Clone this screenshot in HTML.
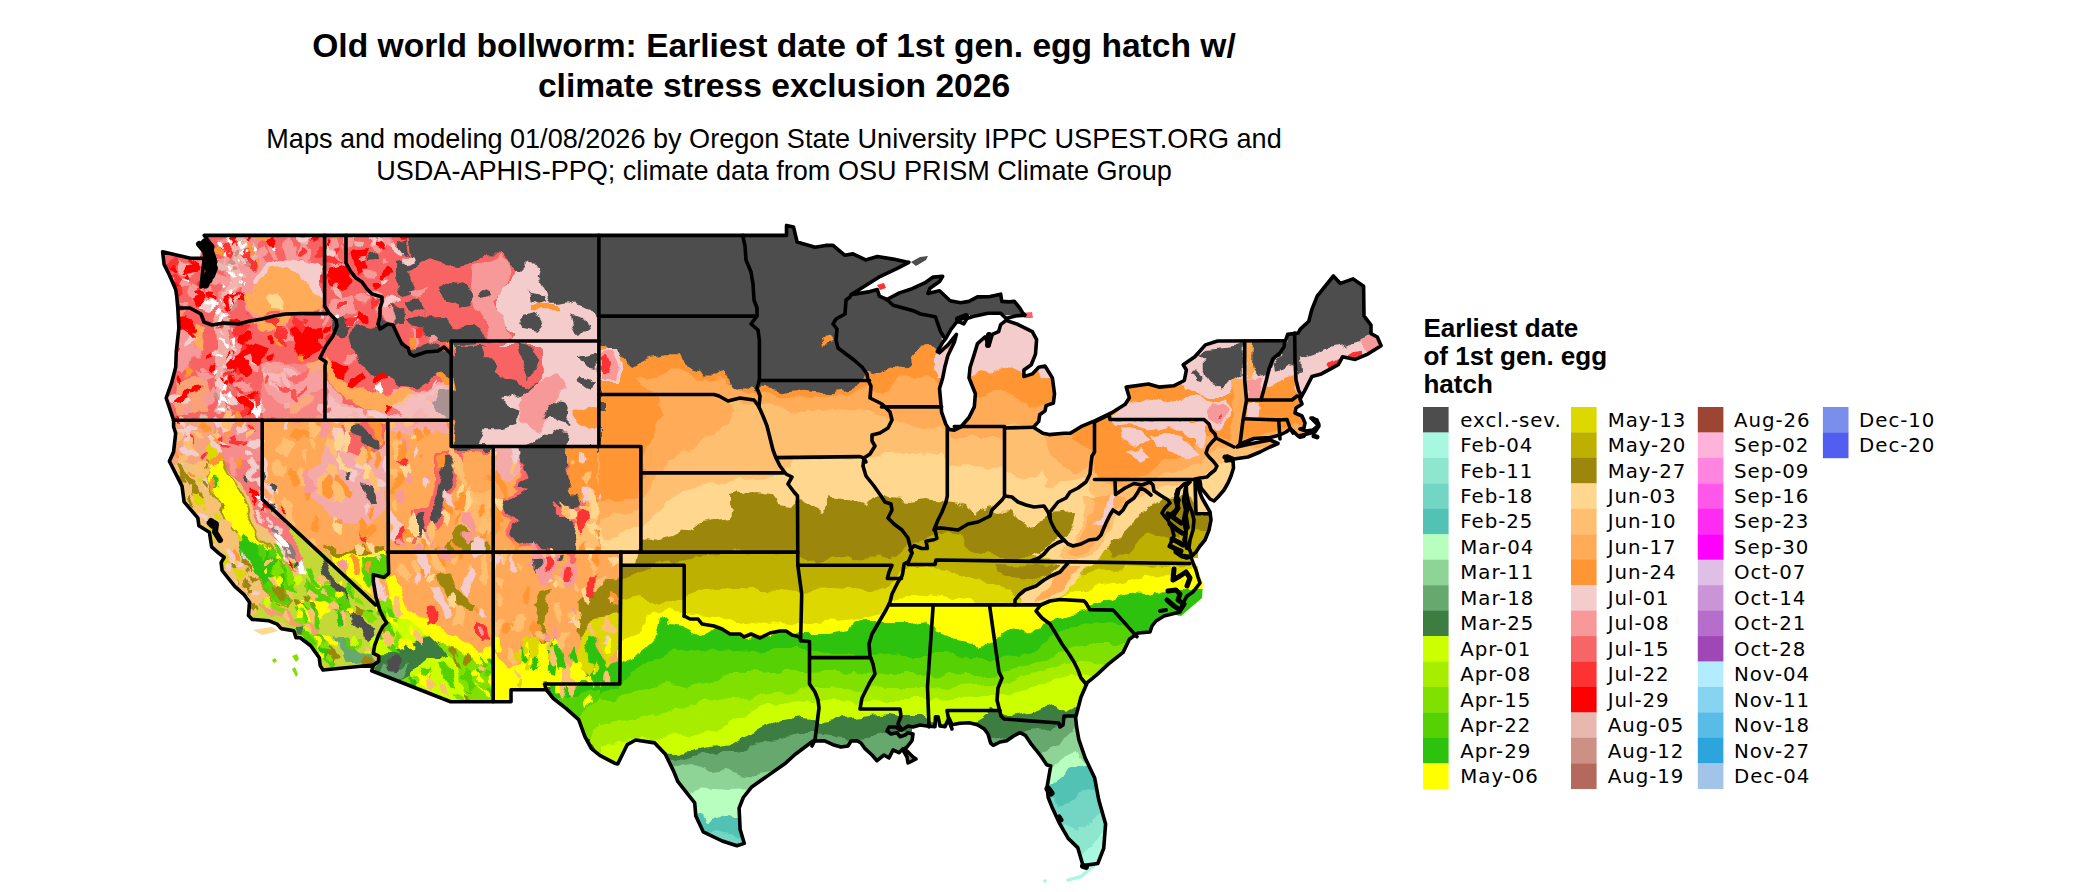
<!DOCTYPE html>
<html><head><meta charset="utf-8"><title>Old world bollworm map</title>
<style>
html,body{margin:0;padding:0;background:#fff;}
svg{display:block}
.t1{font-family:"Liberation Sans",sans-serif;font-weight:bold;font-size:33.6px;fill:#000;text-anchor:middle}
.t2{font-family:"Liberation Sans",sans-serif;font-size:27.07px;fill:#000;text-anchor:middle}
.lt{font-family:"Liberation Sans",sans-serif;font-weight:bold;font-size:26.05px;fill:#000}
.lg{font-family:"DejaVu Sans",sans-serif;font-size:19.8px;letter-spacing:0.95px;fill:#000}
</style></head><body>
<svg width="2100" height="892" viewBox="0 0 2100 892">
<rect width="2100" height="892" fill="#fff"/>
<text class="t1" x="774" y="57.2">Old world bollworm: Earliest date of 1st gen. egg hatch w/</text>
<text class="t1" x="774" y="96.5">climate stress exclusion 2026</text>
<text class="t2" x="774" y="147.8">Maps and modeling 01/08/2026 by Oregon State University IPPC USPEST.ORG and</text>
<text class="t2" x="774" y="180.3">USDA-APHIS-PPQ; climate data from OSU PRISM Climate Group</text>
<text class="lt" x="1423.4" y="336.5">Earliest date</text>
<text class="lt" x="1423.4" y="364.5">of 1st gen. egg</text>
<text class="lt" x="1423.4" y="392.5">hatch</text>

<rect x="1423.0" y="407.00" width="25.6" height="25.75" fill="#4d4d4d"/>
<text x="1460.3" y="426.6" class="lg">excl.-sev.</text>
<rect x="1423.0" y="432.45" width="25.6" height="25.75" fill="#a8f7e0"/>
<text x="1460.3" y="452.1" class="lg">Feb-04</text>
<rect x="1423.0" y="457.90" width="25.6" height="25.75" fill="#8ee6cf"/>
<text x="1460.3" y="477.5" class="lg">Feb-11</text>
<rect x="1423.0" y="483.35" width="25.6" height="25.75" fill="#73d5c3"/>
<text x="1460.3" y="503.0" class="lg">Feb-18</text>
<rect x="1423.0" y="508.80" width="25.6" height="25.75" fill="#52c2b5"/>
<text x="1460.3" y="528.4" class="lg">Feb-25</text>
<rect x="1423.0" y="534.25" width="25.6" height="25.75" fill="#b8ffbf"/>
<text x="1460.3" y="553.9" class="lg">Mar-04</text>
<rect x="1423.0" y="559.70" width="25.6" height="25.75" fill="#8fd497"/>
<text x="1460.3" y="579.3" class="lg">Mar-11</text>
<rect x="1423.0" y="585.15" width="25.6" height="25.75" fill="#67a86e"/>
<text x="1460.3" y="604.8" class="lg">Mar-18</text>
<rect x="1423.0" y="610.60" width="25.6" height="25.75" fill="#3e7d42"/>
<text x="1460.3" y="630.2" class="lg">Mar-25</text>
<rect x="1423.0" y="636.05" width="25.6" height="25.75" fill="#ccff00"/>
<text x="1460.3" y="655.7" class="lg">Apr-01</text>
<rect x="1423.0" y="661.50" width="25.6" height="25.75" fill="#a6ed00"/>
<text x="1460.3" y="681.1" class="lg">Apr-08</text>
<rect x="1423.0" y="686.95" width="25.6" height="25.75" fill="#80e000"/>
<text x="1460.3" y="706.6" class="lg">Apr-15</text>
<rect x="1423.0" y="712.40" width="25.6" height="25.75" fill="#55d104"/>
<text x="1460.3" y="732.0" class="lg">Apr-22</text>
<rect x="1423.0" y="737.85" width="25.6" height="25.75" fill="#2dc20e"/>
<text x="1460.3" y="757.5" class="lg">Apr-29</text>
<rect x="1423.0" y="763.30" width="25.6" height="25.75" fill="#ffff00"/>
<text x="1460.3" y="782.9" class="lg">May-06</text>
<rect x="1571.0" y="407.00" width="25.6" height="25.75" fill="#ddd800"/>
<text x="1607.7" y="426.6" class="lg">May-13</text>
<rect x="1571.0" y="432.45" width="25.6" height="25.75" fill="#bdb000"/>
<text x="1607.7" y="452.1" class="lg">May-20</text>
<rect x="1571.0" y="457.90" width="25.6" height="25.75" fill="#9c870c"/>
<text x="1607.7" y="477.5" class="lg">May-27</text>
<rect x="1571.0" y="483.35" width="25.6" height="25.75" fill="#ffd78f"/>
<text x="1607.7" y="503.0" class="lg">Jun-03</text>
<rect x="1571.0" y="508.80" width="25.6" height="25.75" fill="#ffbf70"/>
<text x="1607.7" y="528.4" class="lg">Jun-10</text>
<rect x="1571.0" y="534.25" width="25.6" height="25.75" fill="#ffab57"/>
<text x="1607.7" y="553.9" class="lg">Jun-17</text>
<rect x="1571.0" y="559.70" width="25.6" height="25.75" fill="#ff9633"/>
<text x="1607.7" y="579.3" class="lg">Jun-24</text>
<rect x="1571.0" y="585.15" width="25.6" height="25.75" fill="#f5cccc"/>
<text x="1607.7" y="604.8" class="lg">Jul-01</text>
<rect x="1571.0" y="610.60" width="25.6" height="25.75" fill="#f79999"/>
<text x="1607.7" y="630.2" class="lg">Jul-08</text>
<rect x="1571.0" y="636.05" width="25.6" height="25.75" fill="#f76666"/>
<text x="1607.7" y="655.7" class="lg">Jul-15</text>
<rect x="1571.0" y="661.50" width="25.6" height="25.75" fill="#fc3333"/>
<text x="1607.7" y="681.1" class="lg">Jul-22</text>
<rect x="1571.0" y="686.95" width="25.6" height="25.75" fill="#ff0000"/>
<text x="1607.7" y="706.6" class="lg">Jul-29</text>
<rect x="1571.0" y="712.40" width="25.6" height="25.75" fill="#e8b8ae"/>
<text x="1607.7" y="732.0" class="lg">Aug-05</text>
<rect x="1571.0" y="737.85" width="25.6" height="25.75" fill="#cc9085"/>
<text x="1607.7" y="757.5" class="lg">Aug-12</text>
<rect x="1571.0" y="763.30" width="25.6" height="25.75" fill="#b36a5c"/>
<text x="1607.7" y="782.9" class="lg">Aug-19</text>
<rect x="1697.8" y="407.00" width="25.6" height="25.75" fill="#9c4533"/>
<text x="1734.0" y="426.6" class="lg">Aug-26</text>
<rect x="1697.8" y="432.45" width="25.6" height="25.75" fill="#ffb3db"/>
<text x="1734.0" y="452.1" class="lg">Sep-02</text>
<rect x="1697.8" y="457.90" width="25.6" height="25.75" fill="#ff85e0"/>
<text x="1734.0" y="477.5" class="lg">Sep-09</text>
<rect x="1697.8" y="483.35" width="25.6" height="25.75" fill="#ff57ea"/>
<text x="1734.0" y="503.0" class="lg">Sep-16</text>
<rect x="1697.8" y="508.80" width="25.6" height="25.75" fill="#ff2bf2"/>
<text x="1734.0" y="528.4" class="lg">Sep-23</text>
<rect x="1697.8" y="534.25" width="25.6" height="25.75" fill="#ff00ff"/>
<text x="1734.0" y="553.9" class="lg">Sep-30</text>
<rect x="1697.8" y="559.70" width="25.6" height="25.75" fill="#e0bfe6"/>
<text x="1734.0" y="579.3" class="lg">Oct-07</text>
<rect x="1697.8" y="585.15" width="25.6" height="25.75" fill="#c995d6"/>
<text x="1734.0" y="604.8" class="lg">Oct-14</text>
<rect x="1697.8" y="610.60" width="25.6" height="25.75" fill="#b56ec9"/>
<text x="1734.0" y="630.2" class="lg">Oct-21</text>
<rect x="1697.8" y="636.05" width="25.6" height="25.75" fill="#a047b8"/>
<text x="1734.0" y="655.7" class="lg">Oct-28</text>
<rect x="1697.8" y="661.50" width="25.6" height="25.75" fill="#b3ecff"/>
<text x="1734.0" y="681.1" class="lg">Nov-04</text>
<rect x="1697.8" y="686.95" width="25.6" height="25.75" fill="#87d4f0"/>
<text x="1734.0" y="706.6" class="lg">Nov-11</text>
<rect x="1697.8" y="712.40" width="25.6" height="25.75" fill="#59bce6"/>
<text x="1734.0" y="732.0" class="lg">Nov-18</text>
<rect x="1697.8" y="737.85" width="25.6" height="25.75" fill="#2ba5db"/>
<text x="1734.0" y="757.5" class="lg">Nov-27</text>
<rect x="1697.8" y="763.30" width="25.6" height="25.75" fill="#a1c4e8"/>
<text x="1734.0" y="782.9" class="lg">Dec-04</text>
<rect x="1822.9" y="407.00" width="25.6" height="25.75" fill="#7a8feb"/>
<text x="1859.1" y="426.6" class="lg">Dec-10</text>
<rect x="1822.9" y="432.45" width="25.6" height="25.75" fill="#525eef"/>
<text x="1859.1" y="452.1" class="lg">Dec-20</text>
<defs><clipPath id="us"><path d="M204.2,235.4 L786.5,235.4 L786.5,225.4 L793.5,226.9 L797.1,242.0 L815.0,247.3 L825.6,245.4 L833.0,245.4 L844.6,255.2 L853.0,253.9 L865.7,259.9 L877.3,256.5 L893.1,259.1 L905.7,261.8 L908.9,262.3 L897.3,268.4 L880.4,276.3 L865.7,285.5 L850.9,294.8 L869.9,291.6 L877.3,289.5 L879.4,296.1 L886.8,299.5 L899.4,292.9 L912.1,288.7 L924.7,282.9 L933.2,277.1 L942.7,276.3 L939.5,281.6 L930.0,288.2 L927.9,293.4 L939.5,290.8 L950.1,300.8 L960.6,302.7 L969.0,301.4 L977.5,296.9 L990.1,296.6 L1000.7,294.2 L1001.8,301.4 L1009.1,301.9 L1014.4,301.4 L1019.7,308.0 L1022.9,313.2 L1025.0,315.1 L1015.5,315.9 L1006.0,318.5 L1000.7,313.2 L988.0,313.2 L975.4,315.9 L966.9,318.5 L963.8,323.8 L957.4,321.2 L951.1,329.1 L945.8,338.3 L942.7,342.3 L937.4,351.5 L939.5,352.8 L947.9,344.9 L956.4,334.4 L954.3,342.3 L947.9,355.5 L944.8,367.3 L942.7,377.9 L939.5,388.5 L940.6,400.3 L941.6,412.2 L945.8,424.1 L949.0,429.4 L954.3,430.1 L960.6,427.2 L969.0,417.5 L974.3,406.9 L975.4,393.7 L969.0,377.9 L970.1,367.3 L974.3,354.1 L977.5,343.6 L984.9,337.0 L989.1,344.9 L992.3,334.4 L998.6,331.7 L1000.7,324.6 L1006.0,320.4 L1017.6,324.3 L1032.3,331.7 L1036.6,339.6 L1035.5,354.1 L1031.3,364.7 L1023.9,370.0 L1023.9,376.6 L1032.3,373.9 L1038.7,367.3 L1045.0,366.0 L1052.4,377.9 L1054.5,393.7 L1053.4,403.0 L1046.1,405.6 L1045.0,410.9 L1039.7,414.8 L1038.7,421.4 L1033.4,427.2 L1042.9,433.3 L1049.2,434.6 L1064.0,433.3 L1070.3,433.3 L1080.9,426.7 L1095.2,420.6 L1111.3,413.0 L1125.2,404.3 L1129.4,397.7 L1126.2,387.1 L1148.4,384.0 L1158.9,387.1 L1173.7,385.8 L1184.3,380.5 L1186.4,370.0 L1183.2,364.7 L1194.8,356.8 L1205.4,344.9 L1217.6,341.0 L1285.5,340.7 L1287.7,334.4 L1298.2,333.0 L1300.3,329.1 L1308.8,321.2 L1311.9,309.3 L1317.2,296.1 L1333.4,276.0 L1340.4,283.4 L1353.1,278.9 L1363.6,286.3 L1364.0,315.9 L1371.0,325.1 L1371.0,333.6 L1377.3,337.0 L1381.1,345.7 L1367.8,354.1 L1355.2,359.4 L1342.5,356.8 L1338.3,364.7 L1321.4,373.9 L1311.9,376.6 L1304.5,391.1 L1300.0,399.0 L1302.0,404.0 L1296.0,408.0 L1295.0,413.0 L1302.0,416.0 L1305.0,423.0 L1304.0,428.0 L1300.0,429.0 L1306.0,431.0 L1313.0,430.0 L1318.0,426.0 L1317.0,420.0 L1311.0,418.0 L1317.0,420.0 L1319.0,426.0 L1315.0,432.0 L1305.0,434.5 L1298.0,436.0 L1292.0,430.0 L1290.0,429.0 L1286.0,432.0 L1280.0,435.0 L1270.0,437.5 L1254.0,438.5 L1240.0,444.0 L1237.0,447.0 L1250.0,444.0 L1262.0,441.5 L1270.0,440.0 L1278.0,443.5 L1270.0,447.0 L1260.0,452.0 L1248.0,457.0 L1234.0,459.0 L1227.0,456.0 L1226.0,461.0 L1233.0,460.0 L1233.5,468.0 L1231.0,476.0 L1228.0,483.0 L1224.0,490.0 L1218.0,497.0 L1214.0,501.0 L1210.0,499.0 L1206.0,494.0 L1201.0,488.0 L1200.0,481.0 L1197.0,481.0 L1199.0,490.0 L1202.0,498.0 L1206.0,505.0 L1210.0,512.0 L1211.0,520.0 L1209.0,530.0 L1205.0,540.0 L1200.0,546.0 L1196.0,552.0 L1192.0,556.0 L1189.0,548.0 L1190.0,540.0 L1193.0,530.0 L1194.0,520.0 L1192.0,512.0 L1189.0,505.0 L1187.0,496.0 L1186.0,486.0 L1190.0,482.0 L1184.0,484.0 L1178.0,490.0 L1176.0,494.0 L1179.0,500.0 L1176.0,510.0 L1170.0,515.0 L1168.0,520.0 L1172.0,528.0 L1174.0,536.0 L1172.0,540.0 L1170.0,545.0 L1176.0,550.0 L1180.0,555.0 L1186.0,558.0 L1190.6,556.0 L1193.5,564.0 L1196.0,570.0 L1198.0,577.0 L1200.0,583.0 L1193.0,592.0 L1187.0,596.0 L1183.0,603.0 L1180.0,612.0 L1172.0,614.0 L1164.0,616.0 L1156.0,621.0 L1152.0,626.0 L1150.0,632.0 L1138.0,633.0 L1129.4,639.2 L1123.1,652.4 L1108.3,664.2 L1096.7,674.8 L1087.2,682.7 L1080.9,697.2 L1075.6,717.8 L1076.7,727.6 L1078.8,739.4 L1085.1,757.9 L1094.6,777.7 L1098.8,800.1 L1105.6,823.9 L1103.7,848.4 L1097.8,863.5 L1083.0,865.6 L1077.7,847.6 L1068.2,838.4 L1059.8,823.9 L1052.4,808.1 L1048.2,797.5 L1047.1,786.9 L1050.7,766.0 L1046.7,764.7 L1041.3,756.7 L1036.0,750.0 L1030.7,743.3 L1025.3,735.3 L1020.0,732.7 L1014.7,735.3 L1006.7,740.7 L1000.0,742.0 L993.3,745.3 L990.7,743.3 L988.0,734.0 L984.0,728.7 L977.3,724.7 L969.3,722.7 L960.0,723.3 L952.0,724.7 L949.0,718.0 L947.0,722.0 L945.0,726.7 L940.0,726.0 L938.0,716.7 L935.5,716.7 L935.0,726.7 L927.0,726.0 L920.0,725.0 L913.0,727.0 L908.0,726.0 L904.0,728.7 L900.0,730.0 L896.0,727.0 L889.0,727.0 L887.0,731.0 L891.0,734.0 L897.0,732.7 L900.0,736.7 L905.0,735.0 L908.0,732.7 L913.0,734.0 L912.0,740.7 L907.0,747.0 L903.0,750.0 L907.0,757.0 L908.0,763.0 L916.0,759.0 L913.0,757.0 L907.0,751.0 L903.0,748.7 L899.0,752.7 L893.0,750.0 L889.0,758.0 L884.0,755.0 L877.0,760.7 L872.0,755.0 L865.0,748.7 L861.0,743.0 L857.0,740.7 L851.0,741.0 L848.0,746.0 L841.0,747.0 L833.0,744.7 L824.0,740.7 L813.0,741.0 L795.0,754.5 L785.5,763.2 L768.6,775.1 L751.7,786.9 L743.3,797.5 L739.1,808.1 L740.1,829.2 L744.3,843.4 L736.9,845.8 L722.2,841.0 L703.2,831.8 L695.8,816.0 L694.7,802.8 L677.9,781.7 L673.6,771.1 L665.2,754.0 L654.7,742.9 L635.7,740.0 L627.2,744.7 L617.7,764.0 L614.6,763.2 L599.8,755.3 L591.4,748.7 L585.0,736.8 L578.7,719.6 L566.0,708.3 L553.4,698.5 L546.4,689.8 L511.0,689.8 L511.0,701.7 L450.6,701.7 L371.7,670.8 L373.6,665.0 L323.0,670.0 L320.2,665.5 L319.2,657.6 L310.7,645.8 L300.2,637.8 L296.0,637.8 L293.8,630.7 L281.2,628.6 L277.0,624.1 L268.5,620.7 L252.3,619.4 L248.5,615.4 L249.5,602.2 L243.8,594.3 L234.8,586.4 L222.1,570.5 L221.1,562.6 L224.2,557.3 L218.9,553.4 L211.6,546.8 L209.4,532.3 L198.9,525.7 L197.8,517.8 L184.1,501.9 L182.0,486.1 L169.4,461.3 L173.6,451.8 L175.7,433.3 L173.6,426.7 L173.6,420.1 L166.2,398.0 L171.5,383.2 L175.7,367.3 L176.3,351.5 L178.9,327.8 L177.8,308.0 L176.7,296.1 L175.7,289.5 L169.4,275.0 L164.1,264.4 L162.6,251.8 L190.5,258.3 L204.2,258.3 L201.0,286.9 L210.5,281.0 L212.6,272.3 L215.8,261.8 L209.4,242.0ZM1164.0,478.0 L1200.0,478.0 L1198.0,558.0 L1166.0,558.0Z M203.5,238.0 L220.0,238.0 L220.0,290.0 L200.0,290.0 L199.0,262.0Z M1172.0,566.0 L1198.0,566.0 L1201.0,598.0 L1178.0,616.0 L1168.0,600.0Z M1194.0,565.0 L1203.0,583.0 L1202.0,598.0 L1181.0,616.0 L1172.0,614.0Z M887.0,726.0 L912.0,726.0 L912.0,740.0 L887.0,737.0Z"/></clipPath></defs>
<defs><filter id="wob" x="140" y="210" width="1280" height="690" filterUnits="userSpaceOnUse" color-interpolation-filters="sRGB"><feTurbulence type="fractalNoise" baseFrequency="0.045" numOctaves="3" seed="7" result="n"/><feDisplacementMap in="SourceGraphic" in2="n" scale="14" xChannelSelector="R" yChannelSelector="G"/></filter></defs>
<g clip-path="url(#us)"><g filter="url(#wob)">
<rect x="150" y="220" width="1260" height="670" fill="#ffab57"/>
<path d="M150.0,220.0 L1410.0,220.0 L1410.0,890.0 L150.0,890.0Z" fill="#4d4d4d"/>
<path d="M598.0,900.0 L598.0,344.7 L598.0,344.7 L607.6,346.4 L618.2,353.5 L625.2,360.5 L632.3,367.6 L641.1,362.3 L648.1,358.8 L658.7,357.0 L665.8,355.2 L678.1,355.2 L681.6,364.0 L688.7,367.6 L699.2,369.3 L704.5,376.4 L713.3,376.4 L723.9,372.9 L730.9,379.9 L738.0,387.0 L745.0,385.2 L752.1,387.0 L756.5,390.5 L759.1,388.7 L766.2,388.7 L783.8,392.2 L801.4,388.7 L819.0,390.5 L827.8,392.2 L836.7,388.7 L850.7,386.9 L861.3,381.7 L864.8,372.9 L868.4,369.3 L880.7,371.1 L889.5,367.6 L903.6,369.3 L912.4,364.0 L912.4,355.2 L919.5,348.2 L933.6,346.4 L942.0,346.0 L950.0,330.0 L960.0,316.0 L1045.0,316.0 L1060.0,400.0 L1100.0,400.0 L1180.0,335.0 L1300.0,300.0 L1400.0,270.0 L1410.0,270.0 L1410.0,900.0Z" fill="#ff9633"/>
<path d="M598.0,900.0 L598.0,505.0 L598.0,505.0 L640.0,497.0 L644.0,462.0 L652.0,436.0 L664.0,414.0 L659.0,400.0 L648.0,394.0 L637.6,380.0 L660.5,373.0 L678.0,371.0 L695.7,374.6 L702.8,380.0 L724.0,378.0 L734.5,385.0 L748.6,390.5 L756.5,394.0 L784.0,397.5 L819.0,396.0 L854.0,390.5 L868.0,387.0 L889.5,390.5 L898.0,378.0 L916.0,376.4 L933.6,378.0 L942.0,390.0 L950.0,398.0 L962.0,400.0 L974.0,397.0 L988.0,391.0 L1001.0,391.0 L1018.0,399.0 L1028.0,407.0 L1043.0,406.0 L1052.0,398.0 L1056.0,412.0 L1045.0,434.0 L1068.0,432.0 L1073.0,437.0 L1080.0,444.0 L1093.0,450.7 L1096.0,470.0 L1100.0,480.0 L1130.0,480.0 L1150.0,470.0 L1170.0,460.0 L1190.0,448.0 L1205.0,440.0 L1215.0,436.0 L1236.0,440.0 L1260.0,436.0 L1300.0,425.0 L1410.0,425.0 L1410.0,425.0 L1410.0,900.0Z" fill="#ffab57"/>
<path d="M598.0,900.0 L598.0,520.0 L598.0,520.0 L642.0,510.0 L650.0,478.0 L684.0,452.0 L706.0,438.0 L730.0,424.0 L733.0,412.0 L722.0,399.0 L745.0,404.0 L760.0,406.0 L790.0,409.0 L830.0,411.0 L868.0,413.0 L885.0,418.0 L900.0,424.0 L946.0,428.0 L948.0,438.0 L1004.0,438.0 L1004.0,427.0 L1033.0,426.0 L1041.0,433.0 L1046.7,438.7 L1046.7,456.0 L1060.0,464.0 L1073.0,474.7 L1089.0,466.7 L1094.0,470.0 L1100.0,482.0 L1116.0,484.0 L1140.0,488.0 L1160.0,478.0 L1180.0,470.0 L1200.0,462.0 L1210.0,452.0 L1225.0,448.0 L1240.0,446.0 L1410.0,446.0 L1410.0,446.0 L1410.0,900.0Z" fill="#ffbf70"/>
<path d="M598.0,900.0 L598.0,540.0 L598.0,540.0 L641.0,526.0 L660.0,510.0 L682.0,492.0 L710.0,482.0 L740.0,478.0 L770.0,476.0 L790.0,470.0 L797.0,458.0 L860.0,456.0 L900.0,455.0 L946.0,456.0 L948.0,466.0 L1004.0,467.0 L1005.0,474.7 L1020.0,480.0 L1033.0,474.7 L1044.0,469.0 L1050.7,477.0 L1044.0,486.7 L1060.0,485.0 L1073.0,482.7 L1084.0,480.0 L1090.0,490.0 L1100.0,496.0 L1140.0,495.0 L1150.0,490.0 L1165.0,486.0 L1180.0,484.0 L1197.0,480.0 L1205.0,474.0 L1215.0,466.0 L1232.0,460.0 L1410.0,460.0 L1410.0,460.0 L1410.0,900.0Z" fill="#ffd78f"/>
<path d="M598.0,900.0 L598.0,572.0 L598.0,572.0 L620.0,568.0 L636.0,566.0 L638.0,552.0 L641.0,540.0 L647.0,538.0 L660.0,540.0 L674.0,536.0 L690.0,528.0 L700.0,520.0 L714.0,518.0 L730.0,516.0 L734.0,510.0 L728.0,506.0 L728.0,494.0 L736.0,492.0 L744.0,498.0 L756.0,494.0 L770.0,496.0 L776.0,504.0 L790.0,506.0 L796.0,498.0 L800.0,496.0 L810.0,506.0 L822.0,512.0 L828.0,506.0 L828.0,494.0 L840.0,496.0 L850.0,498.0 L860.0,502.0 L870.0,506.0 L874.0,498.0 L882.0,496.0 L890.0,500.0 L910.0,502.0 L930.0,500.0 L946.0,503.0 L960.0,505.0 L967.0,507.0 L973.0,515.0 L984.0,507.0 L991.0,505.0 L996.0,511.0 L1004.0,513.0 L1012.0,512.0 L1020.0,520.0 L1030.0,526.0 L1040.0,524.0 L1050.0,514.0 L1075.0,512.0 L1100.0,515.0 L1130.0,520.0 L1148.0,511.0 L1159.0,503.0 L1170.0,497.0 L1186.0,496.0 L1192.0,505.0 L1197.0,514.0 L1215.0,514.0 L1410.0,514.0 L1410.0,514.0 L1410.0,900.0Z" fill="#9c870c"/>
<path d="M598.0,900.0 L598.0,590.0 L598.0,590.0 L620.0,580.0 L636.0,575.0 L660.0,561.0 L700.0,556.0 L740.0,552.0 L797.0,556.0 L810.0,560.0 L850.0,557.0 L890.0,558.0 L906.0,548.0 L915.0,541.0 L935.0,535.0 L950.0,533.0 L960.0,535.0 L964.0,548.0 L980.0,554.0 L1000.0,558.0 L1030.0,559.0 L1049.0,548.0 L1064.0,541.0 L1076.0,545.0 L1107.0,548.0 L1113.0,557.7 L1127.0,555.0 L1140.0,541.7 L1153.0,535.0 L1167.0,539.0 L1180.0,535.0 L1187.0,524.0 L1195.0,528.0 L1215.0,530.0 L1410.0,530.0 L1410.0,530.0 L1410.0,900.0Z" fill="#bdb000"/>
<path d="M598.0,900.0 L598.0,610.0 L598.0,610.0 L621.0,600.0 L640.0,596.0 L660.0,606.0 L684.0,596.0 L700.0,590.0 L740.0,588.0 L780.0,590.0 L800.0,592.0 L830.0,590.0 L870.0,592.0 L890.0,586.0 L898.0,576.0 L910.0,568.0 L935.0,568.0 L955.0,572.0 L970.0,578.0 L992.0,582.0 L1010.0,590.0 L1020.0,598.0 L1030.0,602.0 L1060.0,596.0 L1073.0,575.0 L1087.0,573.7 L1100.0,569.7 L1127.0,568.0 L1153.0,569.7 L1173.0,569.7 L1200.0,568.0 L1410.0,568.0 L1410.0,568.0 L1410.0,900.0Z" fill="#ddd800"/>
<path d="M598.0,900.0 L598.0,650.0 L598.0,650.0 L621.0,642.0 L636.0,634.0 L650.0,616.0 L660.0,612.0 L684.0,614.0 L700.0,616.0 L730.0,620.0 L760.0,624.0 L780.0,622.0 L800.0,624.0 L830.0,622.0 L860.0,618.0 L880.0,612.0 L892.0,600.0 L910.0,594.0 L935.0,596.0 L960.0,600.0 L992.0,604.0 L1020.0,603.0 L1041.0,604.0 L1060.0,597.0 L1073.0,591.0 L1087.0,591.0 L1097.0,585.7 L1113.0,583.0 L1127.0,580.0 L1140.0,579.0 L1160.0,576.0 L1173.0,575.0 L1200.0,572.0 L1410.0,572.0 L1410.0,572.0 L1410.0,900.0Z" fill="#ffff00"/>
<path d="M598.0,900.0 L598.0,676.0 L598.0,676.0 L620.0,664.0 L636.0,654.0 L650.0,642.0 L658.0,632.0 L662.0,616.0 L670.0,624.0 L682.0,626.0 L698.0,634.0 L710.0,628.0 L722.0,631.0 L730.0,636.0 L750.0,640.0 L770.0,636.0 L780.0,630.0 L790.0,634.0 L800.0,634.0 L830.0,634.0 L850.0,630.0 L854.0,622.0 L866.0,618.0 L878.0,622.0 L890.0,624.0 L910.0,624.0 L926.0,620.0 L936.0,632.0 L950.0,638.0 L970.0,642.0 L980.0,650.0 L990.0,642.0 L1000.0,638.0 L1010.0,632.0 L1030.0,630.0 L1042.0,626.0 L1050.0,622.0 L1070.0,614.0 L1086.0,612.0 L1090.0,607.0 L1097.0,604.0 L1107.0,601.7 L1120.0,596.0 L1129.0,593.7 L1140.0,595.0 L1148.0,597.7 L1156.0,592.0 L1167.0,591.0 L1180.0,588.0 L1210.0,588.0 L1410.0,588.0 L1410.0,900.0Z" fill="#2dc20e"/>
<path d="M598.0,900.0 L598.0,696.0 L598.0,696.0 L620.0,684.0 L630.0,670.0 L650.0,660.0 L670.0,652.0 L690.0,650.0 L710.0,652.0 L730.0,650.0 L750.0,652.0 L770.0,648.0 L790.0,648.0 L808.0,648.0 L830.0,656.0 L850.0,656.0 L866.0,656.0 L880.0,652.0 L900.0,656.0 L930.0,656.0 L950.0,656.0 L970.0,660.0 L990.0,660.0 L1010.0,656.0 L1030.0,650.0 L1046.0,642.0 L1056.0,636.0 L1074.0,630.0 L1090.0,624.0 L1110.0,622.0 L1130.0,626.0 L1138.0,632.0 L1160.0,632.0 L1410.0,632.0 L1410.0,900.0Z" fill="#55d104"/>
<path d="M598.0,900.0 L598.0,704.0 L610.0,704.0 L630.0,696.0 L650.0,688.0 L670.0,684.0 L690.0,688.0 L710.0,684.0 L730.0,670.0 L750.0,670.0 L770.0,672.0 L790.0,672.0 L808.0,672.0 L820.0,670.0 L840.0,670.0 L870.0,672.0 L890.0,674.0 L930.0,674.0 L950.0,672.0 L990.0,674.0 L1010.0,670.0 L1030.0,664.0 L1050.0,656.0 L1066.0,650.0 L1080.0,646.0 L1100.0,644.0 L1118.0,644.0 L1140.0,644.0 L1410.0,644.0 L1410.0,900.0Z" fill="#80e000"/>
<path d="M598.0,900.0 L598.0,726.0 L598.0,726.0 L630.0,718.0 L670.0,712.0 L700.0,705.0 L730.0,698.0 L760.0,694.0 L790.0,690.0 L810.0,688.0 L830.0,688.0 L860.0,690.0 L880.0,688.0 L930.0,688.0 L990.0,684.0 L1010.0,680.0 L1030.0,676.0 L1050.0,670.0 L1070.0,662.0 L1084.0,660.0 L1102.0,662.0 L1125.0,658.0 L1410.0,658.0 L1410.0,900.0Z" fill="#a6ed00"/>
<path d="M598.0,900.0 L598.0,744.0 L598.0,744.0 L630.0,738.0 L660.0,736.0 L690.0,738.0 L710.0,730.0 L730.0,722.0 L750.0,712.0 L770.0,704.0 L790.0,702.0 L810.0,700.0 L830.0,700.0 L860.0,702.0 L890.0,700.0 L930.0,700.0 L990.0,698.0 L1010.0,694.0 L1030.0,690.0 L1050.0,682.0 L1070.0,676.0 L1080.0,676.0 L1110.0,672.0 L1410.0,672.0 L1410.0,900.0Z" fill="#ccff00"/>
<path d="M598.0,900.0 L598.0,775.0 L598.0,775.0 L640.0,766.0 L658.0,752.0 L674.0,753.0 L690.0,752.0 L710.0,747.0 L730.0,744.0 L740.0,738.0 L750.0,734.0 L770.0,726.0 L786.0,720.0 L800.0,717.0 L814.0,718.0 L820.0,724.0 L830.0,722.0 L850.0,718.0 L870.0,716.0 L890.0,714.0 L900.0,716.0 L920.0,716.0 L930.0,724.0 L940.0,726.0 L950.0,724.0 L970.0,724.0 L990.0,712.0 L1006.0,712.0 L1014.0,716.0 L1030.0,712.0 L1046.0,706.0 L1054.0,702.0 L1066.0,712.0 L1074.0,708.0 L1100.0,704.0 L1410.0,704.0 L1410.0,900.0Z" fill="#3e7d42"/>
<path d="M598.0,900.0 L598.0,780.0 L598.0,780.0 L650.0,770.0 L668.0,758.0 L682.0,760.0 L700.0,756.0 L720.0,752.0 L736.0,752.0 L750.0,744.0 L770.0,740.0 L790.0,736.0 L800.0,734.0 L816.0,734.0 L830.0,736.0 L850.0,738.0 L870.0,740.0 L876.0,734.0 L890.0,732.0 L905.0,730.0 L940.0,740.0 L980.0,740.0 L1000.0,738.0 L1020.0,734.0 L1040.0,730.0 L1056.0,726.0 L1062.0,722.0 L1074.0,718.0 L1100.0,716.0 L1410.0,716.0 L1410.0,900.0Z" fill="#67a86e"/>
<path d="M598.0,900.0 L598.0,790.0 L598.0,790.0 L660.0,775.0 L674.0,768.0 L690.0,766.0 L710.0,772.0 L726.0,770.0 L740.0,774.0 L760.0,776.0 L800.0,770.0 L1000.0,770.0 L1030.0,760.0 L1040.0,754.0 L1050.0,748.0 L1062.0,742.0 L1070.0,734.0 L1076.0,726.0 L1100.0,724.0 L1410.0,724.0 L1410.0,900.0Z" fill="#8fd497"/>
<path d="M598.0,900.0 L598.0,790.0 L670.0,790.0 L686.0,792.0 L698.0,788.0 L714.0,790.0 L730.0,791.0 L760.0,790.0 L1000.0,790.0 L1040.0,774.0 L1050.0,766.0 L1058.0,760.0 L1070.0,754.0 L1078.0,752.0 L1084.0,760.0 L1110.0,760.0 L1410.0,760.0 L1410.0,900.0Z" fill="#b8ffbf"/>
<path d="M598.0,900.0 L598.0,810.0 L680.0,810.0 L698.0,814.0 L710.0,822.0 L718.0,818.0 L730.0,814.0 L736.0,816.0 L770.0,816.0 L1000.0,810.0 L1040.0,790.0 L1050.0,782.0 L1060.0,776.0 L1066.0,770.0 L1076.0,766.0 L1086.0,764.0 L1110.0,764.0 L1410.0,764.0 L1410.0,900.0Z" fill="#52c2b5"/>
<path d="M598.0,900.0 L598.0,828.0 L690.0,828.0 L706.0,830.0 L722.0,834.0 L740.0,837.0 L770.0,838.0 L1000.0,830.0 L1040.0,800.0 L1048.0,794.0 L1056.0,798.0 L1064.0,808.0 L1074.0,796.0 L1086.0,792.0 L1096.0,790.0 L1120.0,790.0 L1410.0,790.0 L1410.0,900.0Z" fill="#73d5c3"/>
<path d="M1030.0,900.0 L1030.0,840.0 L1040.0,840.0 L1064.0,826.0 L1074.0,832.0 L1086.0,828.0 L1092.0,818.0 L1102.0,814.0 L1120.0,812.0 L1410.0,812.0 L1410.0,900.0Z" fill="#8ee6cf"/>
<path d="M1075.0,900.0 L1075.0,860.0 L1080.0,860.0 L1094.0,842.0 L1098.0,834.0 L1104.0,826.0 L1120.0,824.0 L1410.0,824.0 L1410.0,900.0Z" fill="#a8f7e0"/>
<path d="M1073.0,495.0 L1140.0,495.0 L1127.0,515.0 L1107.0,545.7 L1100.0,559.0 L1080.0,575.0 L1060.0,596.0 L1041.0,603.0 L1020.0,601.7 L1027.0,591.0 L1047.0,575.0 L1057.0,567.0 L1049.0,556.0 L1041.0,559.0 L1033.0,557.7 L1060.0,540.0 L1068.0,535.0 L1073.0,521.7 L1076.0,508.0Z" fill="#ffd78f"/>
<path d="M1083.0,495.0 L1134.0,495.0 L1120.0,515.0 L1104.0,540.0 L1093.0,555.0 L1073.0,560.0 L1060.0,557.0 L1075.0,540.0 L1082.0,521.7 L1086.0,508.0Z" fill="#ffbf70"/>
<path d="M1093.0,495.0 L1127.0,495.0 L1113.0,515.0 L1100.0,535.0 L1087.0,551.0 L1073.0,557.7 L1067.0,555.0 L1080.0,539.0 L1087.0,521.7 L1091.0,508.0Z" fill="#ffab57"/>
<path d="M1112.0,495.0 L1120.0,495.0 L1113.0,508.0 L1100.0,523.0 L1093.0,524.0 L1104.0,508.0Z" fill="#f5cccc"/>
<path d="M1068.0,564.0 L1084.0,564.0 L1073.0,575.0 L1060.0,588.0 L1047.0,599.0 L1033.0,601.7 L1044.0,588.0 L1057.0,575.0Z" fill="#ffab57"/>
<path d="M1137.0,495.0 L1167.0,495.0 L1159.0,503.0 L1148.0,511.0 L1133.0,521.7 L1120.0,535.0 L1107.0,547.0 L1104.0,539.0 L1113.0,521.7 L1127.0,507.0Z" fill="#ffd78f"/>
<path d="M1051.0,513.0 L1073.0,511.0 L1072.0,522.0 L1066.0,536.0 L1062.0,539.0 L1056.0,530.0 L1052.0,522.0Z" fill="#9c870c"/>
<path d="M993.0,565.0 L1060.0,566.0 L1050.0,575.0 L1030.0,580.0 L1010.0,578.0 L996.0,572.0Z" fill="#9c870c"/>
<path d="M960.0,316.0 L1045.0,316.0 L1045.0,356.0 L1040.0,360.0 L1030.0,366.0 L1022.0,372.0 L1010.0,366.0 L1000.0,372.0 L990.0,376.0 L968.0,372.0 L960.0,360.0Z" fill="#f5cccc"/>
<path d="M1036.0,366.0 L1050.0,364.0 L1050.0,380.0 L1040.0,378.0Z" fill="#f5cccc"/>
<path d="M936.0,346.0 L950.0,328.0 L958.0,330.0 L948.0,350.0 L942.0,376.0 L936.0,376.0Z" fill="#f5cccc"/>
<path d="M1177.0,381.0 L1185.0,376.0 L1180.0,366.0 L1190.0,352.0 L1214.7,336.0 L1290.0,330.0 L1400.0,250.0 L1400.0,372.0 L1340.0,372.0 L1320.0,378.0 L1305.0,392.0 L1297.0,396.0 L1280.0,392.0 L1270.0,386.0 L1262.0,400.0 L1247.0,400.0 L1244.0,392.0 L1236.0,388.0 L1227.0,396.0 L1210.0,396.0 L1198.0,392.0 L1185.0,386.0Z" fill="#f5cccc"/>
<path d="M1110.0,416.0 L1126.0,404.0 L1140.0,398.0 L1160.0,400.0 L1166.0,406.0 L1175.0,402.0 L1186.0,396.0 L1200.0,394.0 L1213.0,400.0 L1226.0,402.0 L1232.0,412.0 L1228.0,420.0 L1220.0,428.0 L1210.0,426.0 L1204.0,420.0 L1110.0,420.0Z" fill="#f5cccc"/>
<path d="M1206.0,410.0 L1214.0,402.0 L1224.0,405.0 L1229.0,413.0 L1224.0,421.0 L1216.0,423.0 L1209.0,419.0Z" fill="#f79999"/>
<path d="M1217.0,417.0 L1220.0,416.0 L1221.0,419.0 L1218.0,420.0Z" fill="#fc3333"/>
<path d="M1112.0,421.0 L1204.0,421.0 L1208.0,427.0 L1204.0,438.0 L1192.0,438.0 L1180.0,430.0 L1166.0,426.0 L1153.0,430.0 L1140.0,426.0 L1126.0,424.0 L1113.0,426.0Z" fill="#f5cccc"/>
<path d="M1150.0,436.0 L1170.0,432.0 L1185.0,438.0 L1175.0,446.0 L1158.0,448.0Z" fill="#f5cccc"/>
<path d="M1118.0,428.0 L1140.0,430.0 L1150.0,440.0 L1135.0,446.0 L1120.0,440.0Z" fill="#f5cccc"/>
<path d="M1160.0,440.0 L1176.0,436.0 L1190.0,442.0 L1200.0,452.0 L1186.0,456.0 L1170.0,452.0Z" fill="#f5cccc"/>
<path d="M1125.0,452.0 L1140.0,448.0 L1150.0,456.0 L1138.0,462.0Z" fill="#f5cccc"/>
<path d="M1196.0,428.0 L1206.0,430.0 L1204.0,446.0 L1196.0,444.0Z" fill="#f5cccc"/>
<path d="M1232.0,380.0 L1245.0,380.0 L1247.0,400.0 L1244.0,418.0 L1241.0,440.0 L1230.0,440.0 L1233.0,420.0Z" fill="#ffab57"/>
<path d="M1246.0,341.0 L1253.0,341.0 L1253.0,379.0 L1247.0,379.0Z" fill="#ffab57"/>
<path d="M1248.0,380.0 L1264.0,378.0 L1262.0,400.0 L1247.0,400.0Z" fill="#f79999"/>
<path d="M1270.0,386.0 L1296.0,372.0 L1298.0,391.0 L1301.0,395.0 L1292.0,400.0 L1262.0,400.0Z" fill="#ff9633"/>
<path d="M1247.0,402.0 L1260.0,402.0 L1258.0,418.0 L1245.0,418.0Z" fill="#f5cccc"/>
<path d="M1204.0,348.0 L1242.7,344.0 L1242.7,376.0 L1238.7,378.7 L1232.0,382.7 L1226.7,386.7 L1220.0,390.7 L1213.0,386.7 L1206.7,378.7 L1202.7,370.7 L1202.7,360.0 L1198.7,357.0 L1201.0,350.7Z" fill="#4d4d4d"/>
<path d="M1192.0,373.0 L1197.0,371.0 L1202.7,377.0 L1201.0,381.0 L1196.0,380.0Z" fill="#4d4d4d"/>
<path d="M1253.0,342.7 L1284.0,341.0 L1278.7,354.7 L1272.0,360.0 L1268.0,370.7 L1264.0,376.0 L1257.0,377.0 L1253.0,370.7 L1252.0,360.0Z" fill="#4d4d4d"/>
<path d="M1286.7,330.0 L1294.0,330.0 L1294.7,364.0 L1292.0,366.7 L1285.0,365.0 L1278.7,369.0 L1272.0,370.7 L1270.7,364.0 L1274.7,358.7 L1281.0,353.0 L1285.0,346.7Z" fill="#4d4d4d"/>
<path d="M1294.0,250.0 L1400.0,250.0 L1400.0,325.0 L1369.0,333.0 L1366.7,334.7 L1361.0,337.0 L1360.0,341.0 L1346.7,345.0 L1337.0,346.7 L1326.7,349.0 L1318.7,353.0 L1308.0,357.0 L1300.0,360.0 L1301.0,372.0 L1297.0,374.0 L1294.0,366.0Z" fill="#4d4d4d"/>
<path d="M1361.0,338.0 L1369.0,333.0 L1390.0,330.0 L1390.0,352.0 L1368.0,352.0 L1362.0,346.0Z" fill="#f79999"/>
<path d="M1330.0,362.0 L1348.0,352.0 L1362.0,350.0 L1362.0,356.0 L1345.0,362.0 L1333.0,368.0Z" fill="#fc3333"/>
<path d="M150.0,225.0 L405.0,225.0 L420.0,300.0 L440.0,345.0 L452.0,345.0 L452.0,421.0 L150.0,421.0Z" fill="#f86464"/>
<path d="M150.0,420.0 L215.0,420.0 L222.0,463.0 L150.0,463.0Z" fill="#f8a47c"/>
<path d="M213.0,420.0 L262.0,420.0 L262.0,470.0 L222.0,463.0Z" fill="#f68c8c"/>
<path d="M262.0,420.0 L452.0,420.0 L452.0,447.0 L493.0,447.0 L493.0,552.0 L598.0,552.0 L620.0,552.0 L620.0,690.0 L493.0,690.0 L493.0,702.0 L450.0,702.0 L372.0,668.0 L378.0,601.0 L262.0,503.0Z" fill="#ffa858"/>
<path d="M493.0,447.0 L600.0,447.0 L600.0,552.0 L493.0,552.0Z" fill="#ffa858"/>
<path d="M150.0,463.0 L262.0,463.0 L262.0,503.0 L378.0,601.0 L386.0,622.0 L374.0,650.0 L373.0,670.0 L150.0,670.0Z" fill="#f2c276"/>
<path d="M150.0,463.0 L222.0,463.0 L236.0,490.0 L249.0,516.0 L262.0,545.0 L290.0,600.0 L300.0,640.0 L250.0,640.0 L150.0,640.0Z" fill="#f2c276"/>
<path d="M222.0,463.0 L262.0,463.0 L262.0,496.0 L270.0,510.0 L283.0,523.0 L297.0,543.0 L304.0,557.0 L306.0,572.0 L290.0,572.0 L278.0,548.0 L267.0,530.0 L257.0,516.0 L249.0,503.0 L241.0,483.0Z" fill="#f57878"/>
<path d="M262.0,503.0 L378.0,601.0 L386.0,622.0 L374.0,650.0 L373.0,666.0 L323.0,670.0 L316.0,650.0 L299.0,636.0 L280.0,625.0 L255.0,618.0 L262.0,600.0 L290.0,600.0 L300.0,572.0 L306.0,572.0 L304.0,557.0 L297.0,543.0 L283.0,523.0 L270.0,510.0Z" fill="#c4d838"/>
<path d="M206.0,463.0 L222.0,463.0 L230.0,476.3 L236.7,489.7 L243.3,503.0 L248.7,516.3 L256.7,529.7 L262.0,543.0 L270.0,553.0 L278.0,564.0 L284.0,572.0 L289.0,600.0 L284.0,606.0 L273.0,600.0 L264.0,589.0 L256.0,576.0 L248.7,560.0 L243.3,548.3 L238.0,540.3 L230.0,527.0 L224.7,516.3 L219.3,503.0 L214.0,489.7 L208.7,476.3Z" fill="none" stroke="#a89a10" stroke-width="4" stroke-linejoin="round"/>
<path d="M206.0,463.0 L222.0,463.0 L230.0,476.3 L236.7,489.7 L243.3,503.0 L248.7,516.3 L256.7,529.7 L262.0,543.0 L270.0,553.0 L278.0,564.0 L284.0,572.0 L289.0,600.0 L284.0,606.0 L273.0,600.0 L264.0,589.0 L256.0,576.0 L248.7,560.0 L243.3,548.3 L238.0,540.3 L230.0,527.0 L224.7,516.3 L219.3,503.0 L214.0,489.7 L208.7,476.3Z" fill="#ffff00"/>
<path d="M214.0,476.3 L219.3,477.7 L220.7,488.3 L215.3,489.7Z" fill="#2dc20e"/>
<path d="M238.0,537.7 L243.3,533.7 L251.3,540.3 L259.3,545.7 L270.0,553.7 L278.0,564.3 L284.0,572.0 L286.7,586.7 L289.3,600.0 L284.0,605.3 L273.3,600.0 L264.0,589.3 L256.0,576.0 L248.7,569.7 L240.7,556.3 L238.0,545.7Z" fill="#2dc20e"/>
<path d="M262.0,585.0 L275.0,580.0 L286.0,590.0 L288.0,600.0 L284.0,605.0 L273.0,600.0Z" fill="#55d104"/>
<path d="M275.3,521.7 L283.3,537.7 L294.0,548.3 L300.7,569.7 L294.0,569.7 L283.3,549.7 L270.0,527.0Z" fill="#8a7a7a"/>
<path d="M203.0,447.0 L212.0,440.0 L222.0,463.0 L206.0,463.0Z" fill="#ddd800"/>
<path d="M296.7,476.3 L323.3,463.0 L330.0,440.0 L345.0,425.0 L387.3,425.0 L387.3,509.7 L370.0,519.0 L350.0,524.3 L330.0,516.3 L316.7,503.0 L307.3,489.7Z" fill="#f5aaaa"/>
<path d="M340.0,424.0 L387.0,424.0 L387.0,445.0 L370.0,455.0 L350.0,450.0Z" fill="#f86464"/>
<path d="M347.0,428.0 L362.0,426.0 L372.0,436.0 L380.0,442.0 L378.0,450.0 L366.0,446.0 L356.0,438.0Z" fill="#4d4d4d"/>
<path d="M348.0,470.0 L351.0,470.0 L352.0,482.0 L349.0,482.0Z" fill="#4d4d4d"/>
<path d="M361.0,486.0 L374.0,488.0 L378.0,506.0 L372.0,506.0 L366.0,496.0Z" fill="#4d4d4d"/>
<path d="M320.0,546.0 L336.0,552.0 L350.0,552.0 L364.0,540.0 L370.0,548.0 L388.0,546.0 L388.0,556.0 L330.0,556.0Z" fill="#9c870c"/>
<path d="M330.0,556.0 L388.0,552.0 L388.0,575.0 L384.0,577.0 L373.0,575.0 L376.0,597.0 L350.0,578.0Z" fill="#ffff00"/>
<path d="M363.0,556.0 L388.0,556.0 L388.0,573.0 L384.0,577.0 L373.0,575.0 L374.0,590.0 L364.0,580.0Z" fill="#55d104"/>
<path d="M321.3,560.0 L329.3,568.0 L333.3,580.0 L342.7,586.7 L346.7,602.7 L341.3,602.7 L337.3,590.7 L329.3,584.0 L325.3,570.7Z" fill="#4d4d4d"/>
<path d="M346.7,614.7 L360.0,617.3 L366.7,624.0 L377.3,626.7 L374.7,634.7 L370.7,642.7 L364.0,640.0 L361.3,629.3 L353.3,622.7Z" fill="#4d4d4d"/>
<path d="M295.0,600.0 L325.0,600.0 L330.0,615.0 L310.0,622.0 L296.0,616.0Z" fill="#ffff00"/>
<path d="M305.0,580.0 L340.0,590.0 L352.0,610.0 L340.0,620.0 L325.0,600.0 L306.0,596.0Z" fill="#55d104"/>
<path d="M334.7,633.3 L342.7,634.7 L348.0,642.7 L358.7,650.7 L372.0,656.0 L373.3,662.7 L353.3,664.0 L344.0,664.0 L340.0,653.3 L337.3,642.7Z" fill="#67a86e"/>
<path d="M296.0,628.0 L306.7,626.7 L305.3,634.7 L298.7,634.7Z" fill="#3e7d42"/>
<path d="M258.0,606.0 L285.0,610.0 L300.0,622.0 L322.0,628.0 L318.0,636.0 L296.0,626.0 L270.0,618.0Z" fill="#f0a070"/>
<path d="M456.0,490.0 L490.0,490.0 L490.0,530.0 L470.0,532.0 L458.0,520.0Z" fill="#ffb868"/>
<path d="M436.0,452.0 L462.0,452.0 L458.0,470.0 L452.0,490.0 L445.0,510.0 L440.0,530.0 L430.0,540.0 L422.0,536.0 L428.0,510.0 L436.0,480.0Z" fill="#f86464"/>
<path d="M443.3,458.0 L456.7,458.0 L450.0,483.0 L443.3,503.0 L438.0,523.0 L430.0,532.3 L428.0,520.0 L436.7,496.3Z" fill="#4d4d4d"/>
<path d="M408.0,508.0 L432.0,508.0 L432.0,545.0 L410.0,545.0Z" fill="#f86464"/>
<path d="M414.0,515.0 L424.0,512.0 L428.0,535.0 L416.0,538.0Z" fill="#4d4d4d"/>
<path d="M452.0,438.0 L493.0,438.0 L493.0,452.0 L452.0,452.0Z" fill="#f86464"/>
<path d="M455.0,441.0 L492.0,441.0 L492.0,449.0 L456.0,449.0Z" fill="#4d4d4d"/>
<path d="M450.0,540.3 L456.7,529.7 L464.7,523.0 L470.0,532.3 L467.3,543.0 L486.0,541.7 L491.3,545.7 L491.3,551.0 L434.0,551.0 L443.3,545.7Z" fill="#9c870c"/>
<path d="M388.0,421.0 L452.0,421.0 L452.0,432.0 L420.0,436.0 L388.0,432.0Z" fill="#f5aaaa"/>
<path d="M327.0,384.0 L345.0,402.0 L365.0,408.0 L385.0,407.0 L386.0,398.0 L398.0,390.0 L418.0,390.0 L452.0,380.0 L452.0,420.0 L326.0,420.0Z" fill="#f5aaaa"/>
<path d="M327.3,357.3 L336.7,368.0 L343.3,380.0 L356.7,388.0 L370.0,392.0 L385.0,395.0 L398.0,393.0 L410.0,388.0 L416.0,394.0 L408.0,402.0 L395.0,406.0 L376.7,408.0 L363.3,406.0 L350.0,400.0 L336.7,393.3 L328.7,384.0 L326.0,370.7Z" fill="#ffab57"/>
<path d="M307.3,364.0 L323.3,361.3 L324.7,384.0 L316.7,388.0 L310.0,377.3Z" fill="#ffab57"/>
<path d="M290.0,408.0 L296.7,400.0 L310.0,392.0 L314.0,397.3 L307.3,406.7 L299.3,413.3 L291.3,414.7Z" fill="#ffab57"/>
<path d="M347.3,340.0 L352.0,330.0 L360.0,326.0 L372.0,330.0 L380.0,318.0 L392.0,326.0 L400.0,340.0 L408.0,350.0 L430.0,344.0 L452.0,356.0 L452.0,376.0 L430.0,378.7 L416.7,386.7 L403.3,388.0 L390.0,378.7 L376.7,378.7 L366.0,370.7 L358.0,357.3 L350.0,349.3Z" fill="#4d4d4d"/>
<path d="M335.0,320.0 L346.0,316.0 L352.0,326.0 L346.0,336.0 L338.0,338.0 L332.0,330.0Z" fill="#4d4d4d"/>
<path d="M452.0,389.0 L440.0,392.0 L432.0,400.0 L436.0,412.0 L452.0,416.0Z" fill="#4d4d4d"/>
<path d="M405.0,225.0 L600.0,225.0 L600.0,450.0 L452.0,450.0 L452.0,345.0 L440.0,345.0 L420.0,300.0Z" fill="#4d4d4d"/>
<path d="M368.0,254.0 L375.0,252.0 L376.0,260.0 L369.0,261.0Z" fill="#4d4d4d"/>
<path d="M392.0,308.0 L402.0,307.0 L404.0,322.0 L394.0,326.0Z" fill="#4d4d4d"/>
<path d="M406.0,300.0 L420.0,296.0 L426.0,306.0 L414.0,313.0 L407.0,310.0Z" fill="#4d4d4d"/>
<path d="M396.0,262.0 L412.0,258.0 L418.0,290.0 L402.0,296.0 L396.0,280.0Z" fill="#4d4d4d"/>
<path d="M405.0,268.0 L430.0,258.3 L443.3,262.3 L456.7,265.0 L474.0,262.3 L483.3,253.0 L499.3,253.7 L510.0,263.7 L515.3,270.3 L500.0,290.0 L500.0,320.0 L515.0,335.0 L500.0,345.0 L452.0,345.0 L440.0,345.0 L420.0,300.0Z" fill="#f86464"/>
<path d="M500.0,290.0 L515.3,270.3 L523.3,271.7 L531.3,263.7 L539.3,266.3 L536.7,275.7 L542.0,283.7 L546.0,294.3 L550.0,303.7 L563.3,303.7 L571.3,302.3 L579.3,305.0 L590.0,310.3 L596.7,321.0 L598.0,345.0 L500.0,345.0 L515.0,335.0 L500.0,320.0Z" fill="#f5cccc"/>
<path d="M474.0,265.0 L499.0,255.7 L510.0,265.0 L504.7,283.7 L496.7,299.7 L504.7,318.3 L510.0,338.3 L490.0,338.3 L480.7,318.3 L474.0,305.0 L470.0,285.0Z" fill="#f79999"/>
<path d="M436.7,289.0 L447.3,283.7 L467.3,286.3 L475.3,294.3 L470.0,305.0 L456.7,307.7 L446.0,299.7Z" fill="#4d4d4d"/>
<path d="M480.7,294.3 L486.0,290.3 L491.3,293.0 L492.7,298.3 L487.3,301.0 L482.0,299.7Z" fill="#4d4d4d"/>
<path d="M527.3,291.7 L543.3,294.3 L547.3,302.3 L540.7,305.0 L528.7,302.3Z" fill="#4d4d4d"/>
<path d="M520.7,315.7 L536.7,313.0 L543.3,323.7 L536.7,331.7 L523.3,329.0 L518.0,321.0Z" fill="#4d4d4d"/>
<path d="M405.0,318.0 L443.0,317.0 L452.0,326.0 L474.0,328.0 L492.0,340.0 L452.0,345.0 L440.0,345.0 L420.0,330.0Z" fill="#4d4d4d"/>
<path d="M528.7,305.0 L562.0,305.0 L563.3,310.3 L528.7,310.3Z" fill="#ff9633"/>
<path d="M570.0,312.0 L580.0,316.0 L586.0,330.0 L578.0,338.0 L572.0,326.0Z" fill="#4d4d4d"/>
<path d="M541.0,341.0 L598.7,341.0 L598.7,446.0 L565.0,446.0 L568.7,437.0 L563.3,430.7 L550.0,429.0 L543.0,437.0 L534.0,440.0 L526.0,446.0 L476.7,446.0 L486.0,429.3 L499.3,429.3 L518.0,424.0 L520.7,410.7 L510.0,406.7 L502.0,401.0 L510.0,397.3 L523.3,394.7 L534.0,388.0 L540.7,381.3 L543.3,370.7Z" fill="#f5cccc"/>
<path d="M523.0,395.0 L541.0,381.0 L556.0,372.0 L566.0,390.0 L556.0,402.0 L548.0,414.0 L538.0,430.0 L522.0,424.0 L521.0,410.0Z" fill="#f79999"/>
<path d="M482.0,346.0 L500.0,344.0 L541.0,344.0 L544.0,370.0 L540.7,381.3 L528.7,385.3 L515.3,381.3 L502.0,377.3 L496.7,370.7 L499.3,364.0 L492.7,357.3 L483.3,357.3Z" fill="#f86464"/>
<path d="M515.3,344.0 L531.3,346.7 L539.3,360.0 L535.3,370.7 L528.7,377.3 L523.3,368.0 L518.0,354.7Z" fill="#4d4d4d"/>
<path d="M550.0,402.7 L563.3,404.0 L568.7,413.3 L566.0,424.0 L558.0,421.3 L550.0,413.3 L543.3,414.7 L547.3,406.7Z" fill="#4d4d4d"/>
<path d="M534.0,440.0 L543.3,430.7 L558.0,432.0 L563.3,437.3 L566.0,446.0 L531.3,446.0Z" fill="#4d4d4d"/>
<path d="M576.7,357.3 L596.7,352.0 L596.7,366.7 L583.3,365.3Z" fill="#4d4d4d"/>
<path d="M578.0,376.0 L586.0,376.0 L596.7,384.0 L590.0,388.0 L579.3,380.0Z" fill="#4d4d4d"/>
<path d="M575.3,413.3 L598.0,409.3 L598.0,428.0 L587.0,431.0 L577.0,425.0Z" fill="#ff9633"/>
<path d="M599.0,350.0 L618.0,350.0 L624.0,366.0 L618.0,382.0 L600.0,382.0Z" fill="#f5cccc"/>
<path d="M601.0,353.0 L614.0,352.0 L620.0,366.0 L614.0,380.0 L601.0,380.0Z" fill="#f79999"/>
<path d="M602.0,358.0 L608.0,357.0 L611.0,366.0 L608.0,374.0 L602.0,373.0Z" fill="#fc3333"/>
<path d="M600.7,401.0 L610.0,401.0 L610.0,413.0 L600.7,413.0Z" fill="#4d4d4d"/>
<path d="M822.0,340.0 L828.0,338.0 L833.0,344.0 L824.0,346.0Z" fill="#ff9633"/>
<path d="M523.3,463.0 L566.0,463.0 L568.7,476.3 L574.0,489.7 L580.7,497.7 L579.3,507.0 L571.3,508.3 L563.3,511.0 L555.3,503.0 L554.0,508.3 L560.7,516.3 L571.3,521.7 L576.7,527.0 L574.0,537.7 L576.7,548.3 L571.3,551.0 L563.3,548.3 L550.0,548.3 L540.7,548.3 L534.0,543.0 L523.3,540.3 L515.3,541.7 L508.7,532.3 L511.3,527.0 L520.7,521.7 L512.7,519.0 L504.7,509.7 L499.3,503.0 L510.0,499.0 L520.7,493.7 L526.0,489.7 L518.0,488.3 L523.3,479.0 L528.7,476.3 L523.3,468.3Z" fill="none" stroke="#f66" stroke-width="7" stroke-linejoin="round"/>
<path d="M523.3,463.0 L566.0,463.0 L568.7,476.3 L574.0,489.7 L580.7,497.7 L579.3,507.0 L571.3,508.3 L563.3,511.0 L555.3,503.0 L554.0,508.3 L560.7,516.3 L571.3,521.7 L576.7,527.0 L574.0,537.7 L576.7,548.3 L571.3,551.0 L563.3,548.3 L550.0,548.3 L540.7,548.3 L534.0,543.0 L523.3,540.3 L515.3,541.7 L508.7,532.3 L511.3,527.0 L520.7,521.7 L512.7,519.0 L504.7,509.7 L499.3,503.0 L510.0,499.0 L520.7,493.7 L526.0,489.7 L518.0,488.3 L523.3,479.0 L528.7,476.3 L523.3,468.3Z" fill="#4d4d4d"/>
<path d="M515.0,447.0 L566.0,447.0 L566.0,463.0 L523.0,463.0 L517.0,456.0Z" fill="#4d4d4d"/>
<path d="M494.0,447.0 L517.0,447.0 L522.0,470.0 L510.0,480.0 L494.0,478.0Z" fill="#f5aaaa"/>
<path d="M534.0,555.0 L563.3,555.0 L560.7,561.7 L550.0,564.3 L542.0,567.0 L536.7,573.7 L534.0,567.0Z" fill="#4d4d4d"/>
<path d="M568.7,552.0 L576.7,556.3 L575.0,564.0 L569.0,566.0Z" fill="#f76666"/>
<path d="M566.0,447.0 L598.0,447.0 L598.0,505.0 L580.0,500.0 L574.0,489.7 L568.7,476.3Z" fill="#ff9633"/>
<path d="M580.7,505.0 L598.0,505.0 L598.0,552.0 L577.0,552.0 L574.0,537.7 L576.7,527.0Z" fill="#ffbf70"/>
<path d="M580.7,489.7 L599.0,489.7 L599.0,501.7 L580.7,501.7Z" fill="#f5cccc"/>
<path d="M533.3,552.0 L560.0,552.0 L557.3,568.0 L550.7,573.3 L552.0,582.7 L541.3,584.0 L538.7,573.3 L533.3,568.0Z" fill="#f79999"/>
<path d="M543.0,556.0 L556.0,555.0 L553.0,566.0 L546.0,570.0Z" fill="#fc3333"/>
<path d="M534.0,560.0 L540.0,558.0 L541.0,568.0 L536.0,572.0Z" fill="#4d4d4d"/>
<path d="M565.3,562.0 L578.0,566.0 L577.3,575.0 L570.7,587.7 L562.7,587.7 L561.3,578.7Z" fill="#f79999"/>
<path d="M567.0,568.0 L574.0,570.0 L570.0,582.0 L565.0,582.0Z" fill="#fc3333"/>
<path d="M541.3,593.3 L550.7,590.7 L546.7,606.7 L544.0,624.0 L549.3,640.0 L540.0,645.0 L533.3,634.7 L536.0,620.0 L533.3,606.7 L538.7,604.0Z" fill="#9c870c"/>
<path d="M578.7,600.0 L589.3,589.3 L606.7,580.0 L620.0,577.3 L620.0,616.0 L606.7,618.7 L594.7,618.7 L586.7,626.7 L581.3,640.0 L573.3,634.7 L578.7,616.0Z" fill="#9c870c"/>
<path d="M594.7,618.7 L620.0,616.0 L620.0,645.0 L610.0,665.0 L602.0,650.0 L596.0,636.0 L590.0,650.0 L584.0,664.0 L576.0,660.0 L581.3,640.0 L586.7,626.7Z" fill="#ddd800"/>
<path d="M493.0,646.0 L504.0,664.0 L509.0,669.0 L520.0,661.0 L525.0,645.0 L533.0,635.0 L540.0,645.0 L549.0,640.0 L555.0,635.0 L559.0,643.0 L560.0,660.0 L564.0,669.0 L571.0,667.0 L573.0,653.0 L576.0,660.0 L584.0,664.0 L584.0,690.0 L545.0,690.0 L512.0,703.0 L493.0,703.0Z" fill="#ffff00"/>
<path d="M585.3,645.3 L593.3,637.3 L597.3,646.7 L602.7,656.0 L610.7,665.3 L620.0,661.3 L620.0,690.0 L584.0,690.0 L586.7,664.0Z" fill="#2dc20e"/>
<path d="M528.0,651.0 L533.0,645.0 L536.0,656.0 L541.0,667.0 L533.0,671.0 L528.0,661.0Z" fill="#2dc20e"/>
<path d="M547.0,648.0 L555.0,645.0 L557.0,661.0 L555.0,675.0 L547.0,671.0Z" fill="#2dc20e"/>
<path d="M393.0,573.0 L397.0,587.0 L404.0,600.0 L413.0,613.0 L427.0,621.0 L440.0,627.0 L453.0,635.0 L467.0,643.0 L480.0,653.0 L493.0,645.0 L493.0,660.0 L478.0,664.0 L462.0,655.0 L448.0,646.0 L434.0,638.0 L420.0,633.0 L406.0,626.0 L396.0,612.0 L388.0,600.0 L384.0,577.0 L389.0,573.0Z" fill="#ffff00"/>
<path d="M377.0,601.0 L388.0,600.0 L396.0,612.0 L406.0,626.0 L420.0,633.0 L434.0,638.0 L448.0,646.0 L462.0,655.0 L478.0,664.0 L493.0,660.0 L493.0,702.0 L450.0,702.0 L373.0,668.0 L379.0,656.0 L373.0,653.0 L375.0,645.0 L379.0,635.0 L386.0,623.0 L380.0,611.0Z" fill="#80e000"/>
<path d="M377.3,613.3 L400.0,618.0 L413.3,622.0 L426.7,634.7 L417.3,640.0 L406.7,645.3 L390.7,653.3 L380.0,653.3 L374.7,645.3 L380.0,634.7 L386.7,622.7Z" fill="#ccff00"/>
<path d="M377.3,653.3 L390.7,653.3 L406.7,645.3 L420.0,638.7 L433.3,636.0 L440.0,642.7 L446.7,653.3 L438.7,658.7 L428.0,657.3 L420.0,664.0 L412.0,674.7 L397.3,679.7 L373.3,669.3 L378.7,661.3Z" fill="#3e7d42"/>
<path d="M385.0,664.0 L400.0,668.0 L410.0,664.0 L404.0,676.0 L397.0,679.0 L380.0,672.0Z" fill="#67a86e"/>
<path d="M388.0,658.7 L398.7,657.3 L401.3,664.0 L396.0,669.3 L388.0,668.0Z" fill="#4d4d4d"/>
<path d="M412.0,674.7 L420.0,664.0 L428.0,657.3 L438.7,658.7 L446.7,653.3 L453.0,661.0 L460.0,680.0 L466.0,702.0 L450.0,702.0 L415.0,686.0Z" fill="#ccff00"/>
<path d="M438.7,574.7 L449.3,573.3 L454.7,586.7 L466.7,597.3 L476.0,605.3 L473.3,610.7 L460.0,606.7 L449.3,597.3 L441.3,586.7Z" fill="#9c870c"/>
<path d="M430.7,590.7 L441.3,592.0 L446.7,604.0 L449.3,616.0 L444.0,617.3 L438.7,606.7 L432.0,598.7Z" fill="#f5cccc"/>
<path d="M476.0,625.3 L486.7,626.7 L489.3,637.3 L481.3,641.3 L476.0,634.7Z" fill="#fc3333"/>
<path d="M540.0,684.0 L600.0,684.0 L600.0,700.0 L585.0,712.0 L575.0,722.0 L560.0,705.0 L548.0,690.0Z" fill="#2dc20e"/>
<path d="M556.0,700.0 L570.0,694.0 L600.0,690.0 L600.0,712.0 L590.0,730.0 L583.0,732.0 L578.0,720.0 L566.0,708.0Z" fill="#55d104"/>
<path d="M580.0,722.0 L590.0,706.0 L600.0,700.0 L600.0,740.0 L592.0,748.0 L586.0,740.0 L584.0,732.0Z" fill="#80e000"/>
<path d="M588.0,742.0 L600.0,722.0 L600.0,762.0 L594.0,750.0Z" fill="#a6ed00"/>
<path d="M584.0,700.0 L588.0,696.0 L590.0,704.0 L586.0,708.0Z" fill="#ffff00"/>
<path d="M219.3,237.7 L264.7,237.7 L256.7,251.7 L248.7,265.0 L243.3,278.3 L238.0,291.7 L235.3,310.3 L214.0,310.3 L219.3,297.0 L224.7,278.3 L224.7,265.0 L216.7,251.7Z" fill="#f08c8c"/>
<path d="M225.0,240.0 L250.0,240.0 L244.0,262.0 L238.0,285.0 L232.0,300.0 L222.0,300.0 L228.0,280.0 L230.0,262.0Z" fill="#f4b4ac"/>
<path d="M176.7,259.7 L194.0,261.0 L196.7,269.0 L190.0,275.7 L180.7,271.7Z" fill="#f4b0a8"/>
<path d="M190.0,282.3 L203.3,289.0 L206.0,299.7 L203.3,307.7 L192.7,305.0 L187.3,294.3Z" fill="#f79999"/>
<path d="M267.3,265.0 L278.0,261.0 L296.7,263.7 L322.0,269.0 L323.0,305.0 L310.0,291.7 L299.3,286.3 L291.3,278.3 L283.3,267.7 L270.0,270.3 L262.0,278.3 L259.3,270.3Z" fill="#f5cccc"/>
<path d="M246.0,262.0 L262.0,256.0 L268.0,266.0 L260.0,280.0 L250.0,290.0 L242.0,296.0 L240.0,284.0Z" fill="#f79999"/>
<path d="M255.0,283.0 L270.0,268.0 L285.0,266.0 L296.0,276.0 L310.0,288.0 L323.0,298.0 L323.0,313.0 L300.0,314.0 L283.0,313.0 L268.0,312.0 L256.0,300.0Z" fill="#ffab57"/>
<path d="M243.3,297.0 L251.3,293.0 L262.0,299.7 L270.0,310.3 L260.7,317.0 L251.3,310.3 L244.7,305.0Z" fill="#ffab57"/>
<path d="M268.0,297.0 L276.0,294.0 L283.0,300.0 L282.0,310.0 L272.0,309.0Z" fill="#ffd78f"/>
<path d="M251.3,318.3 L283.3,314.3 L291.3,318.3 L288.7,326.3 L270.0,331.7 L256.7,330.3Z" fill="#ffab57"/>
<path d="M268.0,240.0 L274.0,238.0 L276.0,258.0 L270.0,260.0Z" fill="#f79999"/>
<path d="M284.0,240.0 L290.0,238.0 L294.0,262.0 L288.0,262.0Z" fill="#f79999"/>
<path d="M300.0,240.0 L306.0,238.0 L310.0,264.0 L304.0,266.0Z" fill="#f79999"/>
<path d="M328.0,240.0 L338.0,238.0 L342.0,262.0 L334.0,270.0 L328.0,262.0Z" fill="#f79999"/>
<path d="M330.0,268.0 L345.0,262.0 L352.0,280.0 L340.0,290.0 L330.0,284.0Z" fill="#ff0000"/>
<path d="M196.0,324.0 L204.0,326.0 L203.0,352.0 L198.0,356.0 L194.0,340.0Z" fill="#ffab57"/>
<path d="M214.0,312.0 L230.0,312.0 L228.0,345.0 L226.0,380.0 L222.0,412.0 L214.0,412.0 L216.0,380.0 L216.0,345.0Z" fill="#f4aaa4"/>
<path d="M262.0,364.0 L285.0,360.0 L300.0,370.0 L322.0,372.0 L322.0,392.0 L310.0,392.0 L296.7,400.0 L290.0,408.0 L275.0,404.0 L264.0,390.0Z" fill="#f79999"/>
<path d="M270.0,376.0 L284.0,372.0 L290.0,384.0 L280.0,392.0 L270.0,388.0Z" fill="#f5cccc"/>
<path d="M226.0,350.0 L250.0,340.0 L268.0,346.0 L262.0,364.0 L246.0,376.0 L230.0,372.0Z" fill="#ff0000"/>
<path d="M236.0,396.0 L256.0,392.0 L262.0,408.0 L244.0,414.0Z" fill="#ff0000"/>
<path d="M176.7,380.0 L203.3,377.3 L208.7,397.3 L206.0,410.7 L176.7,416.0 L174.0,397.3Z" fill="#f9a276"/>
<path d="M176.0,330.0 L192.0,326.0 L196.0,350.0 L190.0,372.0 L176.0,372.0Z" fill="#f79999"/>
<path d="M290.0,330.0 L318.0,326.0 L322.0,350.0 L306.0,358.0 L292.0,350.0Z" fill="#ff0000"/>
<path d="M352.0,252.0 L366.0,250.0 L370.0,270.0 L358.0,274.0Z" fill="#ff0000"/>
<path d="M330.0,300.0 L350.0,296.0 L356.0,312.0 L340.0,318.0 L328.0,312.0Z" fill="#f79999"/>
<path d="M384.0,300.0 L392.0,298.0 L396.0,320.0 L388.0,326.0 L382.0,314.0Z" fill="#f79999"/>
<path d="M397.0,243.0 L406.0,240.0 L408.0,252.0 L400.0,254.0Z" fill="#4d4d4d"/>
<path d="M287.4,343.1 L281.1,339.0 L282.6,332.6 L285.4,324.6 L289.7,332.6 L291.0,343.1Z" fill="#f79999"/>
<path d="M339.4,257.0 L336.6,257.6 L334.2,256.8 L333.0,255.6 L334.3,254.6 L338.0,254.8Z" fill="#f79999"/>
<path d="M226.0,378.2 L221.9,374.5 L226.2,371.3 L229.6,369.7 L231.0,375.9Z" fill="#fc3333"/>
<path d="M177.8,348.7 L173.1,351.8 L170.0,350.6 L166.2,348.8 L168.6,345.5 L171.9,342.1 L177.1,346.8Z" fill="#fc3333"/>
<path d="M266.5,418.9 L264.6,417.7 L270.4,417.0 L271.6,417.9 L271.8,419.3 L270.3,421.3 L267.6,420.3Z" fill="#ff0000"/>
<path d="M346.1,230.1 L346.0,232.0 L341.8,230.5 L336.4,228.2 L336.0,226.2 L338.9,223.8 L343.1,225.0 L344.8,227.2Z" fill="#ff0000"/>
<path d="M306.4,280.0 L303.1,278.4 L300.7,277.3 L300.7,269.5 L301.8,266.5 L305.4,271.1 L308.5,273.1 L308.2,276.9Z" fill="#fc3333"/>
<path d="M313.3,251.2 L319.3,248.6 L324.6,248.8 L327.8,250.6 L327.3,252.4 L321.4,252.9Z" fill="#f79999"/>
<path d="M272.2,238.0 L264.0,241.3 L256.7,238.3 L250.6,230.5 L254.3,228.3 L261.4,228.0 L267.4,231.0Z" fill="#ff9633"/>
<path d="M261.7,372.2 L264.5,367.8 L269.9,363.0 L274.4,367.2 L266.8,373.3Z" fill="#e8b8ae"/>
<path d="M256.1,257.5 L257.1,252.7 L260.3,249.8 L264.9,246.2 L268.3,250.6 L265.5,254.4 L260.9,256.7Z" fill="#f79999"/>
<path d="M364.6,415.5 L363.1,413.9 L361.5,410.4 L363.5,407.6 L365.3,406.9 L367.4,409.4 L366.8,413.0Z" fill="#fc3333"/>
<path d="M348.0,310.2 L344.4,307.3 L339.7,303.7 L341.0,301.7 L342.4,299.6 L347.2,304.3Z" fill="#f5cccc"/>
<path d="M310.9,239.0 L309.6,233.0 L309.9,227.1 L311.6,226.6 L315.0,229.3 L313.7,235.0Z" fill="#e8b8ae"/>
<path d="M398.0,414.7 L388.0,413.9 L383.8,407.9 L385.8,403.7 L394.6,409.8Z" fill="#ff0000"/>
<path d="M288.2,333.2 L285.3,337.9 L276.0,333.8 L277.6,327.7 L286.4,328.4Z" fill="#fc3333"/>
<path d="M416.6,347.6 L414.4,345.8 L412.1,335.8 L411.8,327.8 L417.1,330.5 L418.2,335.8 L419.3,342.7Z" fill="#f79999"/>
<path d="M273.8,250.2 L272.1,247.6 L273.2,244.5 L275.2,244.6 L276.5,248.7Z" fill="#ffffff"/>
<path d="M229.0,319.2 L229.2,317.9 L229.3,315.9 L232.8,315.9 L233.1,316.2 L235.2,317.2 L233.0,319.3 L229.9,320.8Z" fill="#e8b8ae"/>
<path d="M348.7,367.3 L346.6,370.2 L337.9,369.0 L332.2,368.8 L331.2,365.0 L333.1,361.3 L337.9,362.4 L348.0,362.8Z" fill="#ff0000"/>
<path d="M388.4,264.4 L384.7,265.3 L381.7,262.4 L381.1,259.9 L385.8,261.6Z" fill="#f79999"/>
<path d="M422.1,417.2 L421.4,415.8 L425.6,411.0 L427.5,412.7 L427.6,414.3 L425.7,416.9Z" fill="#f79999"/>
<path d="M329.6,252.7 L327.7,255.3 L325.2,256.2 L321.7,252.1 L319.8,249.8 L323.2,248.5 L325.4,247.1 L329.2,247.7Z" fill="#f5cccc"/>
<path d="M335.2,304.9 L337.4,301.9 L342.3,301.6 L345.9,301.9 L346.2,305.3 L342.4,307.0 L336.4,308.7Z" fill="#fc3333"/>
<path d="M193.3,402.6 L189.2,404.6 L176.4,403.6 L165.5,400.3 L169.0,394.2 L180.4,392.0 L186.2,394.7Z" fill="#f5cccc"/>
<path d="M228.6,305.7 L226.1,305.5 L225.5,302.3 L228.0,302.1 L229.8,303.6Z" fill="#f79999"/>
<path d="M353.9,419.7 L350.5,416.3 L348.6,410.1 L349.4,406.1 L353.2,407.8 L356.8,414.4Z" fill="#f79999"/>
<path d="M372.2,237.0 L369.6,233.2 L369.2,230.7 L376.5,225.1 L379.9,223.6 L383.0,224.6 L380.5,230.9 L374.8,239.1Z" fill="#f79999"/>
<path d="M444.5,390.7 L442.9,386.8 L442.9,384.2 L444.0,380.8 L447.9,380.4 L449.9,382.4 L448.0,386.7 L446.9,387.8Z" fill="#f79999"/>
<path d="M298.9,395.6 L300.0,392.0 L304.6,385.4 L305.8,388.6 L306.5,389.6 L303.5,394.8Z" fill="#ff0000"/>
<path d="M313.0,243.1 L311.6,242.0 L310.8,238.7 L313.7,235.1 L315.9,235.1 L315.7,239.3 L314.5,242.4Z" fill="#ff0000"/>
<path d="M192.8,392.5 L190.3,389.7 L195.3,386.3 L200.5,385.2 L199.8,389.8 L196.0,392.1Z" fill="#ff0000"/>
<path d="M346.8,244.6 L346.6,242.2 L349.5,237.8 L352.1,235.5 L354.7,237.9 L353.5,240.8 L348.5,245.9Z" fill="#ff0000"/>
<path d="M302.1,245.8 L301.7,242.9 L301.2,239.9 L304.6,238.5 L309.0,236.3 L309.6,241.3 L309.2,242.5 L306.9,244.4Z" fill="#e8b8ae"/>
<path d="M280.6,345.2 L278.3,344.1 L274.6,340.7 L274.9,336.0 L275.5,333.3 L280.0,336.2 L280.8,340.3Z" fill="#ff9633"/>
<path d="M347.5,329.5 L348.2,320.6 L356.7,313.7 L360.1,318.7 L354.0,326.3Z" fill="#f5cccc"/>
<path d="M389.7,309.9 L388.5,308.4 L388.8,305.3 L392.5,303.4 L394.1,305.3 L396.8,308.2 L393.5,309.4 L392.0,312.1Z" fill="#fc3333"/>
<path d="M210.7,304.8 L206.0,301.0 L206.2,290.0 L210.1,288.0 L213.1,292.9 L214.7,299.4Z" fill="#f79999"/>
<path d="M387.9,248.1 L383.3,248.7 L376.2,245.3 L378.5,239.0 L380.8,237.2 L389.5,241.6Z" fill="#f5cccc"/>
<path d="M336.2,259.6 L333.2,258.8 L330.1,256.8 L329.5,253.3 L334.2,252.9 L335.0,255.1Z" fill="#f5cccc"/>
<path d="M178.4,325.3 L174.9,325.4 L177.2,315.3 L178.9,312.9 L184.0,309.9 L182.1,320.3 L180.8,324.8Z" fill="#ff9633"/>
<path d="M349.6,240.6 L349.5,239.4 L349.7,236.4 L351.1,236.2 L352.5,235.2 L354.3,237.8 L353.6,239.9 L352.4,240.5Z" fill="#ffffff"/>
<path d="M385.6,413.6 L381.2,418.3 L370.4,414.8 L366.7,409.8 L373.1,408.6 L380.1,408.1Z" fill="#f5cccc"/>
<path d="M215.9,305.4 L208.4,310.0 L198.5,307.6 L198.5,301.3 L201.0,300.1 L210.4,301.7Z" fill="#ffffff"/>
<path d="M333.0,371.0 L333.8,367.9 L337.8,362.7 L341.7,363.7 L343.5,368.6 L336.9,372.6Z" fill="#ff0000"/>
<path d="M300.7,259.7 L296.2,257.8 L297.3,249.5 L301.4,243.5 L305.5,243.6 L305.9,258.1Z" fill="#f79999"/>
<path d="M378.4,272.5 L372.3,275.2 L369.3,276.7 L364.2,273.5 L363.2,268.7 L369.4,268.8 L376.6,269.5Z" fill="#f79999"/>
<path d="M284.1,384.5 L275.5,383.5 L270.8,381.6 L264.9,378.0 L261.8,374.0 L265.0,372.8 L275.1,376.4 L284.0,380.4Z" fill="#f5cccc"/>
<path d="M268.5,323.3 L269.1,320.8 L271.7,320.4 L273.5,320.1 L275.1,322.0 L274.4,323.3 L271.7,324.5 L270.6,325.3Z" fill="#e8b8ae"/>
<path d="M382.3,286.1 L377.7,288.6 L376.4,289.8 L372.7,286.2 L372.7,281.5 L376.4,280.1 L379.2,281.9 L381.1,283.4Z" fill="#ff0000"/>
<path d="M346.5,310.2 L344.7,307.9 L344.4,306.7 L346.1,305.9 L348.9,306.9 L347.9,308.8Z" fill="#f79999"/>
<path d="M163.0,236.5 L159.2,235.5 L159.8,232.7 L160.4,223.3 L162.3,223.6 L167.8,226.5 L167.8,231.2 L167.2,239.5Z" fill="#f79999"/>
<path d="M245.5,394.4 L238.7,388.7 L235.8,384.0 L239.2,377.8 L245.7,379.1 L246.8,387.3Z" fill="#fc3333"/>
<path d="M196.5,332.6 L191.9,336.5 L177.6,326.9 L178.2,321.8 L183.2,320.4 L192.7,324.1Z" fill="#ff0000"/>
<path d="M235.3,375.8 L233.1,373.9 L234.5,370.0 L235.8,368.3 L237.7,371.5 L238.3,376.7Z" fill="#fc3333"/>
<path d="M292.7,238.2 L292.5,234.3 L295.4,226.7 L298.6,224.3 L298.8,230.3 L297.1,236.4Z" fill="#f79999"/>
<path d="M230.5,270.5 L223.8,268.6 L223.3,262.3 L229.1,261.1 L231.3,261.4 L233.9,267.3Z" fill="#f5cccc"/>
<path d="M332.3,238.7 L333.5,235.2 L337.5,232.9 L343.1,230.6 L343.9,233.8 L341.7,237.0 L335.0,240.8Z" fill="#ff9633"/>
<path d="M186.6,376.8 L186.2,371.9 L189.9,368.8 L194.5,373.0 L190.2,377.5Z" fill="#ff9633"/>
<path d="M335.6,287.5 L332.9,286.4 L333.4,280.3 L335.0,277.9 L337.0,282.7Z" fill="#f79999"/>
<path d="M414.7,350.0 L409.5,346.3 L405.7,339.7 L408.3,335.1 L412.8,334.7 L416.1,342.3Z" fill="#ff9633"/>
<path d="M213.5,304.1 L211.0,302.9 L209.2,299.9 L209.9,298.1 L210.1,295.3 L213.1,299.2 L215.0,301.5Z" fill="#ff0000"/>
<path d="M281.7,394.6 L284.0,390.7 L287.8,390.3 L289.8,392.3 L285.8,396.3Z" fill="#f79999"/>
<path d="M310.7,288.3 L310.8,286.0 L315.1,284.1 L319.5,283.0 L322.0,285.0 L317.1,289.5 L314.7,290.9Z" fill="#f5cccc"/>
<path d="M352.7,248.4 L347.2,244.1 L344.0,234.9 L348.8,232.9 L353.9,238.0Z" fill="#f79999"/>
<path d="M240.1,259.4 L234.2,260.3 L231.4,257.0 L230.8,253.2 L234.8,251.6 L238.3,253.6Z" fill="#e8b8ae"/>
<path d="M230.0,302.8 L227.0,300.4 L228.2,294.6 L236.0,292.5 L236.9,295.6 L234.5,300.9 L231.7,303.6Z" fill="#ff0000"/>
<path d="M168.0,333.0 L165.4,333.9 L164.5,335.4 L161.5,333.6 L161.6,329.9 L162.0,329.1 L165.4,328.4 L167.2,328.3Z" fill="#fc3333"/>
<path d="M220.7,326.7 L216.8,327.5 L218.9,320.0 L222.2,316.8 L225.5,316.3 L227.2,322.7 L223.9,326.3Z" fill="#fc3333"/>
<path d="M345.8,328.5 L346.2,321.8 L349.9,317.4 L356.0,317.1 L357.1,320.6 L352.9,327.1Z" fill="#fc3333"/>
<path d="M267.5,374.3 L264.8,372.9 L266.9,365.2 L270.6,364.7 L274.5,366.1 L274.8,371.9 L272.2,373.4Z" fill="#f79999"/>
<path d="M216.9,262.0 L216.9,260.0 L221.2,258.9 L222.3,260.4 L221.2,263.4 L219.0,263.0Z" fill="#f79999"/>
<path d="M383.7,308.7 L385.4,301.1 L393.8,298.8 L404.1,298.9 L396.1,307.2 L387.8,310.9Z" fill="#f5cccc"/>
<path d="M197.2,262.1 L194.9,262.1 L192.9,260.5 L191.1,258.1 L191.2,256.7 L192.9,255.4 L194.9,257.8 L198.9,261.8Z" fill="#ff0000"/>
<path d="M255.7,265.5 L249.6,255.9 L245.9,243.2 L251.9,244.8 L258.4,258.5Z" fill="#ff9633"/>
<path d="M290.0,389.0 L285.8,390.8 L281.7,390.7 L276.9,387.9 L280.6,385.4 L286.9,385.9Z" fill="#ff0000"/>
<path d="M235.4,336.3 L233.8,333.1 L238.2,327.8 L244.6,323.6 L250.3,322.2 L248.5,328.4 L244.9,332.3 L240.5,337.1Z" fill="#fc3333"/>
<path d="M175.2,293.5 L174.7,291.7 L176.0,287.3 L179.2,285.5 L182.7,288.3 L183.6,293.5 L179.6,296.6Z" fill="#fc3333"/>
<path d="M367.5,247.4 L374.0,240.5 L379.3,241.4 L388.4,246.6 L381.3,250.8 L376.2,252.4Z" fill="#f79999"/>
<path d="M338.9,300.1 L333.4,294.4 L332.1,286.4 L336.7,287.1 L338.6,293.5Z" fill="#e8b8ae"/>
<path d="M234.7,237.4 L233.8,236.4 L234.3,232.4 L235.7,231.8 L237.5,232.0 L238.4,232.9 L237.5,237.1Z" fill="#f5cccc"/>
<path d="M218.2,386.6 L222.4,382.6 L227.4,378.5 L229.7,382.0 L228.4,384.2 L222.0,388.6Z" fill="#ff0000"/>
<path d="M431.7,384.3 L431.8,382.9 L436.6,381.5 L436.9,383.9 L435.5,385.8 L432.3,387.2Z" fill="#f5cccc"/>
<path d="M210.9,360.3 L208.3,358.3 L205.9,357.7 L206.3,354.5 L208.6,353.3 L211.4,353.7 L212.3,356.7Z" fill="#ff0000"/>
<path d="M163.6,273.0 L163.0,266.3 L171.6,259.7 L180.7,256.6 L178.4,264.0 L170.9,270.9Z" fill="#fc3333"/>
<path d="M285.3,413.7 L283.6,412.6 L285.1,406.7 L287.2,404.4 L288.9,403.9 L291.2,403.5 L289.7,410.2 L288.2,411.3Z" fill="#e8b8ae"/>
<path d="M386.1,247.5 L383.5,251.3 L376.3,246.4 L375.7,241.7 L379.0,242.1 L382.3,240.8 L388.1,245.5Z" fill="#ff0000"/>
<path d="M220.2,233.0 L216.2,233.6 L212.1,227.1 L216.3,224.6 L220.2,227.5Z" fill="#fc3333"/>
<path d="M371.3,247.3 L370.3,244.1 L372.6,240.1 L374.4,237.5 L377.6,237.5 L376.7,240.3 L374.7,246.3Z" fill="#f5cccc"/>
<path d="M181.1,423.2 L177.5,423.8 L174.6,419.9 L178.7,416.6 L180.5,419.1Z" fill="#ff0000"/>
<path d="M301.2,256.1 L297.3,254.5 L302.0,247.9 L305.2,249.6 L304.6,254.3Z" fill="#fc3333"/>
<path d="M408.1,236.7 L404.3,235.9 L402.7,232.1 L404.2,229.5 L408.4,233.7Z" fill="#f79999"/>
<path d="M228.7,344.4 L228.9,342.5 L230.0,340.9 L231.4,339.7 L232.6,341.0 L233.3,342.1 L232.6,344.4 L230.7,345.8Z" fill="#f79999"/>
<path d="M151.5,310.1 L148.5,306.0 L149.3,300.5 L153.6,299.6 L158.6,303.3 L155.8,306.6Z" fill="#fc3333"/>
<path d="M233.1,386.1 L230.9,385.4 L229.4,381.2 L228.8,377.1 L230.6,374.9 L234.9,380.5 L234.3,383.3Z" fill="#ff0000"/>
<path d="M258.3,371.0 L253.0,370.9 L244.3,361.4 L249.4,361.7 L256.2,365.1Z" fill="#f5cccc"/>
<path d="M349.4,386.6 L350.9,380.3 L357.6,376.2 L360.7,378.8 L357.2,385.5Z" fill="#ff0000"/>
<path d="M252.6,255.9 L248.5,258.9 L243.2,254.4 L242.8,250.9 L245.5,248.7 L248.4,248.3 L251.0,250.1 L252.1,252.8Z" fill="#fc3333"/>
<path d="M324.6,328.6 L324.9,326.1 L327.0,324.2 L332.5,323.7 L332.2,325.9 L330.3,330.4 L327.5,330.0Z" fill="#ff0000"/>
<path d="M207.9,307.9 L207.0,311.1 L201.3,309.3 L198.7,303.8 L202.7,303.1 L210.0,305.0Z" fill="#f5cccc"/>
<path d="M179.8,382.7 L176.5,380.9 L177.1,376.6 L178.2,374.6 L181.0,376.4 L182.6,379.0 L181.2,380.3Z" fill="#ff0000"/>
<path d="M314.7,275.3 L313.7,278.8 L311.9,277.4 L308.5,274.9 L309.6,274.0 L311.4,272.4 L314.2,272.0 L316.1,274.1Z" fill="#fc3333"/>
<path d="M279.6,383.7 L276.4,381.4 L273.9,374.8 L275.9,372.2 L281.0,369.2 L282.4,377.2 L284.2,381.1Z" fill="#ff9633"/>
<path d="M205.7,298.2 L206.0,294.0 L213.4,294.9 L211.8,299.0 L208.4,300.5Z" fill="#ff0000"/>
<path d="M432.7,398.7 L429.5,399.1 L428.0,398.6 L427.5,397.9 L426.9,396.2 L429.4,395.6 L430.9,395.1 L432.5,397.3Z" fill="#ff9633"/>
<path d="M320.5,402.2 L318.3,401.2 L323.0,398.9 L325.2,397.4 L325.5,402.1 L322.7,404.9Z" fill="#f5cccc"/>
<path d="M142.7,243.0 L138.9,240.4 L147.7,236.3 L155.5,230.6 L158.9,233.4 L160.7,237.6 L152.4,241.1 L146.6,244.5Z" fill="#ff0000"/>
<path d="M332.1,340.2 L326.8,340.6 L326.4,335.5 L328.8,333.0 L332.6,336.3Z" fill="#fc3333"/>
<path d="M266.9,407.1 L259.7,408.5 L250.7,406.0 L248.4,399.5 L253.7,397.8 L261.2,401.7Z" fill="#e8b8ae"/>
<path d="M185.3,267.8 L187.8,262.7 L192.0,261.6 L201.8,262.2 L205.8,266.4 L195.5,269.2 L183.3,271.9Z" fill="#ff0000"/>
<path d="M418.9,419.5 L416.7,423.1 L408.6,421.3 L402.3,416.0 L406.9,414.6 L411.0,413.4 L422.2,417.4Z" fill="#f79999"/>
<path d="M192.8,294.6 L195.3,289.9 L195.3,287.6 L200.3,285.5 L203.0,286.5 L201.6,289.2 L201.6,293.2 L196.7,292.6Z" fill="#fc3333"/>
<path d="M165.0,230.7 L166.3,227.9 L169.8,227.2 L173.1,227.5 L172.3,230.9 L170.1,232.6 L166.7,233.4Z" fill="#ff0000"/>
<path d="M431.4,400.0 L428.9,396.5 L427.2,390.9 L430.0,386.4 L434.3,388.9 L436.0,391.3 L436.5,397.7Z" fill="#f79999"/>
<path d="M279.6,324.1 L276.6,328.9 L269.5,326.8 L262.4,324.8 L261.1,319.1 L271.4,318.7 L278.4,320.9Z" fill="#fc3333"/>
<path d="M320.9,416.2 L317.3,414.6 L314.1,412.2 L313.9,408.4 L316.4,406.1 L319.4,405.7 L321.7,410.5Z" fill="#f5cccc"/>
<path d="M162.9,394.4 L161.4,393.5 L157.0,387.3 L160.4,376.4 L161.2,372.3 L168.2,375.0 L167.0,383.7 L165.9,388.7Z" fill="#e8b8ae"/>
<path d="M372.3,381.6 L371.8,377.7 L381.0,372.5 L386.9,373.8 L388.3,377.0 L389.0,380.9 L382.0,382.1 L376.6,384.6Z" fill="#ff0000"/>
<path d="M247.5,239.5 L247.5,237.4 L247.5,234.4 L248.4,231.9 L250.8,232.8 L250.8,235.8 L250.5,237.8Z" fill="#ff0000"/>
<path d="M249.0,242.8 L246.5,240.9 L246.9,239.3 L247.7,236.5 L249.4,234.9 L250.8,237.3 L250.9,239.8 L249.8,240.2Z" fill="#ff0000"/>
<path d="M198.9,419.7 L202.0,417.2 L204.1,413.2 L208.7,417.5 L211.3,419.4 L205.8,420.8 L202.0,422.2Z" fill="#e8b8ae"/>
<path d="M381.2,277.2 L383.1,273.0 L385.7,270.3 L388.1,268.4 L391.0,271.1 L392.6,276.0 L389.1,277.4 L384.2,279.6Z" fill="#ff0000"/>
<path d="M242.8,274.6 L241.7,273.7 L238.5,270.2 L238.2,264.1 L239.9,262.0 L242.0,258.4 L245.2,267.8 L246.9,274.5Z" fill="#f79999"/>
<path d="M342.5,358.9 L346.3,353.7 L356.1,354.2 L356.7,358.4 L348.7,362.3Z" fill="#f79999"/>
<path d="M369.7,232.6 L365.1,231.7 L362.6,228.9 L358.5,225.4 L361.0,223.2 L363.2,222.4 L368.6,226.6 L369.2,230.1Z" fill="#f5cccc"/>
<path d="M314.1,334.9 L312.6,332.8 L316.0,325.7 L322.6,324.5 L325.3,330.8 L325.1,335.6 L317.2,338.0Z" fill="#ff0000"/>
<path d="M172.0,315.8 L168.7,317.9 L161.9,319.6 L159.0,316.2 L159.3,314.3 L163.9,313.3 L168.7,312.5Z" fill="#ff0000"/>
<path d="M249.5,401.1 L244.8,400.3 L240.1,396.8 L240.7,389.9 L247.2,393.0Z" fill="#f79999"/>
<path d="M158.9,409.9 L155.5,407.5 L154.9,402.0 L156.4,399.4 L162.0,398.2 L161.8,404.3 L162.6,409.0Z" fill="#ff0000"/>
<path d="M419.7,399.6 L415.2,398.7 L414.3,394.8 L414.6,392.4 L419.5,395.4Z" fill="#f79999"/>
<path d="M265.4,385.9 L264.0,382.4 L265.3,377.4 L266.7,375.4 L270.9,371.2 L269.2,379.6 L267.7,385.1Z" fill="#ff0000"/>
<path d="M205.8,259.6 L204.0,259.7 L201.0,258.6 L198.6,256.3 L197.8,253.2 L200.8,254.8 L202.8,255.5 L206.3,258.0Z" fill="#fc3333"/>
<path d="M203.5,403.5 L200.8,400.3 L203.5,391.0 L207.7,390.5 L212.5,388.4 L214.6,391.1 L212.1,395.6 L207.1,404.7Z" fill="#f79999"/>
<path d="M175.0,403.5 L175.6,398.0 L181.0,391.0 L185.0,388.6 L192.2,388.4 L191.1,391.4 L186.7,397.8 L181.0,402.6Z" fill="#ff0000"/>
<path d="M214.2,356.7 L212.8,353.3 L215.1,352.2 L217.7,351.8 L218.7,352.4 L218.7,355.7 L216.0,356.7Z" fill="#f5cccc"/>
<path d="M454.2,394.5 L446.9,390.1 L438.7,376.6 L443.8,372.4 L452.1,381.3Z" fill="#ff9633"/>
<path d="M231.2,282.0 L224.2,285.5 L218.3,284.1 L211.5,276.8 L221.1,275.1 L225.4,275.7Z" fill="#f79999"/>
<path d="M185.5,279.1 L184.2,276.0 L185.5,274.1 L187.3,270.9 L188.9,272.3 L188.4,274.7 L188.0,278.3Z" fill="#ff0000"/>
<path d="M268.7,271.1 L266.3,272.0 L264.7,271.1 L260.1,269.2 L263.3,266.8 L264.9,264.4 L271.4,268.6Z" fill="#ff0000"/>
<path d="M187.3,282.6 L183.4,283.5 L181.2,282.5 L182.3,280.4 L183.7,277.5 L186.5,279.3Z" fill="#ffffff"/>
<path d="M283.7,385.2 L274.7,385.3 L272.4,381.1 L273.7,375.5 L278.0,371.9 L283.2,378.0Z" fill="#f79999"/>
<path d="M254.3,279.2 L250.3,278.6 L250.1,273.5 L250.2,271.4 L253.2,269.7 L256.2,271.9 L257.8,275.4Z" fill="#f79999"/>
<path d="M284.0,345.9 L280.0,340.9 L278.1,338.5 L277.2,333.1 L279.7,332.2 L282.2,336.7 L283.1,339.3Z" fill="#fc3333"/>
<path d="M230.6,421.5 L229.1,418.9 L232.4,415.9 L235.4,416.6 L237.9,420.6 L234.5,423.6Z" fill="#e8b8ae"/>
<path d="M346.2,415.7 L344.8,414.1 L345.7,410.6 L347.6,410.8 L349.7,409.1 L351.3,411.7 L350.3,414.6 L347.9,415.3Z" fill="#f79999"/>
<path d="M160.4,270.0 L158.4,271.7 L157.3,272.2 L154.6,270.1 L155.6,268.5 L158.2,267.7 L159.6,269.3Z" fill="#f5cccc"/>
<path d="M342.6,318.5 L341.6,319.6 L337.7,316.3 L339.5,314.6 L341.2,314.4 L343.5,317.4Z" fill="#ffffff"/>
<path d="M274.6,241.6 L273.8,244.9 L269.5,244.2 L265.0,240.5 L267.0,239.7 L268.6,237.6 L271.7,235.3 L275.7,240.2Z" fill="#ff0000"/>
<path d="M255.5,261.5 L254.2,267.7 L247.1,264.8 L242.4,258.1 L248.5,254.1 L253.6,256.5Z" fill="#fc3333"/>
<path d="M282.4,380.5 L279.5,384.5 L273.8,379.2 L271.2,377.1 L266.6,371.4 L274.7,372.0 L278.5,373.0 L283.3,375.0Z" fill="#f5cccc"/>
<path d="M252.5,314.4 L248.6,311.5 L249.1,299.6 L252.3,301.8 L256.3,308.3Z" fill="#ff0000"/>
<path d="M168.7,329.3 L170.6,325.4 L174.4,321.0 L180.3,319.4 L186.8,319.4 L185.0,323.5 L179.8,327.2 L174.5,328.6Z" fill="#ff0000"/>
<path d="M240.0,302.2 L239.8,299.1 L240.4,296.5 L244.3,298.1 L242.8,301.8Z" fill="#fc3333"/>
<path d="M295.5,271.6 L290.8,267.3 L291.9,261.3 L296.9,260.5 L298.4,266.3Z" fill="#fc3333"/>
<path d="M425.0,398.6 L426.2,393.5 L430.3,391.9 L432.3,394.6 L429.6,397.6Z" fill="#f79999"/>
<path d="M159.9,255.0 L158.0,252.8 L157.4,250.0 L158.3,248.0 L161.6,246.7 L164.0,249.2 L162.9,250.6 L163.3,253.2Z" fill="#f79999"/>
<path d="M335.2,251.4 L333.0,248.8 L331.0,244.5 L332.3,241.8 L334.1,241.5 L335.8,242.3 L336.3,245.6 L336.2,247.3Z" fill="#f79999"/>
<path d="M330.6,237.7 L323.6,234.1 L319.2,219.6 L321.2,213.5 L327.1,218.3 L330.2,229.9Z" fill="#ff0000"/>
<path d="M183.4,288.8 L176.2,286.9 L170.9,280.9 L171.2,274.4 L172.6,273.7 L178.0,271.9 L183.0,278.3 L182.0,284.4Z" fill="#fc3333"/>
<path d="M178.5,269.4 L178.0,270.9 L173.8,270.5 L169.0,269.5 L170.3,268.4 L172.4,267.3 L175.6,267.5 L177.3,268.2Z" fill="#ff0000"/>
<path d="M175.8,284.7 L172.4,286.0 L167.0,286.6 L165.3,283.0 L164.9,279.5 L169.2,281.3 L172.3,282.0Z" fill="#fc3333"/>
<path d="M438.5,345.1 L433.8,345.6 L431.7,344.2 L430.3,338.7 L432.5,337.3 L435.8,336.7 L438.1,342.0Z" fill="#f79999"/>
<path d="M150.4,374.7 L149.5,373.1 L153.0,371.1 L156.0,373.0 L152.4,375.4Z" fill="#fc3333"/>
<path d="M223.2,307.4 L224.3,301.1 L233.3,293.1 L237.3,297.9 L237.9,303.0 L229.0,310.5Z" fill="#ff0000"/>
<path d="M314.6,258.0 L312.4,255.7 L317.2,249.0 L325.4,244.9 L325.9,249.3 L323.3,256.7 L319.1,257.5Z" fill="#fc3333"/>
<path d="M226.7,264.4 L223.4,261.9 L221.3,259.3 L222.8,255.6 L224.4,254.7 L228.4,253.5 L229.5,258.1 L229.7,262.4Z" fill="#f79999"/>
<path d="M235.0,353.0 L236.9,351.7 L244.2,351.9 L242.8,354.0 L235.9,355.2Z" fill="#ff0000"/>
<path d="M253.1,410.4 L248.9,411.8 L251.2,401.1 L256.1,397.3 L260.9,395.8 L260.1,403.2 L256.8,413.6Z" fill="#ffffff"/>
<path d="M368.7,241.1 L370.8,235.7 L377.4,231.3 L379.8,234.1 L377.3,239.8Z" fill="#f5cccc"/>
<path d="M389.9,320.8 L389.5,314.2 L392.3,310.9 L395.8,314.0 L394.8,317.7Z" fill="#f79999"/>
<path d="M368.2,260.0 L362.9,262.0 L360.5,260.6 L361.6,257.4 L366.4,256.7Z" fill="#f79999"/>
<path d="M341.3,260.7 L336.0,264.1 L327.0,263.4 L323.0,259.4 L327.8,256.4 L330.5,254.0 L337.7,257.0Z" fill="#fc3333"/>
<path d="M361.5,245.1 L360.8,247.7 L357.5,246.3 L355.0,245.1 L353.7,242.2 L355.3,240.2 L360.2,241.1 L362.0,243.2Z" fill="#e8b8ae"/>
<path d="M394.6,423.6 L390.7,423.2 L390.6,419.8 L390.3,417.3 L392.5,417.8 L394.8,419.4 L395.9,421.3Z" fill="#fc3333"/>
<path d="M173.8,359.3 L170.0,360.1 L167.6,357.3 L167.3,355.5 L168.4,353.5 L170.6,353.8 L173.1,355.6 L174.3,357.6Z" fill="#ff0000"/>
<path d="M389.7,247.3 L386.4,246.5 L385.1,240.0 L387.5,228.6 L388.5,227.0 L394.3,228.6 L394.3,234.4 L393.1,248.3Z" fill="#f79999"/>
<path d="M233.7,242.0 L237.6,238.5 L240.0,239.5 L243.0,241.9 L237.5,246.2Z" fill="#fc3333"/>
<path d="M220.6,270.9 L218.7,269.5 L218.2,268.8 L218.9,266.8 L220.6,265.8 L221.4,266.9 L223.4,268.0 L221.5,269.9Z" fill="#fc3333"/>
<path d="M301.7,324.6 L300.4,324.9 L299.0,322.6 L301.2,318.6 L302.4,318.4 L304.6,320.8 L303.8,323.6Z" fill="#fc3333"/>
<path d="M193.0,247.4 L190.9,248.9 L187.2,248.7 L182.8,246.3 L183.5,241.7 L186.0,240.6 L191.4,241.4 L194.8,242.8Z" fill="#f79999"/>
<path d="M157.4,350.0 L164.0,346.2 L166.6,346.2 L174.0,347.2 L168.8,351.5 L163.5,352.5Z" fill="#ff0000"/>
<path d="M182.9,345.7 L184.3,341.0 L192.3,337.3 L199.2,337.3 L193.6,342.9 L188.1,347.6Z" fill="#f5cccc"/>
<path d="M247.2,269.7 L241.9,267.6 L241.6,260.6 L245.6,259.9 L247.5,262.4 L250.2,268.2Z" fill="#f79999"/>
<path d="M196.8,337.2 L196.5,338.2 L193.4,339.1 L191.7,336.7 L189.8,335.3 L192.0,334.1 L193.8,334.4 L196.2,336.1Z" fill="#ff0000"/>
<path d="M168.8,243.2 L167.9,238.8 L175.0,236.3 L178.1,237.7 L173.9,243.9Z" fill="#f79999"/>
<path d="M290.0,268.1 L289.0,265.9 L289.9,262.7 L293.1,263.9 L294.5,265.1 L294.4,267.5 L292.8,270.1 L290.1,269.3Z" fill="#ff9633"/>
<path d="M330.3,277.3 L327.2,278.8 L318.7,275.6 L322.9,272.4 L328.4,274.0Z" fill="#f79999"/>
<path d="M330.8,273.9 L327.0,276.1 L324.6,274.2 L320.9,272.5 L321.9,269.7 L325.1,269.6 L329.7,271.6Z" fill="#f79999"/>
<path d="M313.9,273.0 L314.8,269.8 L318.0,268.5 L320.5,269.0 L319.0,271.4 L317.9,272.8 L314.8,273.9Z" fill="#f79999"/>
<path d="M291.2,259.3 L288.5,254.9 L288.3,250.3 L290.9,247.6 L294.5,245.9 L295.1,252.4 L294.5,259.9Z" fill="#f79999"/>
<path d="M454.0,347.5 L451.9,350.0 L448.4,349.4 L446.9,346.2 L448.0,344.0 L452.8,344.5Z" fill="#ff9633"/>
<path d="M301.1,260.0 L297.1,261.8 L292.0,257.7 L292.5,255.5 L296.1,252.8 L299.5,256.0Z" fill="#f79999"/>
<path d="M203.8,296.8 L203.3,298.7 L199.7,299.6 L193.8,294.6 L191.7,291.8 L197.3,291.4 L199.9,291.3 L204.0,294.4Z" fill="#ff0000"/>
<path d="M252.7,407.6 L252.1,400.6 L253.5,395.0 L258.7,392.1 L261.0,395.7 L258.1,403.7Z" fill="#fc3333"/>
<path d="M269.9,342.6 L268.7,338.7 L267.2,335.4 L271.6,333.9 L274.6,334.5 L272.3,341.3Z" fill="#ff0000"/>
<path d="M147.2,235.9 L151.9,233.5 L155.8,232.7 L160.3,234.0 L156.1,237.3 L151.1,238.9Z" fill="#fc3333"/>
<path d="M327.9,246.8 L324.3,244.0 L326.7,240.1 L329.6,241.0 L329.4,243.8Z" fill="#ff0000"/>
<path d="M344.0,247.8 L343.2,245.9 L342.9,243.5 L345.2,243.4 L346.4,244.7 L346.2,246.7Z" fill="#f79999"/>
<path d="M161.6,388.2 L156.2,390.5 L151.3,385.9 L151.0,382.1 L153.8,381.0 L159.0,379.0 L160.1,384.2Z" fill="#f79999"/>
<path d="M258.0,306.5 L254.9,302.7 L253.4,300.1 L258.0,297.1 L261.1,299.5 L261.3,304.2Z" fill="#f79999"/>
<path d="M380.8,313.8 L375.9,310.8 L375.1,307.2 L379.4,304.3 L381.1,308.8Z" fill="#f79999"/>
<path d="M161.9,324.3 L160.0,326.6 L151.4,327.9 L147.4,323.5 L152.2,319.2 L160.6,319.0Z" fill="#f79999"/>
<path d="M411.9,423.8 L408.7,421.5 L414.0,413.4 L422.7,407.2 L424.5,413.7 L417.7,421.5Z" fill="#f79999"/>
<path d="M311.5,238.5 L307.7,240.9 L301.0,241.5 L296.1,240.2 L297.2,237.9 L296.1,235.3 L304.9,235.5 L313.4,236.1Z" fill="#f5cccc"/>
<path d="M237.2,235.1 L232.4,232.1 L228.7,229.8 L230.8,222.8 L236.4,223.2 L239.7,230.0Z" fill="#f79999"/>
<path d="M326.6,323.0 L324.1,321.4 L325.2,316.9 L329.0,316.3 L331.3,316.9 L329.3,320.7Z" fill="#f79999"/>
<path d="M230.8,341.3 L229.5,340.4 L227.6,338.4 L228.5,336.1 L231.4,335.8 L233.3,336.4 L234.1,339.2 L233.2,341.7Z" fill="#f79999"/>
<path d="M205.2,371.2 L203.5,372.1 L201.0,369.1 L202.0,366.5 L204.2,365.8 L205.3,366.0 L206.3,369.3Z" fill="#f79999"/>
<path d="M202.8,318.7 L200.7,317.9 L198.3,314.7 L199.6,312.6 L200.9,312.2 L202.5,313.8 L202.9,317.3Z" fill="#fc3333"/>
<path d="M242.5,417.1 L239.8,413.0 L242.3,407.9 L246.2,409.5 L245.9,413.7Z" fill="#fc3333"/>
<path d="M351.6,299.1 L356.1,294.4 L364.8,293.7 L368.6,298.6 L359.5,301.7Z" fill="#f79999"/>
<path d="M159.1,272.2 L156.4,264.9 L157.6,258.9 L160.7,255.2 L166.3,253.9 L166.1,269.8Z" fill="#f79999"/>
<path d="M155.5,343.3 L151.6,341.9 L149.2,337.4 L146.0,329.7 L155.0,332.5 L157.9,339.5Z" fill="#f79999"/>
<path d="M178.4,316.9 L177.2,311.5 L177.5,307.8 L183.6,303.6 L187.4,305.2 L185.6,313.1 L183.0,315.1Z" fill="#f79999"/>
<path d="M371.8,306.3 L369.3,299.6 L374.4,293.6 L379.1,292.3 L380.6,300.4 L376.7,304.8Z" fill="#fc3333"/>
<path d="M210.1,264.7 L206.7,267.0 L203.5,268.0 L200.0,266.3 L198.1,263.6 L196.6,260.3 L205.2,260.1 L210.9,262.4Z" fill="#f79999"/>
<path d="M297.1,373.6 L293.5,376.6 L284.7,374.1 L286.1,367.2 L291.9,367.7Z" fill="#f5cccc"/>
<path d="M180.6,240.9 L180.1,233.3 L183.2,227.6 L187.2,224.0 L188.5,231.9 L183.9,239.1Z" fill="#fc3333"/>
<path d="M221.3,312.5 L220.7,313.5 L215.2,313.3 L213.4,310.6 L214.9,308.6 L216.9,308.1 L221.0,310.0Z" fill="#ffffff"/>
<path d="M241.7,402.0 L237.4,405.3 L230.8,404.2 L226.4,403.1 L226.0,400.8 L225.8,396.5 L232.6,396.6 L236.9,396.0Z" fill="#f5cccc"/>
<path d="M165.2,282.2 L166.1,279.3 L170.1,275.9 L174.9,276.7 L172.6,281.3 L169.5,282.7Z" fill="#f79999"/>
<path d="M315.2,276.8 L319.7,274.1 L327.7,272.8 L331.1,276.7 L325.8,280.9 L317.5,279.2Z" fill="#fc3333"/>
<path d="M337.5,252.5 L336.6,250.6 L336.1,248.9 L338.3,248.0 L340.3,247.4 L341.3,249.2 L340.9,251.1 L339.3,253.7Z" fill="#fc3333"/>
<path d="M181.2,285.6 L169.2,285.2 L154.0,280.0 L159.2,276.0 L169.0,277.7Z" fill="#ff0000"/>
<path d="M297.8,403.7 L294.3,402.7 L291.8,396.8 L290.8,390.6 L291.6,387.4 L294.5,389.4 L297.5,391.7 L298.6,398.6Z" fill="#f5cccc"/>
<path d="M171.0,313.1 L169.6,309.3 L171.5,304.5 L176.2,300.9 L177.5,305.0 L174.7,313.3Z" fill="#f79999"/>
<path d="M337.4,253.5 L336.5,255.5 L328.2,255.4 L325.3,255.4 L324.4,252.3 L323.5,250.4 L329.6,251.0 L338.2,251.6Z" fill="#f5cccc"/>
<path d="M242.6,350.1 L240.4,346.1 L240.5,337.9 L244.0,336.3 L247.6,339.2 L246.0,347.0Z" fill="#fc3333"/>
<path d="M213.9,375.3 L209.0,378.4 L202.2,380.1 L198.4,377.8 L198.8,376.5 L196.2,372.6 L206.0,371.5 L207.8,373.4Z" fill="#f79999"/>
<path d="M391.9,237.8 L388.4,236.6 L386.9,234.2 L385.9,230.7 L389.0,230.2 L391.6,229.9 L394.5,232.1 L393.5,233.6Z" fill="#f79999"/>
<path d="M268.0,362.3 L265.7,358.6 L267.4,355.6 L271.9,353.7 L273.6,355.5 L273.5,360.1 L269.5,360.9Z" fill="#ff0000"/>
<path d="M219.7,392.5 L214.0,388.2 L213.6,383.3 L219.1,378.3 L223.9,383.2 L226.2,388.6Z" fill="#f5cccc"/>
<path d="M343.8,377.3 L336.5,375.2 L334.0,367.2 L335.6,361.6 L345.3,367.3Z" fill="#ff0000"/>
<path d="M229.2,246.1 L228.2,240.9 L230.7,235.9 L235.1,237.1 L235.4,240.8 L235.9,242.4 L232.7,245.8Z" fill="#ff0000"/>
<path d="M251.4,363.0 L248.3,362.9 L242.3,362.5 L242.0,357.5 L245.1,356.2 L249.7,354.4 L250.6,359.5Z" fill="#f79999"/>
<path d="M230.9,267.5 L224.2,269.8 L218.1,271.6 L207.6,269.7 L206.6,261.1 L216.8,263.0 L224.6,264.1Z" fill="#e8b8ae"/>
<path d="M223.0,381.3 L221.5,381.1 L220.9,380.0 L220.1,378.7 L221.1,377.8 L222.6,377.6 L223.7,378.5 L223.7,379.8Z" fill="#ff0000"/>
<path d="M224.5,263.3 L224.6,258.3 L231.4,253.8 L235.2,257.6 L232.6,263.1 L227.8,265.1Z" fill="#f79999"/>
<path d="M153.8,340.1 L151.9,338.2 L151.8,333.7 L154.4,333.6 L158.2,334.4 L156.8,337.2 L156.7,339.1Z" fill="#f79999"/>
<path d="M405.9,421.9 L410.0,415.1 L416.7,418.0 L418.5,422.3 L409.4,426.2Z" fill="#f79999"/>
<path d="M301.4,337.1 L296.3,333.2 L293.8,326.1 L294.7,315.1 L298.9,323.6 L304.3,331.1Z" fill="#fc3333"/>
<path d="M179.6,312.8 L176.4,311.1 L175.8,308.6 L176.1,304.8 L177.6,303.3 L181.1,307.7 L183.3,312.0Z" fill="#fc3333"/>
<path d="M252.8,387.2 L253.6,391.0 L235.8,387.1 L234.3,383.1 L242.7,381.5 L252.9,382.5Z" fill="#f79999"/>
<path d="M287.3,378.4 L291.1,374.2 L300.6,368.7 L309.8,367.1 L308.3,370.1 L304.5,375.8 L292.2,380.7Z" fill="#fc3333"/>
<path d="M198.0,245.0 L195.3,239.2 L194.7,230.2 L197.1,227.0 L201.5,228.8 L201.8,236.8Z" fill="#f5cccc"/>
<path d="M259.0,369.1 L255.9,371.8 L251.2,371.5 L246.6,366.4 L247.5,363.9 L254.7,366.0 L259.5,367.6Z" fill="#f79999"/>
<path d="M233.1,355.5 L233.6,345.9 L238.4,340.4 L242.5,340.4 L241.5,350.6Z" fill="#f79999"/>
<path d="M212.1,249.9 L210.0,246.6 L208.0,240.7 L210.3,236.5 L213.8,238.9 L215.0,249.8Z" fill="#f5cccc"/>
<path d="M401.3,255.2 L398.2,254.1 L393.1,250.0 L392.5,245.5 L394.2,245.1 L398.8,247.6 L403.1,251.1Z" fill="#f5cccc"/>
<path d="M288.4,239.8 L282.2,232.9 L285.6,230.6 L290.1,231.6 L292.5,234.5Z" fill="#ff9633"/>
<path d="M422.3,391.0 L427.8,387.4 L434.1,387.6 L434.0,392.1 L429.9,393.3Z" fill="#e8b8ae"/>
<path d="M369.8,324.3 L365.2,324.4 L355.6,317.8 L357.7,310.9 L369.1,315.5Z" fill="#ff0000"/>
<path d="M349.5,387.3 L350.4,383.2 L356.1,376.5 L361.6,372.3 L363.3,377.0 L366.3,376.7 L359.9,384.5 L354.3,389.4Z" fill="#ff0000"/>
<path d="M191.6,355.5 L192.8,352.4 L198.2,350.2 L201.6,351.4 L200.3,358.0 L196.5,358.3Z" fill="#f79999"/>
<path d="M405.8,237.6 L406.4,239.4 L399.9,239.8 L398.1,237.8 L393.6,235.6 L397.5,234.9 L400.7,233.8 L407.0,235.6Z" fill="#ff0000"/>
<path d="M383.7,297.6 L380.3,299.1 L374.1,301.1 L369.6,296.2 L365.8,293.5 L368.6,292.1 L377.2,290.9 L380.6,293.3Z" fill="#e8b8ae"/>
<path d="M192.2,302.5 L193.2,298.7 L203.6,295.8 L205.6,297.9 L200.8,304.3 L195.9,307.5Z" fill="#ff0000"/>
<path d="M200.2,287.5 L196.4,282.2 L197.9,279.0 L202.1,277.5 L203.3,283.2Z" fill="#fc3333"/>
<path d="M165.1,325.8 L163.1,324.4 L161.7,321.7 L162.1,317.0 L165.6,315.9 L166.7,319.5 L167.4,324.8Z" fill="#f79999"/>
<path d="M323.1,413.9 L324.4,410.0 L327.8,406.9 L330.8,405.2 L333.4,407.8 L330.0,410.9 L328.5,412.6Z" fill="#ff0000"/>
<path d="M239.6,342.5 L239.3,339.1 L242.5,334.5 L248.7,330.4 L249.1,332.7 L250.0,335.7 L248.1,337.9 L243.6,341.9Z" fill="#ff0000"/>
<path d="M234.2,276.7 L237.3,272.9 L242.7,271.9 L245.5,274.7 L239.0,276.7Z" fill="#e8b8ae"/>
<path d="M222.7,253.8 L219.0,256.0 L213.3,252.8 L212.3,248.3 L215.3,247.3 L217.2,246.2 L221.7,250.4Z" fill="#ff9633"/>
<path d="M244.7,325.9 L242.0,326.2 L232.3,322.6 L232.6,320.2 L232.6,317.1 L238.3,317.7 L241.0,320.3Z" fill="#ff0000"/>
<path d="M384.4,393.3 L381.1,394.5 L377.6,392.8 L376.6,389.0 L377.3,385.9 L382.0,386.6 L383.7,390.5Z" fill="#ffffff"/>
<path d="M187.9,287.1 L185.4,287.0 L182.6,287.8 L181.0,282.5 L183.2,279.3 L187.0,282.9 L189.7,283.9Z" fill="#f79999"/>
<path d="M249.3,305.6 L239.8,302.9 L233.8,296.6 L233.8,292.2 L247.5,299.3Z" fill="#ff0000"/>
<path d="M384.7,236.2 L382.3,234.9 L381.6,231.8 L381.7,228.3 L385.4,228.4 L386.6,228.1 L387.7,233.3 L387.7,236.7Z" fill="#ffffff"/>
<path d="M320.8,320.7 L318.5,320.6 L316.9,315.5 L319.4,313.0 L322.1,315.8 L323.5,320.1Z" fill="#f5cccc"/>
<path d="M241.7,408.4 L238.5,403.5 L239.8,397.2 L246.6,393.5 L247.7,396.9 L247.4,405.1Z" fill="#ff0000"/>
<path d="M210.1,285.3 L208.8,281.7 L213.3,277.0 L215.9,276.6 L221.1,277.6 L220.8,279.0 L218.8,284.1 L215.0,287.3Z" fill="#f79999"/>
<path d="M414.2,332.8 L413.9,328.4 L419.4,328.9 L424.7,329.3 L424.3,332.4 L421.4,335.9 L413.7,336.1Z" fill="#fc3333"/>
<path d="M156.2,321.2 L156.6,317.8 L160.1,315.9 L164.4,316.2 L162.4,320.9 L159.3,323.5Z" fill="#e8b8ae"/>
<path d="M297.5,403.0 L294.1,400.8 L290.5,398.6 L289.6,387.9 L293.9,385.2 L295.4,388.1 L298.7,394.8 L300.5,401.4Z" fill="#ff0000"/>
<path d="M212.3,372.0 L208.3,370.9 L210.3,364.5 L213.7,365.6 L216.7,365.6 L215.8,370.4Z" fill="#ff0000"/>
<path d="M183.1,414.2 L183.6,410.2 L187.9,406.8 L191.6,405.9 L197.2,407.3 L194.3,410.1 L191.1,413.7 L187.9,416.6Z" fill="#f79999"/>
<path d="M231.6,259.1 L226.6,256.4 L219.3,247.2 L220.6,241.2 L226.4,244.3 L232.5,252.1Z" fill="#fc3333"/>
<path d="M391.1,282.5 L387.1,284.3 L383.9,285.0 L382.8,281.8 L384.8,280.0 L388.1,279.6Z" fill="#f5cccc"/>
<path d="M304.8,361.0 L303.0,358.5 L301.4,357.4 L301.0,353.5 L303.7,353.4 L305.7,354.2 L306.4,357.6Z" fill="#ff9633"/>
<path d="M330.8,420.0 L332.0,416.8 L336.6,415.2 L338.2,417.8 L338.6,420.9 L334.6,422.1Z" fill="#f5cccc"/>
<path d="M246.9,264.1 L246.1,264.2 L245.5,263.6 L244.5,262.7 L244.6,261.7 L245.4,261.3 L246.6,262.1 L246.8,263.2Z" fill="#ffffff"/>
<path d="M219.2,413.3 L216.0,412.2 L216.1,408.3 L217.9,407.9 L220.4,407.8 L220.9,410.6Z" fill="#e8b8ae"/>
<path d="M246.2,254.3 L245.3,254.0 L243.7,252.9 L242.3,250.6 L243.3,250.4 L245.3,251.8 L246.5,252.3Z" fill="#ffffff"/>
<path d="M226.1,343.7 L225.5,345.8 L223.4,345.7 L221.7,344.2 L220.8,341.7 L223.6,340.8 L226.0,341.7Z" fill="#ffffff"/>
<path d="M225.4,370.0 L222.8,370.1 L221.5,369.6 L221.5,367.5 L223.0,365.2 L224.4,366.8 L225.8,367.5Z" fill="#e8b8ae"/>
<path d="M234.9,302.8 L233.9,301.0 L235.9,298.0 L238.2,297.4 L239.2,297.4 L240.4,299.0 L240.0,300.6 L237.1,301.7Z" fill="#e8b8ae"/>
<path d="M232.0,345.4 L232.2,342.6 L232.8,338.8 L233.7,337.7 L235.6,336.0 L237.4,338.5 L234.7,345.1Z" fill="#ffffff"/>
<path d="M225.6,379.7 L225.2,377.0 L226.0,374.2 L228.0,373.7 L228.9,374.4 L227.9,378.9Z" fill="#e8b8ae"/>
<path d="M237.2,270.5 L234.9,271.1 L232.9,269.7 L232.7,268.3 L233.0,266.2 L235.9,267.2 L237.6,269.2Z" fill="#cc9085"/>
<path d="M212.8,374.8 L213.6,372.9 L215.0,371.1 L217.2,370.2 L218.5,370.6 L218.5,371.6 L217.1,373.4 L215.8,374.9Z" fill="#ffffff"/>
<path d="M235.8,391.8 L232.3,392.1 L230.1,389.9 L230.7,387.9 L234.2,388.3Z" fill="#cc9085"/>
<path d="M223.9,407.6 L224.3,405.9 L225.4,404.9 L227.9,405.3 L227.5,406.9 L226.9,408.1 L226.2,409.1Z" fill="#f5cccc"/>
<path d="M240.3,245.5 L237.6,243.6 L238.0,239.8 L240.1,237.8 L242.0,239.9 L242.6,243.9Z" fill="#ffffff"/>
<path d="M231.8,310.3 L231.2,308.2 L236.7,305.3 L238.0,306.0 L237.7,309.3 L232.9,311.4Z" fill="#cc9085"/>
<path d="M231.5,357.4 L228.8,354.9 L228.2,351.2 L228.0,346.4 L230.0,348.3 L231.5,348.7 L233.4,354.6Z" fill="#cc9085"/>
<path d="M230.0,310.4 L229.0,306.1 L228.5,302.6 L230.1,297.4 L232.2,302.1 L232.2,306.2Z" fill="#f5cccc"/>
<path d="M221.8,341.1 L221.1,342.8 L218.6,341.5 L217.9,339.8 L218.3,338.8 L219.7,338.5 L222.3,339.4Z" fill="#ffffff"/>
<path d="M228.4,354.7 L228.8,352.1 L230.1,350.7 L232.1,350.2 L230.8,353.1Z" fill="#e8b8ae"/>
<path d="M224.7,286.7 L223.4,286.9 L222.1,286.6 L221.9,285.3 L222.0,284.3 L223.4,284.4 L224.5,285.5Z" fill="#ffffff"/>
<path d="M229.6,245.8 L227.6,245.0 L226.8,242.5 L227.0,239.8 L227.8,238.8 L229.8,240.6 L232.1,244.0Z" fill="#ffffff"/>
<path d="M224.3,391.7 L222.6,392.8 L223.1,387.6 L223.7,383.3 L226.3,382.7 L228.1,386.4 L226.7,392.5Z" fill="#ffffff"/>
<path d="M232.6,411.7 L229.9,412.3 L227.8,412.3 L225.2,411.1 L224.4,409.9 L226.2,408.6 L229.5,409.5 L231.6,409.8Z" fill="#cc9085"/>
<path d="M226.9,252.6 L227.3,251.2 L228.1,251.1 L228.8,252.4 L228.2,253.6 L227.6,253.1Z" fill="#e8b8ae"/>
<path d="M237.4,295.0 L236.8,295.2 L235.7,295.8 L235.0,295.8 L234.4,294.8 L234.7,293.8 L236.0,293.1 L237.1,294.3Z" fill="#f5cccc"/>
<path d="M228.1,401.1 L228.5,400.1 L230.2,399.7 L230.4,401.0 L229.9,401.4 L228.8,402.0Z" fill="#ffffff"/>
<path d="M227.0,362.9 L227.3,357.9 L228.9,352.8 L231.8,354.9 L230.4,359.5Z" fill="#f5cccc"/>
<path d="M217.1,357.2 L218.5,355.2 L224.1,355.0 L223.2,357.8 L219.6,358.3Z" fill="#ffffff"/>
<path d="M220.8,333.9 L219.4,332.5 L219.7,331.1 L221.6,330.7 L222.2,332.1 L222.1,333.4Z" fill="#f5cccc"/>
<path d="M242.5,282.1 L243.8,280.5 L245.8,280.0 L245.9,282.0 L244.6,283.5Z" fill="#ffffff"/>
<path d="M249.7,264.7 L248.5,263.4 L247.8,260.9 L249.8,261.6 L250.1,262.4Z" fill="#cc9085"/>
<path d="M230.6,295.0 L230.2,292.4 L230.8,289.7 L231.9,286.9 L232.7,288.8 L233.7,288.2 L232.8,292.0 L231.9,294.0Z" fill="#ffffff"/>
<path d="M219.7,401.1 L222.5,400.0 L225.7,397.4 L227.2,398.7 L230.4,399.6 L228.7,400.8 L224.4,402.0 L223.7,402.0Z" fill="#e8b8ae"/>
<path d="M233.2,294.5 L231.8,294.2 L230.5,292.9 L232.7,291.5 L234.0,293.5Z" fill="#ffffff"/>
<path d="M221.8,410.5 L222.2,412.7 L217.9,410.1 L215.2,409.0 L216.1,407.0 L218.6,407.4 L222.1,409.0Z" fill="#ffffff"/>
<path d="M221.3,316.4 L220.6,315.8 L220.4,314.5 L222.0,314.1 L222.0,315.5Z" fill="#e8b8ae"/>
<path d="M252.5,258.9 L252.0,256.9 L252.8,253.6 L254.4,252.4 L256.6,251.7 L257.8,254.3 L257.2,256.1 L255.3,258.2Z" fill="#e8b8ae"/>
<path d="M248.2,252.3 L247.3,250.9 L248.5,249.1 L249.4,249.6 L250.4,250.7 L249.3,251.9Z" fill="#ffffff"/>
<path d="M221.8,316.5 L220.9,315.2 L221.3,312.5 L222.6,310.9 L223.0,313.5 L223.2,316.2Z" fill="#f5cccc"/>
<path d="M258.0,252.1 L255.6,249.5 L255.3,247.7 L257.3,246.7 L259.4,249.5Z" fill="#ffffff"/>
<path d="M224.8,307.3 L223.1,307.4 L222.8,307.2 L221.4,307.0 L221.1,305.6 L222.7,304.9 L223.8,304.8 L224.7,305.9Z" fill="#e8b8ae"/>
<path d="M245.3,265.7 L244.1,263.8 L245.7,261.7 L246.8,260.3 L249.5,259.4 L248.5,263.2 L247.6,265.6Z" fill="#cc9085"/>
<path d="M246.4,245.8 L244.7,247.0 L243.1,247.4 L240.7,246.3 L240.2,244.3 L242.1,244.2 L245.3,244.1Z" fill="#ffffff"/>
<path d="M244.9,259.0 L244.8,257.6 L245.4,257.3 L246.7,257.2 L248.2,257.0 L247.9,258.5 L247.0,260.0 L246.0,259.4Z" fill="#e8b8ae"/>
<path d="M243.6,264.5 L241.3,264.7 L239.4,263.1 L237.7,262.2 L238.6,261.3 L238.3,259.8 L241.5,262.1 L242.5,263.3Z" fill="#e8b8ae"/>
<path d="M246.1,262.4 L242.9,259.5 L242.3,256.0 L244.0,255.9 L245.7,258.8Z" fill="#f5cccc"/>
<path d="M222.4,353.1 L220.4,351.2 L220.7,349.6 L222.8,347.6 L223.8,349.4 L223.7,351.2Z" fill="#e8b8ae"/>
<path d="M233.4,241.2 L235.5,238.9 L238.0,236.9 L241.7,236.6 L243.4,237.3 L243.4,239.5 L239.4,240.6 L236.5,241.5Z" fill="#e8b8ae"/>
<path d="M237.4,347.5 L235.3,350.2 L231.3,348.1 L226.7,345.9 L228.3,343.9 L233.2,344.3 L235.2,346.5Z" fill="#f5cccc"/>
<path d="M232.9,326.9 L232.1,327.8 L228.8,327.5 L228.0,326.5 L228.5,326.0 L229.7,324.9 L232.5,325.1Z" fill="#e8b8ae"/>
<path d="M233.4,358.3 L232.8,357.3 L233.0,355.5 L234.0,354.7 L235.0,355.0 L234.2,357.7Z" fill="#f5cccc"/>
<path d="M218.9,328.8 L217.7,327.1 L217.9,324.3 L219.3,323.8 L220.4,327.9Z" fill="#cc9085"/>
<path d="M231.6,290.9 L230.6,291.0 L229.5,289.8 L228.4,288.3 L228.9,287.8 L230.8,289.3 L232.2,290.5Z" fill="#ffffff"/>
<path d="M222.6,411.2 L221.7,412.2 L220.7,409.8 L220.5,407.8 L220.9,406.1 L222.6,407.4 L223.2,410.3Z" fill="#e8b8ae"/>
<path d="M252.0,246.6 L253.7,245.1 L254.6,243.5 L256.3,245.2 L257.6,246.5 L255.0,247.8 L253.5,247.4Z" fill="#e8b8ae"/>
<path d="M236.6,283.3 L237.3,281.7 L238.6,280.8 L240.7,279.5 L240.9,280.7 L240.1,282.5 L238.3,283.9Z" fill="#ffffff"/>
<path d="M235.9,275.5 L234.1,276.5 L231.4,276.4 L228.8,273.3 L227.0,270.3 L230.2,270.6 L232.1,271.5 L234.5,273.3Z" fill="#ffffff"/>
<path d="M226.3,403.6 L223.2,400.8 L220.9,399.7 L220.6,396.4 L221.3,394.6 L224.1,397.1 L227.1,400.3Z" fill="#ffffff"/>
<path d="M234.0,307.8 L232.4,308.0 L231.2,306.6 L231.9,305.7 L232.8,305.2 L233.5,306.4Z" fill="#ffffff"/>
<path d="M234.4,264.6 L233.1,265.2 L228.7,261.4 L230.6,259.4 L232.7,258.9 L236.0,263.6Z" fill="#cc9085"/>
<path d="M226.7,367.8 L224.9,367.1 L224.6,365.7 L225.1,362.9 L227.3,362.7 L229.5,365.9Z" fill="#f5cccc"/>
<path d="M230.7,243.3 L230.0,244.1 L228.6,241.7 L228.8,240.8 L229.8,240.1 L230.5,241.0 L230.8,242.6Z" fill="#e8b8ae"/>
<path d="M232.3,369.9 L232.3,370.5 L230.0,370.5 L225.1,369.5 L226.0,367.9 L227.7,367.5 L229.1,367.2 L231.9,367.6Z" fill="#cc9085"/>
<path d="M221.6,344.6 L221.6,343.8 L222.4,342.8 L223.0,342.8 L223.2,343.0 L223.9,344.0 L222.6,344.7Z" fill="#ffffff"/>
<path d="M241.6,261.7 L240.6,261.5 L240.0,261.0 L239.7,259.9 L239.9,259.0 L241.2,259.7 L242.1,260.4Z" fill="#ffffff"/>
<path d="M239.7,252.7 L242.5,249.5 L244.1,248.2 L245.3,249.4 L244.0,252.6Z" fill="#ffffff"/>
<path d="M229.2,282.9 L227.9,282.6 L227.7,281.9 L227.8,281.3 L228.1,281.0 L228.8,280.5 L230.0,281.5 L229.3,282.4Z" fill="#f5cccc"/>
<path d="M224.7,314.8 L225.5,313.0 L229.3,312.4 L230.8,313.8 L227.2,315.0Z" fill="#ffffff"/>
<path d="M235.4,332.4 L234.0,330.8 L232.7,329.2 L233.1,327.7 L233.5,326.5 L235.0,327.9 L235.3,330.5Z" fill="#e8b8ae"/>
<path d="M225.1,380.3 L224.2,378.2 L224.3,376.9 L224.1,374.6 L226.4,375.3 L227.5,375.9 L226.8,378.2Z" fill="#f5cccc"/>
<path d="M217.8,320.9 L220.3,317.8 L221.8,315.2 L225.2,311.6 L229.1,310.7 L226.4,315.3 L225.0,318.3 L221.1,320.8Z" fill="#ffffff"/>
<path d="M223.3,323.7 L221.0,324.7 L219.9,325.4 L219.7,323.8 L219.2,321.9 L220.7,321.7 L222.7,322.8Z" fill="#e8b8ae"/>
<path d="M240.9,286.3 L239.7,286.9 L235.9,286.5 L233.3,285.3 L231.9,283.3 L234.3,282.7 L237.8,283.4 L240.0,283.9Z" fill="#e8b8ae"/>
<path d="M216.0,401.6 L214.7,400.1 L218.1,398.5 L220.5,398.0 L222.7,398.7 L222.4,399.5 L219.1,401.6 L214.5,403.7Z" fill="#ffffff"/>
<path d="M223.5,267.0 L222.2,264.3 L222.1,262.3 L222.9,257.9 L224.2,261.3 L225.5,264.5Z" fill="#e8b8ae"/>
<path d="M236.7,257.1 L235.0,255.3 L234.8,252.3 L238.1,249.0 L240.4,248.5 L239.8,253.2 L237.6,257.0Z" fill="#cc9085"/>
<path d="M220.8,294.5 L222.0,293.4 L222.4,292.0 L225.1,292.9 L226.8,293.2 L225.4,295.0 L224.8,296.6 L222.5,295.8Z" fill="#e8b8ae"/>
<path d="M221.1,375.1 L220.3,373.8 L221.4,373.0 L222.1,372.6 L222.9,373.5 L222.3,375.0Z" fill="#f5cccc"/>
<path d="M229.7,410.3 L227.1,410.4 L226.1,409.2 L227.4,408.0 L229.1,408.3Z" fill="#e8b8ae"/>
<path d="M222.5,249.4 L218.9,246.9 L218.4,242.4 L219.3,241.1 L221.8,241.6 L222.7,245.2Z" fill="#ffffff"/>
<path d="M231.4,398.9 L229.7,398.9 L229.2,395.2 L229.9,393.6 L231.9,393.6 L233.1,397.2Z" fill="#ffffff"/>
<path d="M227.2,238.9 L228.1,237.6 L229.5,236.9 L231.9,237.7 L230.4,238.7 L228.4,239.3Z" fill="#ffffff"/>
<path d="M218.7,399.9 L215.0,398.0 L212.5,393.3 L215.0,392.8 L218.2,396.8Z" fill="#cc9085"/>
<path d="M237.7,303.8 L235.0,304.9 L234.1,302.6 L235.1,301.2 L236.7,302.0Z" fill="#e8b8ae"/>
<path d="M238.2,275.5 L237.4,273.4 L239.3,271.7 L241.3,273.9 L240.0,275.4Z" fill="#ffffff"/>
<path d="M232.6,307.8 L232.4,307.3 L233.8,306.7 L235.0,306.3 L235.4,306.6 L235.8,307.6 L234.4,308.2 L232.6,308.5Z" fill="#cc9085"/>
<path d="M220.6,304.4 L219.7,304.1 L219.2,303.5 L220.0,301.8 L220.6,301.9 L221.1,302.0 L221.8,303.0 L221.4,304.0Z" fill="#ffffff"/>
<path d="M213.3,379.3 L213.7,376.7 L217.0,373.5 L218.1,375.7 L215.6,378.9Z" fill="#e8b8ae"/>
<path d="M221.9,257.8 L221.7,255.3 L221.7,253.2 L223.3,251.0 L224.4,250.1 L224.2,254.2 L223.4,257.0Z" fill="#ffffff"/>
<path d="M234.0,341.9 L233.1,342.0 L232.1,339.1 L231.7,337.5 L233.1,336.9 L234.1,338.5 L235.2,341.0Z" fill="#ffffff"/>
<path d="M231.3,268.9 L229.8,268.8 L228.8,268.6 L228.6,266.5 L228.7,265.3 L229.6,265.7 L230.3,266.2 L231.1,267.3Z" fill="#ffffff"/>
<path d="M424.8,294.1 L420.5,296.1 L412.8,295.2 L410.2,289.3 L415.2,288.1 L426.6,290.6Z" fill="#f79999"/>
<path d="M401.8,261.3 L402.6,257.6 L407.2,252.9 L414.7,253.6 L415.9,257.1 L414.0,260.6 L405.0,263.3Z" fill="#f5cccc"/>
<path d="M495.7,631.9 L493.0,630.8 L493.1,627.6 L494.1,623.5 L495.0,621.5 L497.1,624.8 L498.7,627.1 L498.1,629.6Z" fill="#ffbf70"/>
<path d="M383.6,443.6 L381.7,445.3 L379.7,438.6 L378.6,432.6 L381.1,430.7 L383.3,433.9 L385.4,438.2 L385.3,441.7Z" fill="#ffbf70"/>
<path d="M305.3,464.9 L302.5,461.3 L301.1,456.0 L302.3,451.5 L303.6,449.0 L307.6,449.4 L306.6,453.8 L307.3,462.1Z" fill="#ffbf70"/>
<path d="M515.4,632.6 L512.8,633.3 L511.5,628.1 L512.3,625.3 L512.9,619.8 L516.1,624.1 L517.5,628.7 L516.5,629.8Z" fill="#ffbf70"/>
<path d="M337.4,479.1 L331.6,477.4 L326.0,470.3 L329.0,464.0 L333.8,464.2 L338.4,465.3 L340.0,474.6Z" fill="#ffbf70"/>
<path d="M592.4,564.1 L589.3,559.2 L587.2,552.3 L587.8,549.8 L590.0,550.4 L591.7,550.1 L592.6,559.2Z" fill="#ffd78f"/>
<path d="M320.0,439.7 L317.1,431.5 L319.0,419.1 L324.3,410.2 L326.1,410.0 L329.2,425.7 L326.7,437.8Z" fill="#f79999"/>
<path d="M308.7,436.9 L301.8,434.5 L298.7,431.3 L298.7,426.4 L301.5,427.7 L305.2,428.0 L308.1,432.9Z" fill="#ff9633"/>
<path d="M548.7,582.2 L545.8,582.1 L545.4,578.7 L547.6,576.4 L550.1,580.1Z" fill="#ffd78f"/>
<path d="M417.5,557.5 L415.4,555.0 L413.0,548.8 L415.9,537.5 L419.5,540.0 L421.7,543.5 L423.6,548.3 L421.1,551.6Z" fill="#ffbf70"/>
<path d="M554.5,562.9 L551.2,557.1 L550.0,546.2 L553.2,545.9 L555.8,555.8Z" fill="#ffd78f"/>
<path d="M455.7,465.9 L451.6,462.9 L449.4,455.2 L450.4,449.3 L453.6,443.2 L455.9,450.5 L457.4,459.3Z" fill="#ffbf70"/>
<path d="M466.7,515.1 L458.4,503.8 L456.9,487.6 L461.2,482.9 L465.9,503.4Z" fill="#ffd78f"/>
<path d="M400.7,457.3 L392.8,452.4 L396.9,439.3 L399.8,433.9 L405.8,442.4 L406.3,449.7Z" fill="#f79999"/>
<path d="M310.9,548.3 L307.8,544.4 L306.2,540.8 L307.8,537.9 L310.8,537.3 L313.0,541.5 L312.8,545.1Z" fill="#ffbf70"/>
<path d="M515.4,628.5 L511.5,627.3 L510.5,622.4 L513.9,623.2 L516.6,626.3Z" fill="#ff9633"/>
<path d="M369.4,477.8 L367.6,474.9 L368.8,471.2 L371.3,471.2 L372.6,476.3Z" fill="#ffbf70"/>
<path d="M361.7,475.4 L359.3,475.8 L356.6,474.1 L358.3,471.1 L358.8,468.3 L363.2,470.2 L365.3,474.7Z" fill="#f79999"/>
<path d="M603.9,540.0 L597.1,538.1 L593.3,533.9 L589.5,526.2 L592.5,525.1 L596.6,520.8 L601.5,528.4 L602.3,536.0Z" fill="#ffd78f"/>
<path d="M405.4,480.5 L400.6,477.7 L399.6,466.1 L404.4,465.2 L408.8,466.2 L410.3,475.4Z" fill="#ffd78f"/>
<path d="M393.5,429.8 L390.6,426.9 L386.9,425.5 L389.0,417.9 L392.6,418.4 L393.8,418.2 L396.0,424.7 L397.2,427.9Z" fill="#ffbf70"/>
<path d="M269.6,480.4 L267.3,477.7 L263.4,473.5 L263.4,466.5 L263.1,459.1 L265.3,459.6 L268.6,466.2 L271.3,473.1Z" fill="#f5cccc"/>
<path d="M554.7,644.7 L552.0,637.2 L552.3,630.0 L554.4,624.7 L557.3,625.4 L557.1,637.3Z" fill="#f79999"/>
<path d="M599.1,515.7 L596.4,515.9 L592.7,511.4 L597.1,509.3 L600.0,510.7 L601.4,513.6Z" fill="#ffbf70"/>
<path d="M397.0,616.5 L393.0,608.2 L394.9,598.1 L399.0,597.7 L400.0,612.2Z" fill="#ffbf70"/>
<path d="M339.1,450.8 L334.8,447.0 L334.5,442.0 L339.0,437.3 L340.9,439.2 L344.4,441.1 L342.1,446.6Z" fill="#f79999"/>
<path d="M400.4,615.9 L395.3,615.0 L392.3,607.6 L395.6,604.6 L399.5,605.8 L403.3,611.4Z" fill="#ffbf70"/>
<path d="M581.3,534.1 L578.9,525.0 L575.7,515.2 L580.4,509.2 L585.9,508.6 L589.0,513.1 L587.8,527.9Z" fill="#fc3333"/>
<path d="M461.0,523.6 L458.0,525.4 L458.2,518.7 L461.1,510.1 L463.0,514.6 L463.1,519.0 L462.8,521.3Z" fill="#ff9633"/>
<path d="M469.6,577.5 L466.5,573.5 L465.5,569.6 L468.4,568.4 L470.5,572.3Z" fill="#ffbf70"/>
<path d="M396.3,538.9 L392.0,538.2 L390.7,526.7 L388.1,513.7 L393.2,513.8 L401.2,524.5 L402.2,539.0Z" fill="#f5cccc"/>
<path d="M442.7,573.9 L436.4,568.0 L432.1,560.6 L430.3,549.0 L436.4,555.3 L438.5,557.6 L441.7,565.7Z" fill="#ffbf70"/>
<path d="M430.3,481.9 L428.5,480.9 L426.2,476.1 L427.9,475.2 L430.0,474.3 L430.8,477.8Z" fill="#f79999"/>
<path d="M481.0,584.4 L477.9,582.9 L478.0,576.6 L480.5,569.1 L481.9,566.7 L485.8,572.4 L488.0,575.4 L485.3,584.5Z" fill="#ffbf70"/>
<path d="M517.5,553.6 L513.0,548.9 L510.7,539.3 L514.1,540.0 L516.6,540.9 L517.7,545.9Z" fill="#ff9633"/>
<path d="M451.6,606.5 L447.3,605.0 L448.9,599.6 L450.0,597.8 L454.6,594.7 L455.3,601.8 L454.2,605.2Z" fill="#ffd78f"/>
<path d="M376.9,564.0 L375.3,560.0 L375.6,556.3 L376.1,555.4 L378.3,553.8 L380.0,553.2 L380.9,558.3 L377.9,561.0Z" fill="#ffd78f"/>
<path d="M344.0,574.6 L342.2,571.3 L339.4,563.0 L341.2,559.9 L343.3,557.6 L347.7,563.0 L346.6,568.7Z" fill="#f79999"/>
<path d="M573.9,494.5 L571.7,485.9 L571.9,475.5 L577.1,473.5 L579.6,488.8Z" fill="#ff9633"/>
<path d="M376.3,468.3 L372.9,465.7 L372.3,462.1 L373.5,454.5 L377.0,451.7 L378.2,455.9 L379.6,461.8 L377.5,469.9Z" fill="#ff9633"/>
<path d="M405.3,468.2 L402.6,465.0 L397.8,459.3 L401.2,454.4 L405.8,456.2 L408.6,459.4 L406.8,464.5Z" fill="#fc3333"/>
<path d="M306.2,500.9 L305.9,492.5 L305.8,484.3 L307.9,474.5 L311.3,481.2 L311.7,487.9 L311.1,496.7Z" fill="#ff9633"/>
<path d="M616.5,607.9 L614.6,608.4 L612.3,605.8 L612.1,601.5 L613.2,600.5 L616.1,603.1 L617.5,605.7Z" fill="#f79999"/>
<path d="M536.8,559.3 L532.4,558.8 L528.5,544.4 L531.7,540.2 L538.4,554.9Z" fill="#f79999"/>
<path d="M356.5,483.9 L354.0,483.7 L352.0,478.9 L351.0,471.3 L353.0,471.9 L355.7,474.7 L356.9,481.6Z" fill="#f5cccc"/>
<path d="M480.5,635.6 L478.9,635.0 L479.0,630.1 L480.4,629.5 L482.6,631.5 L482.8,633.6Z" fill="#f79999"/>
<path d="M589.0,602.5 L585.1,597.0 L580.0,585.9 L585.3,582.7 L590.4,596.1Z" fill="#ffd78f"/>
<path d="M413.6,538.5 L409.5,535.8 L405.4,527.1 L407.9,514.3 L411.0,508.3 L417.1,524.0 L418.6,536.4Z" fill="#ffd78f"/>
<path d="M483.5,620.1 L480.2,617.7 L481.8,609.1 L484.5,610.7 L487.7,616.8Z" fill="#f5cccc"/>
<path d="M576.0,620.9 L571.2,618.6 L569.8,612.3 L571.1,606.9 L574.1,607.3 L576.5,616.4Z" fill="#f79999"/>
<path d="M605.2,645.8 L601.5,644.6 L602.8,640.6 L605.5,634.4 L607.7,634.4 L608.5,634.8 L610.0,640.8 L606.6,644.4Z" fill="#f5cccc"/>
<path d="M561.2,623.4 L556.1,618.7 L551.2,606.5 L557.3,604.9 L560.6,615.3Z" fill="#ffbf70"/>
<path d="M287.2,455.2 L281.5,448.6 L285.4,437.7 L292.0,441.3 L291.9,447.9Z" fill="#ffbf70"/>
<path d="M477.4,504.9 L472.2,503.6 L463.9,492.8 L467.3,490.8 L470.3,484.2 L473.2,488.6 L477.9,496.3Z" fill="#ffbf70"/>
<path d="M424.9,437.1 L422.2,434.9 L422.5,431.9 L423.6,428.0 L426.0,429.0 L426.9,430.6 L427.8,435.0Z" fill="#ff9633"/>
<path d="M395.5,486.8 L391.6,480.3 L391.4,471.5 L396.1,469.0 L397.3,482.7Z" fill="#ffbf70"/>
<path d="M534.1,635.7 L531.6,633.9 L531.2,630.4 L532.1,627.3 L535.8,631.1 L535.9,633.5Z" fill="#ffbf70"/>
<path d="M425.3,490.0 L423.6,483.6 L423.7,478.3 L425.7,476.9 L429.5,480.7 L429.5,484.1Z" fill="#f5cccc"/>
<path d="M485.3,570.9 L481.5,571.1 L480.9,564.6 L483.3,564.1 L485.4,567.3Z" fill="#ffbf70"/>
<path d="M316.7,429.9 L314.9,427.8 L313.6,421.3 L315.0,417.6 L317.3,416.9 L318.9,419.3 L320.1,428.1Z" fill="#ff9633"/>
<path d="M428.4,549.3 L420.3,540.4 L422.9,531.1 L425.0,530.0 L430.3,542.0Z" fill="#ffd78f"/>
<path d="M501.5,561.6 L500.5,560.2 L500.6,557.5 L501.4,553.4 L502.4,552.3 L504.5,553.2 L504.8,556.9 L504.1,561.9Z" fill="#f5cccc"/>
<path d="M495.0,535.3 L488.5,534.4 L488.6,524.2 L493.3,520.9 L497.0,518.2 L501.1,529.1 L497.9,531.3Z" fill="#ff9633"/>
<path d="M330.3,487.8 L325.2,483.8 L323.4,478.7 L324.8,476.9 L326.2,475.9 L329.8,482.3Z" fill="#ffbf70"/>
<path d="M515.9,472.3 L513.4,471.1 L512.1,467.9 L510.7,460.1 L512.6,460.3 L516.5,465.6 L516.9,472.2Z" fill="#ffbf70"/>
<path d="M407.4,535.9 L405.5,536.6 L403.8,532.9 L404.9,531.8 L406.9,531.1 L408.7,534.6Z" fill="#ff9633"/>
<path d="M559.4,616.6 L555.6,613.8 L551.9,607.3 L554.2,602.5 L556.3,603.1 L561.6,613.3Z" fill="#ffbf70"/>
<path d="M408.5,543.7 L407.0,542.0 L407.1,540.1 L407.6,538.6 L408.7,536.3 L411.2,538.3 L411.9,539.9 L409.6,543.0Z" fill="#ffd78f"/>
<path d="M515.0,464.5 L509.1,455.9 L510.9,447.8 L518.7,443.5 L520.4,454.5Z" fill="#f5cccc"/>
<path d="M457.8,621.9 L452.1,622.4 L453.0,615.5 L455.3,601.4 L458.6,604.5 L463.0,607.1 L463.6,616.8 L461.6,624.7Z" fill="#ffbf70"/>
<path d="M336.3,488.8 L335.3,483.1 L335.8,479.9 L337.3,475.0 L340.9,476.5 L341.8,479.4 L340.1,487.3Z" fill="#ff9633"/>
<path d="M359.5,553.4 L356.8,552.9 L358.4,543.0 L361.8,540.4 L365.2,544.8 L362.9,550.8Z" fill="#ffd78f"/>
<path d="M366.4,509.8 L365.0,507.7 L365.5,504.7 L366.8,503.8 L369.0,505.2 L368.8,507.9Z" fill="#f5cccc"/>
<path d="M423.5,578.8 L422.0,571.4 L423.4,564.3 L427.2,563.3 L428.4,573.1Z" fill="#ff9633"/>
<path d="M575.8,624.5 L572.0,621.2 L567.2,608.5 L573.5,611.2 L577.4,617.4Z" fill="#ffbf70"/>
<path d="M429.7,574.6 L426.4,579.1 L420.9,565.6 L418.4,558.5 L421.3,546.1 L426.3,553.6 L432.4,567.3 L432.3,576.3Z" fill="#f5cccc"/>
<path d="M597.5,536.6 L596.1,533.3 L596.8,530.8 L598.8,529.4 L600.5,530.5 L599.1,534.2Z" fill="#ff9633"/>
<path d="M422.7,552.6 L420.9,550.3 L419.6,544.0 L421.9,539.9 L423.5,542.9 L424.1,546.6Z" fill="#ff9633"/>
<path d="M496.3,522.8 L490.5,521.0 L492.8,510.4 L493.5,506.8 L499.1,499.1 L499.4,505.2 L503.3,511.7 L499.6,525.3Z" fill="#ff9633"/>
<path d="M402.2,503.1 L396.7,499.9 L397.3,493.6 L399.7,490.8 L404.2,487.7 L404.0,491.3 L405.9,496.2 L404.0,501.6Z" fill="#f79999"/>
<path d="M342.0,448.8 L336.3,443.5 L329.5,433.4 L331.3,428.3 L336.5,426.4 L341.3,429.0 L345.1,440.6Z" fill="#f5cccc"/>
<path d="M385.2,445.7 L374.6,435.1 L367.3,418.8 L369.4,414.0 L378.8,419.3 L383.5,432.5Z" fill="#ff9633"/>
<path d="M362.6,460.5 L360.9,456.4 L363.9,445.4 L368.2,447.1 L368.4,460.2Z" fill="#ff9633"/>
<path d="M284.4,453.2 L281.2,450.7 L278.8,449.2 L279.8,446.2 L281.7,443.2 L284.5,443.8 L286.9,446.4 L285.4,451.7Z" fill="#ffbf70"/>
<path d="M337.6,457.7 L333.3,451.8 L329.7,447.6 L328.4,437.8 L330.8,440.4 L334.0,442.2 L336.8,443.6 L337.5,453.4Z" fill="#ffbf70"/>
<path d="M394.7,477.2 L390.1,472.6 L385.3,469.2 L386.0,465.2 L386.3,460.9 L392.1,466.8 L396.6,472.6Z" fill="#ffbf70"/>
<path d="M612.8,632.9 L608.7,632.1 L605.2,629.1 L602.0,625.0 L604.9,618.3 L607.7,619.0 L613.9,624.8 L615.3,630.6Z" fill="#ffbf70"/>
<path d="M304.2,485.3 L299.2,482.2 L296.1,478.0 L296.2,471.8 L297.0,467.6 L305.4,475.8 L304.4,479.2Z" fill="#ffbf70"/>
<path d="M568.9,621.8 L567.1,621.0 L567.4,618.9 L568.8,618.4 L571.5,617.5 L571.3,619.5 L570.7,621.9Z" fill="#f5cccc"/>
<path d="M410.2,441.3 L407.5,439.0 L408.9,435.0 L411.2,435.7 L412.5,439.4Z" fill="#ffd78f"/>
<path d="M360.2,573.8 L356.2,573.6 L353.1,565.6 L349.1,557.6 L352.6,554.7 L356.3,557.2 L359.4,560.0 L361.0,568.5Z" fill="#ff9633"/>
<path d="M573.3,454.2 L571.5,454.7 L571.7,450.3 L572.4,445.6 L574.4,443.9 L577.0,447.0 L577.3,452.0 L575.4,455.1Z" fill="#ff9633"/>
<path d="M467.5,596.6 L461.0,587.2 L468.1,570.5 L471.7,574.0 L473.2,591.1Z" fill="#f5cccc"/>
<path d="M555.6,591.5 L552.3,588.8 L550.6,586.1 L552.4,582.6 L554.8,580.6 L556.2,577.8 L556.7,585.8 L556.8,588.7Z" fill="#ffd78f"/>
<path d="M541.4,643.9 L535.6,637.7 L529.8,626.6 L533.3,620.2 L540.1,625.6 L542.8,636.9Z" fill="#ff9633"/>
<path d="M320.3,496.9 L316.6,491.0 L319.4,479.1 L325.5,472.3 L326.9,489.5Z" fill="#ffbf70"/>
<path d="M451.0,564.6 L449.8,562.4 L450.2,558.3 L451.6,556.9 L454.7,555.6 L453.6,559.8 L453.8,562.0Z" fill="#ffbf70"/>
<path d="M445.6,516.8 L444.5,515.6 L444.1,511.0 L445.2,509.4 L446.8,507.0 L448.1,507.6 L447.8,512.9 L447.6,518.5Z" fill="#f5cccc"/>
<path d="M418.8,553.9 L416.1,553.3 L411.7,547.9 L417.3,545.4 L422.9,551.3Z" fill="#f79999"/>
<path d="M370.1,550.8 L366.1,548.8 L364.7,534.6 L366.0,526.4 L370.2,536.9 L373.4,549.8Z" fill="#ff9633"/>
<path d="M369.3,536.6 L367.3,534.6 L365.0,528.2 L367.6,524.1 L370.8,526.7 L373.0,528.0 L372.1,535.5Z" fill="#ffd78f"/>
<path d="M371.3,516.5 L370.1,513.4 L368.8,509.7 L371.0,508.4 L373.0,508.5 L373.3,512.1Z" fill="#ff9633"/>
<path d="M408.1,424.9 L404.9,423.6 L404.3,420.1 L405.9,416.0 L409.1,413.5 L413.2,417.4 L413.9,419.5 L411.2,423.9Z" fill="#ffbf70"/>
<path d="M370.0,459.2 L367.5,459.9 L365.7,455.7 L366.9,451.4 L368.8,452.2 L372.1,453.8 L372.7,456.1Z" fill="#ffbf70"/>
<path d="M287.7,427.2 L284.1,428.1 L282.5,424.6 L283.2,422.3 L283.2,419.8 L286.1,421.6 L288.1,422.6 L287.3,425.7Z" fill="#f5cccc"/>
<path d="M313.3,532.3 L310.7,529.8 L311.7,524.9 L315.2,516.1 L317.1,521.0 L319.6,526.7 L317.3,533.4Z" fill="#ff9633"/>
<path d="M399.3,485.9 L395.7,487.7 L391.5,482.0 L393.9,480.1 L395.1,474.3 L399.9,474.4 L402.1,481.0 L401.2,484.5Z" fill="#ff9633"/>
<path d="M398.6,454.6 L396.5,457.0 L394.3,451.1 L394.6,443.9 L396.3,440.9 L399.1,440.7 L401.0,445.8 L402.4,454.8Z" fill="#ffbf70"/>
<path d="M466.2,488.2 L463.6,487.0 L460.3,479.4 L459.8,475.0 L461.4,474.5 L465.0,478.5 L466.1,483.2Z" fill="#ffbf70"/>
<path d="M399.0,442.3 L397.7,439.7 L397.5,436.6 L400.0,431.7 L402.1,430.5 L402.8,433.6 L402.4,437.7 L401.4,439.0Z" fill="#ff9633"/>
<path d="M312.3,491.0 L305.3,491.1 L303.1,483.2 L299.6,473.5 L305.4,468.7 L309.7,477.2 L316.7,488.6Z" fill="#f79999"/>
<path d="M595.9,518.2 L589.5,514.9 L585.4,494.9 L589.3,490.8 L599.4,512.4Z" fill="#ffd78f"/>
<path d="M452.8,508.0 L448.4,507.9 L444.3,497.5 L445.1,488.9 L451.6,493.9 L456.8,505.5Z" fill="#f5cccc"/>
<path d="M592.2,572.9 L590.3,566.3 L590.8,557.3 L595.9,557.2 L596.2,566.7Z" fill="#ffbf70"/>
<path d="M416.0,584.9 L413.6,580.9 L413.6,572.0 L420.8,570.2 L419.6,580.0Z" fill="#f5cccc"/>
<path d="M441.1,467.1 L437.4,466.4 L438.3,456.3 L441.7,454.2 L444.6,454.9 L446.3,455.5 L443.9,467.4Z" fill="#ff9633"/>
<path d="M347.0,468.6 L343.9,466.9 L338.9,457.5 L340.3,450.3 L344.1,455.8 L349.9,468.1Z" fill="#ffd78f"/>
<path d="M488.1,528.2 L485.0,527.0 L483.3,524.1 L481.6,519.1 L482.7,514.0 L485.4,515.4 L488.1,519.4 L490.6,525.2Z" fill="#ffbf70"/>
<path d="M564.3,590.8 L559.5,589.0 L554.7,582.4 L554.3,576.7 L556.6,575.1 L562.1,577.6 L565.8,582.9 L563.4,583.9Z" fill="#ffbf70"/>
<path d="M594.6,564.9 L591.7,559.4 L594.1,547.1 L600.1,548.3 L598.0,559.7Z" fill="#ff9633"/>
<path d="M548.6,552.3 L546.2,550.2 L547.3,545.2 L549.3,546.6 L551.9,551.5Z" fill="#fc3333"/>
<path d="M400.2,460.0 L399.3,454.6 L399.1,445.0 L402.2,441.3 L403.9,444.8 L404.6,454.2Z" fill="#ff9633"/>
<path d="M445.4,567.3 L439.6,563.5 L437.3,550.4 L439.0,544.8 L443.1,545.1 L446.6,548.1 L444.9,559.2Z" fill="#ff9633"/>
<path d="M410.8,540.0 L406.2,538.7 L405.9,535.9 L403.7,529.3 L407.1,528.6 L408.6,529.5 L410.4,533.3 L411.4,535.6Z" fill="#ff9633"/>
<path d="M575.6,520.9 L570.1,521.6 L568.1,510.3 L573.3,508.6 L577.5,512.7 L577.2,518.0Z" fill="#ffd78f"/>
<path d="M339.7,534.1 L334.9,530.2 L334.1,522.5 L336.3,516.1 L340.3,518.8 L342.2,532.8Z" fill="#ffd78f"/>
<path d="M546.4,641.0 L543.8,640.2 L540.6,638.2 L542.5,631.3 L546.5,631.4 L549.0,633.8 L550.7,638.8Z" fill="#f79999"/>
<path d="M329.4,501.4 L324.2,496.7 L318.6,494.9 L318.6,485.8 L322.3,485.7 L325.8,488.7 L328.8,496.4Z" fill="#ffbf70"/>
<path d="M368.8,573.0 L365.6,568.4 L364.3,564.0 L367.6,562.5 L369.5,567.4Z" fill="#ff9633"/>
<path d="M499.3,606.3 L495.5,604.4 L497.1,594.9 L499.6,596.7 L501.2,600.8Z" fill="#ffbf70"/>
<path d="M576.2,591.1 L573.4,588.3 L574.0,581.9 L577.8,583.9 L577.8,587.3Z" fill="#ffbf70"/>
<path d="M497.4,637.9 L491.5,634.8 L493.7,623.3 L496.0,621.6 L500.1,618.7 L504.4,619.2 L504.7,623.3 L500.6,632.2Z" fill="#ffbf70"/>
<path d="M464.3,478.5 L457.4,479.0 L450.5,463.6 L451.2,456.7 L457.3,458.8 L466.4,476.0Z" fill="#ffbf70"/>
<path d="M352.2,434.4 L345.6,431.1 L343.0,421.1 L347.2,412.3 L351.6,413.1 L355.8,420.2 L355.4,427.2Z" fill="#ffbf70"/>
<path d="M295.5,483.8 L289.5,480.9 L286.6,473.6 L289.9,468.6 L294.9,472.4 L297.9,479.4Z" fill="#ff9633"/>
<path d="M374.9,557.0 L371.5,553.9 L367.8,543.5 L367.5,536.2 L373.4,541.6 L374.3,546.8Z" fill="#ffd78f"/>
<path d="M502.1,522.5 L499.0,523.1 L497.2,519.8 L497.5,518.1 L499.9,516.3 L501.3,515.7 L504.3,519.7 L503.0,521.8Z" fill="#ff9633"/>
<path d="M515.2,571.3 L511.2,569.6 L510.0,561.0 L510.1,557.0 L512.0,552.5 L513.3,559.1 L516.4,569.2Z" fill="#f5cccc"/>
<path d="M290.2,525.8 L285.0,521.2 L282.0,502.0 L287.3,496.8 L294.5,505.8 L292.0,517.6Z" fill="#ffbf70"/>
<path d="M595.3,635.0 L589.4,630.2 L589.0,623.6 L593.5,624.2 L596.9,631.0Z" fill="#ffbf70"/>
<path d="M371.0,536.1 L367.6,535.3 L365.3,528.9 L366.8,523.8 L370.1,519.9 L375.2,523.9 L376.3,532.4Z" fill="#ff9633"/>
<path d="M520.1,633.6 L515.4,631.7 L516.1,618.8 L517.8,613.8 L522.6,614.0 L524.4,619.1 L523.6,628.4Z" fill="#ffbf70"/>
<path d="M575.6,631.9 L572.0,627.2 L571.5,615.0 L576.7,615.3 L580.0,620.1 L578.9,631.2Z" fill="#ffd78f"/>
<path d="M418.9,442.7 L414.8,444.8 L409.4,435.9 L409.6,429.2 L414.3,428.6 L416.4,431.8 L422.6,438.4Z" fill="#ff9633"/>
<path d="M430.5,548.8 L428.2,544.9 L425.7,541.4 L425.8,532.9 L428.9,534.6 L430.7,532.2 L432.3,537.7 L434.5,549.1Z" fill="#f79999"/>
<path d="M484.5,589.8 L478.5,579.7 L479.2,562.6 L485.8,554.8 L488.6,576.6Z" fill="#ffbf70"/>
<path d="M350.9,473.1 L348.8,472.4 L346.5,468.6 L347.0,465.6 L349.7,465.3 L351.1,467.1 L353.1,470.7Z" fill="#ffd78f"/>
<path d="M479.1,556.4 L474.0,562.3 L472.9,545.6 L474.4,540.5 L479.5,534.9 L484.6,540.7 L484.8,550.2 L483.8,556.0Z" fill="#f5cccc"/>
<path d="M486.0,538.7 L482.0,538.5 L478.4,537.7 L479.0,535.0 L479.7,531.8 L485.2,529.7 L486.6,530.8 L486.2,535.4Z" fill="#ff9633"/>
<path d="M416.2,573.1 L412.8,571.6 L411.9,567.4 L412.6,564.0 L415.4,560.0 L418.4,560.1 L419.8,567.7 L417.9,573.1Z" fill="#ffbf70"/>
<path d="M615.6,607.8 L610.1,608.6 L606.1,598.9 L608.2,591.0 L614.5,592.7 L617.2,597.9 L616.7,603.1Z" fill="#ff9633"/>
<path d="M572.4,462.4 L569.7,461.9 L570.0,458.4 L570.4,457.3 L572.8,457.4 L574.6,458.2 L574.7,459.3 L574.0,462.5Z" fill="#ffbf70"/>
<path d="M347.5,497.6 L343.3,495.7 L337.9,487.1 L335.7,482.0 L342.6,479.2 L348.9,486.0 L351.6,492.7Z" fill="#ff9633"/>
<path d="M366.9,540.1 L363.1,536.3 L359.8,530.4 L362.0,529.0 L365.7,532.0 L368.4,537.7Z" fill="#fc3333"/>
<path d="M431.6,615.3 L429.0,615.0 L426.5,614.5 L427.4,612.2 L427.7,609.2 L429.6,609.3 L432.2,611.1 L434.1,613.2Z" fill="#ffbf70"/>
<path d="M498.2,568.1 L491.7,560.1 L492.7,549.2 L497.3,550.3 L501.1,558.5Z" fill="#f5cccc"/>
<path d="M479.8,516.8 L476.6,510.3 L479.5,502.9 L482.6,503.4 L484.0,510.9Z" fill="#ff9633"/>
<path d="M386.6,471.3 L383.1,465.6 L384.6,457.5 L388.2,458.3 L390.2,465.8Z" fill="#f5cccc"/>
<path d="M451.8,446.2 L448.5,441.3 L448.6,434.5 L451.5,433.6 L453.3,442.3Z" fill="#ff9633"/>
<path d="M475.5,537.3 L466.6,523.2 L463.1,511.4 L470.7,512.5 L475.3,523.1Z" fill="#f79999"/>
<path d="M486.6,514.6 L485.5,512.4 L486.4,507.0 L487.2,501.8 L488.7,504.1 L490.1,505.8 L490.2,509.2 L489.0,510.6Z" fill="#ffbf70"/>
<path d="M315.1,432.3 L310.1,429.5 L312.6,421.3 L315.2,421.2 L316.8,427.3Z" fill="#f5cccc"/>
<path d="M540.2,638.5 L538.3,637.3 L536.1,633.1 L538.4,631.1 L541.5,630.5 L542.8,632.7 L543.0,635.8Z" fill="#ffbf70"/>
<path d="M432.1,585.4 L428.5,580.2 L432.1,576.9 L437.0,575.8 L437.8,581.7Z" fill="#ffd78f"/>
<path d="M269.3,506.5 L265.4,500.3 L266.7,494.5 L269.8,494.5 L272.3,501.0Z" fill="#ffbf70"/>
<path d="M542.7,556.2 L541.1,556.7 L539.3,553.1 L539.7,550.0 L544.0,551.7 L544.5,554.0Z" fill="#ffbf70"/>
<path d="M585.0,489.5 L581.8,481.5 L580.1,475.9 L584.4,472.9 L591.7,474.7 L588.9,483.9Z" fill="#ffbf70"/>
<path d="M452.8,516.4 L446.7,512.9 L443.7,501.4 L446.7,498.3 L454.7,506.7Z" fill="#ff9633"/>
<path d="M366.4,465.4 L361.9,459.8 L362.3,455.9 L362.7,450.6 L366.0,454.2 L366.8,458.9Z" fill="#ff9633"/>
<path d="M568.4,521.1 L565.2,518.0 L562.2,511.0 L562.8,502.0 L567.2,505.3 L570.0,505.8 L571.4,520.1Z" fill="#ffbf70"/>
<path d="M462.8,509.9 L458.3,508.7 L455.6,499.9 L459.5,491.5 L465.1,489.5 L465.3,499.6 L464.9,510.4Z" fill="#ff9633"/>
<path d="M489.8,535.5 L487.7,534.0 L487.6,525.2 L489.5,519.3 L490.7,520.0 L492.8,524.2 L492.6,530.3Z" fill="#ffbf70"/>
<path d="M616.0,565.6 L612.2,565.8 L608.3,566.2 L607.7,561.4 L608.8,554.7 L612.3,556.2 L619.0,560.1 L617.7,563.0Z" fill="#ffd78f"/>
<path d="M500.7,511.6 L496.5,509.2 L492.3,503.4 L492.7,498.7 L498.9,501.1 L502.6,508.7Z" fill="#ffd78f"/>
<path d="M358.6,475.2 L354.8,467.1 L358.1,457.2 L363.7,460.3 L364.1,470.1Z" fill="#f5cccc"/>
<path d="M522.5,570.6 L519.0,571.1 L517.6,565.8 L518.6,560.5 L520.6,562.0 L525.6,568.8Z" fill="#ffbf70"/>
<path d="M492.8,480.2 L490.2,479.2 L489.1,475.9 L490.9,474.2 L493.9,475.9 L494.4,477.3Z" fill="#ff9633"/>
<path d="M376.4,598.1 L371.2,592.6 L369.9,588.0 L372.1,583.8 L377.4,593.7Z" fill="#ffbf70"/>
<path d="M299.3,438.2 L296.5,441.0 L292.2,436.4 L293.7,429.5 L296.4,425.0 L299.7,431.1 L302.3,434.1Z" fill="#ff9633"/>
<path d="M469.8,545.9 L465.0,539.3 L463.2,532.7 L469.2,530.5 L474.0,536.2Z" fill="#f79999"/>
<path d="M282.4,475.0 L280.0,479.1 L275.7,469.2 L274.0,463.8 L279.7,458.6 L283.2,464.3 L287.2,465.6 L286.0,471.4Z" fill="#ffbf70"/>
<path d="M421.8,459.2 L418.0,456.7 L419.3,453.6 L421.3,452.9 L422.7,455.8Z" fill="#ff9633"/>
<path d="M409.4,582.9 L403.9,579.0 L402.2,575.8 L398.1,568.8 L401.1,563.9 L406.0,569.3 L410.7,574.4 L409.4,578.9Z" fill="#ffbf70"/>
<path d="M363.6,484.1 L361.4,480.4 L359.8,469.3 L365.9,465.6 L369.6,469.4 L368.8,479.2Z" fill="#ffd78f"/>
<path d="M447.4,528.4 L442.0,523.7 L440.4,514.2 L444.7,508.1 L449.6,516.1 L449.6,522.1Z" fill="#ffd78f"/>
<path d="M398.2,513.0 L392.9,508.7 L392.2,504.3 L394.3,500.7 L397.1,501.8 L398.2,507.4Z" fill="#ffbf70"/>
<path d="M315.6,439.0 L308.4,435.1 L310.5,418.6 L315.5,420.7 L319.3,433.1Z" fill="#ffbf70"/>
<path d="M386.3,604.1 L383.3,603.4 L380.3,600.0 L382.2,596.9 L386.1,597.1 L386.6,601.0Z" fill="#f5cccc"/>
<path d="M340.9,522.7 L336.2,519.2 L339.0,517.0 L342.1,515.8 L342.4,521.2Z" fill="#ff9633"/>
<path d="M598.2,590.0 L593.8,586.9 L595.3,577.2 L604.4,578.3 L602.9,585.7Z" fill="#ffbf70"/>
<path d="M500.4,590.8 L497.6,586.8 L496.3,580.1 L498.8,575.3 L502.4,584.7Z" fill="#ffbf70"/>
<path d="M343.5,448.6 L342.5,447.9 L342.0,443.8 L342.8,442.5 L345.0,443.6 L345.4,446.6Z" fill="#ffbf70"/>
<path d="M480.9,616.8 L477.2,613.1 L474.4,608.7 L477.6,607.3 L480.8,612.1Z" fill="#ff9633"/>
<path d="M400.0,543.9 L398.2,538.8 L397.6,528.5 L401.2,525.3 L403.7,529.4 L404.5,536.2 L404.6,543.1Z" fill="#fc3333"/>
<path d="M582.6,479.4 L580.3,481.4 L573.7,472.1 L573.4,463.8 L576.2,463.5 L580.8,464.2 L583.8,469.5 L584.4,473.7Z" fill="#ff9633"/>
<path d="M316.7,449.0 L315.2,448.9 L309.5,441.6 L309.9,438.9 L311.8,438.7 L315.4,441.8 L315.5,444.4Z" fill="#ffbf70"/>
<path d="M403.7,549.2 L401.1,544.1 L399.1,537.8 L401.8,536.2 L403.3,537.1 L404.7,543.9Z" fill="#f79999"/>
<path d="M594.8,502.5 L591.0,496.0 L594.0,476.1 L599.6,483.7 L600.2,496.1Z" fill="#ff9633"/>
<path d="M509.3,635.6 L502.9,633.4 L504.1,626.2 L509.4,624.4 L511.9,631.0Z" fill="#ff9633"/>
<path d="M609.1,604.7 L606.0,605.3 L605.7,602.5 L604.7,599.1 L607.4,598.8 L611.5,599.4 L612.1,602.5Z" fill="#ffbf70"/>
<path d="M445.3,572.9 L434.6,565.7 L431.1,552.2 L436.8,554.2 L441.3,560.4Z" fill="#ffbf70"/>
<path d="M504.3,561.8 L501.6,558.8 L501.5,551.7 L503.5,547.6 L504.8,550.5 L506.7,554.3 L505.7,558.9Z" fill="#ffbf70"/>
<path d="M349.5,449.8 L344.8,446.1 L343.9,439.6 L344.7,432.2 L346.9,431.0 L349.8,432.3 L351.2,437.9 L350.0,444.1Z" fill="#ffd78f"/>
<path d="M584.7,463.3 L579.5,460.6 L580.2,450.9 L585.6,451.1 L587.5,459.6Z" fill="#f5cccc"/>
<path d="M446.2,561.7 L440.5,558.2 L439.6,549.7 L443.3,544.4 L447.1,544.1 L449.2,551.2 L450.0,560.8Z" fill="#f79999"/>
<path d="M393.4,492.4 L391.7,491.0 L392.8,484.4 L395.7,485.6 L395.9,491.1Z" fill="#ff9633"/>
<path d="M593.4,597.0 L587.7,592.7 L587.1,579.7 L591.4,574.8 L596.8,573.2 L596.4,581.7 L596.3,588.7Z" fill="#fc3333"/>
<path d="M359.4,470.0 L355.2,457.2 L359.1,443.8 L361.8,448.4 L363.4,463.1Z" fill="#ffbf70"/>
<path d="M579.6,620.0 L574.6,618.3 L577.6,610.0 L581.9,611.1 L583.2,616.5Z" fill="#ffbf70"/>
<path d="M409.3,484.9 L404.5,483.1 L404.1,477.5 L407.1,475.4 L410.1,477.0 L412.7,482.2Z" fill="#f79999"/>
<path d="M506.2,501.8 L501.6,496.8 L498.1,492.3 L495.4,478.6 L497.7,472.8 L502.3,478.0 L505.5,485.1 L506.5,492.7Z" fill="#ff9633"/>
<path d="M327.8,498.7 L323.5,496.3 L323.0,482.6 L327.0,477.0 L328.8,476.6 L330.3,478.0 L333.2,483.0 L330.0,492.4Z" fill="#ff9633"/>
<path d="M336.6,449.2 L333.7,442.7 L334.4,433.5 L337.7,429.1 L341.3,434.4 L341.3,440.3 L339.8,448.4Z" fill="#ffd78f"/>
<path d="M429.9,546.7 L428.9,537.7 L428.8,528.9 L432.7,523.9 L436.7,530.9 L434.8,538.0Z" fill="#ffbf70"/>
<path d="M423.2,575.2 L419.8,574.3 L417.3,572.3 L420.0,569.6 L423.9,570.3 L424.2,572.7Z" fill="#ff9633"/>
<path d="M380.6,598.4 L377.1,598.0 L373.7,587.6 L372.9,580.5 L375.1,573.2 L379.0,579.5 L382.8,585.8 L383.9,596.5Z" fill="#f5cccc"/>
<path d="M380.0,491.4 L374.8,490.0 L370.6,487.0 L367.3,476.3 L369.5,472.0 L372.0,472.0 L379.2,479.9 L378.8,483.9Z" fill="#ffbf70"/>
<path d="M524.7,604.5 L523.5,597.3 L524.6,593.7 L528.1,585.7 L531.2,585.8 L530.1,594.1 L527.5,600.8Z" fill="#ff9633"/>
<path d="M480.5,536.8 L480.0,532.9 L477.9,528.4 L480.6,523.1 L481.4,522.7 L483.4,522.4 L485.2,529.6 L482.9,533.5Z" fill="#ffbf70"/>
<path d="M466.1,513.3 L463.7,506.4 L465.0,496.1 L466.2,488.4 L470.9,489.9 L471.3,499.4 L469.7,506.8Z" fill="#ffd78f"/>
<path d="M435.0,625.2 L428.6,625.7 L427.6,617.5 L426.6,608.7 L429.6,607.3 L433.2,610.7 L435.6,615.5 L436.5,621.5Z" fill="#fc3333"/>
<path d="M336.8,500.8 L331.8,502.0 L331.1,489.4 L334.6,482.2 L340.2,484.1 L343.6,490.3 L342.0,503.7Z" fill="#ffbf70"/>
<path d="M490.9,456.7 L489.8,455.3 L489.4,451.8 L489.2,448.7 L492.0,447.5 L493.4,449.5 L495.9,452.6 L493.4,456.3Z" fill="#ffd78f"/>
<path d="M363.2,533.0 L359.6,530.0 L357.3,521.5 L362.0,513.8 L364.8,518.8 L366.4,530.7Z" fill="#ff9633"/>
<path d="M402.2,577.0 L399.9,576.9 L398.8,572.1 L402.2,571.1 L404.5,572.3 L405.6,575.4Z" fill="#ffbf70"/>
<path d="M382.2,485.5 L375.8,487.2 L375.8,482.2 L377.2,477.4 L381.0,478.6 L385.6,482.7Z" fill="#f5cccc"/>
<path d="M449.8,433.6 L446.0,433.5 L446.5,423.8 L447.9,419.8 L450.4,415.9 L454.8,415.7 L453.6,423.0 L452.2,432.4Z" fill="#ff9633"/>
<path d="M584.7,553.4 L580.8,554.7 L579.5,550.1 L580.6,546.1 L585.2,545.0 L587.6,544.3 L587.3,549.7 L587.1,551.9Z" fill="#ff9633"/>
<path d="M460.8,559.8 L457.2,560.3 L453.5,549.1 L451.4,540.6 L452.2,538.1 L457.2,544.6 L461.2,544.4 L461.6,557.5Z" fill="#ff9633"/>
<path d="M413.3,458.5 L413.2,455.1 L412.2,453.8 L414.6,448.7 L416.9,446.2 L417.5,449.9 L416.8,452.3 L416.0,455.2Z" fill="#f5cccc"/>
<path d="M255.1,576.6 L250.9,575.6 L243.8,567.0 L241.8,563.0 L241.6,557.7 L249.5,563.6 L256.0,574.0Z" fill="#ffbf70"/>
<path d="M259.2,596.7 L256.2,593.8 L255.8,591.7 L257.2,588.6 L259.5,593.6Z" fill="#ffbf70"/>
<path d="M193.2,504.1 L192.4,506.0 L187.2,499.9 L186.2,498.0 L185.0,493.4 L189.4,495.1 L190.6,498.2 L194.9,504.2Z" fill="#9c870c"/>
<path d="M216.1,542.9 L213.7,542.7 L209.8,532.7 L208.3,528.1 L212.6,527.4 L215.7,533.0 L219.2,539.2Z" fill="#ddd800"/>
<path d="M259.7,612.0 L254.4,612.3 L246.5,605.1 L242.7,600.9 L246.0,599.3 L249.0,601.1 L257.8,608.2Z" fill="#9c870c"/>
<path d="M214.6,546.3 L207.9,540.2 L208.2,535.0 L212.5,531.4 L215.2,538.5Z" fill="#f5cccc"/>
<path d="M226.9,570.7 L221.4,569.9 L219.2,562.4 L217.9,552.7 L219.6,551.0 L226.9,559.4 L226.1,562.6Z" fill="#ddd800"/>
<path d="M203.9,492.6 L201.9,491.2 L201.2,489.1 L201.6,488.1 L203.1,488.0 L204.7,489.7Z" fill="#ffbf70"/>
<path d="M206.0,487.9 L204.5,485.2 L202.3,482.5 L203.9,477.1 L207.5,476.9 L209.9,479.6 L208.6,484.5Z" fill="#f5cccc"/>
<path d="M249.8,574.4 L247.2,571.1 L247.6,568.2 L248.4,566.1 L250.7,568.6 L251.2,571.1Z" fill="#ffbf70"/>
<path d="M205.0,501.8 L203.4,502.3 L199.4,498.2 L199.7,495.1 L201.1,491.6 L204.0,494.9 L207.1,498.8Z" fill="#9c870c"/>
<path d="M244.1,578.0 L238.6,577.7 L231.5,569.7 L234.4,568.0 L244.2,573.5Z" fill="#ddd800"/>
<path d="M252.6,596.2 L249.3,595.9 L245.2,593.7 L245.9,589.4 L248.4,589.4 L252.5,593.9Z" fill="#9c870c"/>
<path d="M230.6,574.4 L225.7,572.1 L223.6,567.8 L222.9,564.4 L226.8,563.4 L230.5,569.7Z" fill="#f5cccc"/>
<path d="M232.9,565.1 L230.1,562.4 L229.6,554.1 L232.5,555.5 L233.9,559.0Z" fill="#f5cccc"/>
<path d="M239.3,589.1 L237.6,588.2 L235.8,585.8 L235.0,580.9 L237.5,581.5 L241.7,584.8 L242.0,588.2Z" fill="#f5cccc"/>
<path d="M197.2,494.2 L191.4,488.4 L189.6,482.4 L192.6,478.6 L196.8,486.1Z" fill="#9c870c"/>
<path d="M238.8,566.0 L236.7,567.1 L236.8,562.4 L236.9,561.1 L237.7,557.2 L241.2,560.6 L242.8,561.5 L242.2,565.0Z" fill="#f5cccc"/>
<path d="M223.4,508.5 L219.7,506.7 L218.7,503.8 L218.8,501.1 L222.9,504.2Z" fill="#9c870c"/>
<path d="M252.0,589.7 L248.4,589.3 L249.0,587.3 L249.8,585.1 L252.5,585.1 L253.4,588.5Z" fill="#9c870c"/>
<path d="M241.5,586.1 L239.8,585.4 L239.0,582.7 L238.9,579.4 L241.0,582.0 L243.3,585.3Z" fill="#9c870c"/>
<path d="M225.4,557.5 L224.5,557.8 L222.9,556.8 L220.4,553.8 L221.7,552.9 L223.5,553.4 L224.7,554.3 L226.0,556.8Z" fill="#ffbf70"/>
<path d="M200.7,504.1 L198.9,501.0 L197.5,497.9 L196.0,495.8 L197.4,494.2 L199.1,495.3 L201.1,497.3 L201.8,500.8Z" fill="#ffbf70"/>
<path d="M198.9,508.7 L195.2,502.9 L192.6,496.1 L195.9,495.6 L200.2,498.9Z" fill="#ffbf70"/>
<path d="M207.3,486.7 L206.0,486.0 L203.6,483.0 L204.9,478.3 L206.7,478.2 L209.0,479.4 L209.7,485.3Z" fill="#f5cccc"/>
<path d="M248.8,565.7 L244.6,562.3 L241.9,558.9 L242.8,556.8 L248.5,560.7Z" fill="#ffbf70"/>
<path d="M239.4,544.0 L234.0,540.8 L233.0,537.2 L234.9,535.3 L240.5,538.5Z" fill="#ddd800"/>
<path d="M181.9,471.2 L179.4,467.5 L178.5,463.3 L179.7,460.0 L184.1,465.5Z" fill="#f5cccc"/>
<path d="M220.1,524.5 L216.8,522.4 L214.7,516.1 L216.4,514.4 L220.6,516.2 L221.1,521.7Z" fill="#ddd800"/>
<path d="M258.4,615.7 L257.1,616.0 L254.2,612.3 L254.0,610.0 L255.7,609.9 L258.5,614.2Z" fill="#ffbf70"/>
<path d="M249.9,587.3 L244.8,584.1 L243.9,579.8 L245.3,577.4 L249.4,581.5Z" fill="#9c870c"/>
<path d="M196.1,499.3 L192.5,495.6 L191.2,485.7 L193.6,480.3 L198.0,487.7 L199.9,493.7Z" fill="#9c870c"/>
<path d="M203.6,513.0 L198.2,512.6 L196.0,505.3 L197.7,499.9 L201.3,503.1 L204.4,507.4Z" fill="#ffbf70"/>
<path d="M245.3,566.5 L243.2,566.0 L242.4,564.5 L242.4,563.3 L243.0,562.1 L244.4,562.0 L245.3,565.0Z" fill="#9c870c"/>
<path d="M249.7,595.5 L248.6,596.6 L243.2,591.8 L242.5,588.9 L246.1,588.2 L251.2,593.5Z" fill="#f5cccc"/>
<path d="M208.7,486.0 L205.1,483.9 L203.4,480.9 L204.7,479.0 L208.8,482.5Z" fill="#9c870c"/>
<path d="M241.8,581.6 L238.4,581.8 L236.5,579.9 L239.6,577.1 L243.8,579.1Z" fill="#ddd800"/>
<path d="M195.5,475.4 L193.5,476.4 L190.2,475.2 L190.6,472.1 L193.0,471.9 L196.3,472.9Z" fill="#ff9633"/>
<path d="M227.8,546.1 L223.6,543.4 L222.4,541.2 L221.0,532.8 L223.6,529.9 L226.6,533.0 L228.7,539.5 L228.9,541.7Z" fill="#ffbf70"/>
<path d="M248.2,565.9 L243.8,563.8 L241.8,557.1 L240.9,552.5 L244.4,555.0 L247.3,560.6Z" fill="#f5cccc"/>
<path d="M190.4,484.1 L186.8,484.3 L181.8,476.1 L177.9,466.6 L178.8,462.6 L187.8,473.0 L191.6,479.7Z" fill="#9c870c"/>
<path d="M188.7,496.3 L185.4,498.0 L182.6,495.0 L183.6,493.0 L187.0,491.1 L188.7,493.5Z" fill="#ffbf70"/>
<path d="M217.5,543.7 L216.0,544.2 L214.9,543.4 L214.9,541.0 L215.7,540.0 L218.0,541.3 L217.9,542.4Z" fill="#f5cccc"/>
<path d="M182.1,482.9 L180.3,481.3 L178.2,476.5 L179.6,474.1 L180.2,470.3 L182.4,472.9 L182.9,476.1 L183.1,478.9Z" fill="#9c870c"/>
<path d="M207.5,475.1 L206.9,479.3 L199.2,471.3 L195.7,467.6 L195.6,461.0 L197.6,459.9 L202.5,463.6 L207.6,470.1Z" fill="#ffbf70"/>
<path d="M230.9,565.8 L227.4,561.9 L225.6,551.9 L228.7,552.9 L233.2,565.0Z" fill="#f5cccc"/>
<path d="M255.4,607.6 L251.7,606.6 L250.9,604.1 L252.2,602.2 L255.0,604.4Z" fill="#9c870c"/>
<path d="M207.3,513.8 L204.6,514.0 L202.1,511.2 L203.2,509.7 L205.8,510.2 L207.9,512.0Z" fill="#ddd800"/>
<path d="M256.7,599.0 L253.4,600.9 L251.8,598.9 L250.0,593.3 L251.6,591.0 L252.8,588.2 L257.1,593.8 L258.9,597.2Z" fill="#ffbf70"/>
<path d="M223.2,515.1 L219.6,511.9 L217.3,508.7 L218.6,507.0 L222.5,511.4Z" fill="#9c870c"/>
<path d="M255.4,595.4 L253.7,593.8 L251.6,591.3 L252.5,589.0 L253.8,588.1 L256.1,590.1 L257.8,590.9 L257.3,594.9Z" fill="#f5cccc"/>
<path d="M235.0,552.6 L232.1,550.9 L232.2,549.0 L231.9,545.4 L235.5,544.5 L237.4,547.5 L237.4,551.4Z" fill="#ffbf70"/>
<path d="M205.3,472.8 L203.4,470.7 L202.9,468.0 L204.1,467.0 L205.8,470.4Z" fill="#9c870c"/>
<path d="M236.5,557.6 L234.2,557.2 L232.3,554.7 L232.2,548.5 L234.4,546.6 L238.8,553.0 L239.2,558.8Z" fill="#ff9633"/>
<path d="M230.8,560.1 L228.4,558.5 L225.3,556.4 L226.5,551.0 L229.6,552.1 L233.4,554.8 L233.1,559.1Z" fill="#ddd800"/>
<path d="M229.9,529.8 L228.6,529.9 L226.3,526.7 L224.7,521.2 L225.6,520.0 L229.2,522.1 L231.5,524.2 L231.9,529.9Z" fill="#ffbf70"/>
<path d="M210.1,519.5 L205.7,516.2 L204.7,507.4 L208.1,508.4 L209.6,512.7Z" fill="#ffbf70"/>
<path d="M235.3,570.8 L233.5,569.3 L229.3,567.6 L228.2,564.1 L228.9,562.5 L229.6,562.4 L234.0,564.8 L236.5,568.1Z" fill="#9c870c"/>
<path d="M231.1,561.2 L228.6,555.9 L228.2,551.9 L229.0,544.5 L230.4,546.3 L233.0,552.1 L233.5,556.1Z" fill="#f5cccc"/>
<path d="M253.2,579.4 L249.5,579.2 L248.1,577.7 L248.8,573.9 L251.9,574.7 L255.0,578.4Z" fill="#9c870c"/>
<path d="M215.1,513.2 L211.7,511.9 L210.5,509.3 L208.6,505.3 L211.0,500.6 L213.1,504.5 L216.3,509.0 L217.6,516.3Z" fill="#ffbf70"/>
<path d="M245.6,574.8 L245.1,573.6 L244.4,571.2 L244.8,568.9 L246.1,569.4 L247.5,571.5 L247.0,573.1Z" fill="#9c870c"/>
<path d="M247.4,590.7 L243.2,590.0 L240.0,584.8 L239.4,582.5 L242.0,582.4 L248.9,587.1Z" fill="#ffbf70"/>
<path d="M245.4,562.1 L242.9,561.4 L240.7,559.1 L240.6,556.7 L242.5,557.0 L244.8,558.7 L246.0,560.2Z" fill="#9c870c"/>
<path d="M250.7,570.0 L248.6,569.9 L244.5,566.6 L239.7,558.8 L243.1,560.2 L248.3,564.4 L250.2,568.1Z" fill="#9c870c"/>
<path d="M205.6,506.4 L202.7,506.4 L199.0,505.3 L194.7,497.5 L193.0,493.4 L199.7,496.7 L203.5,499.3 L206.3,502.2Z" fill="#ddd800"/>
<path d="M215.0,493.4 L212.7,487.8 L211.1,482.1 L212.8,478.5 L216.7,479.6 L218.1,486.6Z" fill="#ff9633"/>
<path d="M205.5,522.5 L203.4,521.7 L199.3,517.9 L196.7,514.5 L196.6,511.2 L200.1,512.9 L203.2,514.6 L206.9,520.6Z" fill="#f5cccc"/>
<path d="M201.8,482.8 L197.9,482.1 L198.4,476.9 L200.7,475.9 L204.1,478.0Z" fill="#ddd800"/>
<path d="M247.0,600.8 L245.0,602.8 L242.6,596.9 L242.1,592.7 L245.1,595.7 L248.0,599.5Z" fill="#f5cccc"/>
<path d="M192.0,444.4 L189.2,445.8 L186.1,439.7 L188.9,437.9 L189.9,435.3 L191.9,438.3 L194.0,443.6Z" fill="#fc3333"/>
<path d="M220.2,458.7 L217.4,459.3 L212.6,449.8 L209.2,446.4 L213.0,438.7 L217.1,443.9 L219.9,447.0 L221.2,453.6Z" fill="#f5cccc"/>
<path d="M226.2,421.6 L228.1,418.9 L231.0,414.8 L238.1,415.3 L236.3,420.0 L239.1,421.0 L232.1,424.8 L225.5,425.6Z" fill="#f5cccc"/>
<path d="M243.0,429.2 L240.9,423.9 L240.6,418.1 L243.8,418.9 L245.3,421.3 L244.5,424.5Z" fill="#f5cccc"/>
<path d="M256.3,425.4 L254.8,425.6 L252.2,426.6 L249.7,426.6 L248.4,424.1 L249.7,422.7 L252.7,422.2 L255.0,422.9Z" fill="#ff9633"/>
<path d="M166.7,443.7 L164.8,441.8 L162.8,439.7 L162.0,436.0 L160.7,431.5 L164.8,432.7 L167.7,436.1 L168.4,440.0Z" fill="#fc3333"/>
<path d="M163.9,453.1 L158.9,452.9 L156.6,448.6 L154.5,445.0 L155.0,442.7 L157.8,442.9 L160.4,443.7 L163.1,450.0Z" fill="#ff9633"/>
<path d="M221.6,441.6 L219.6,438.2 L220.3,433.3 L222.5,433.4 L223.6,433.6 L223.4,440.4Z" fill="#fc3333"/>
<path d="M211.7,429.2 L204.7,431.1 L197.2,425.7 L199.3,423.7 L202.7,421.1 L208.2,423.7Z" fill="#ff9633"/>
<path d="M174.8,439.3 L172.7,440.6 L171.3,439.6 L170.6,436.7 L173.8,437.0Z" fill="#f5cccc"/>
<path d="M219.3,439.1 L214.9,436.5 L212.2,432.7 L216.7,431.3 L219.8,435.3Z" fill="#ff9633"/>
<path d="M168.2,435.2 L165.8,432.4 L164.6,430.2 L162.4,426.4 L165.2,426.5 L167.4,426.4 L168.4,430.2 L170.3,431.7Z" fill="#ffbf70"/>
<path d="M150.4,429.2 L147.4,428.6 L147.6,425.3 L147.6,420.9 L150.7,422.0 L153.6,421.5 L154.3,425.7 L153.7,428.3Z" fill="#ffbf70"/>
<path d="M173.6,438.6 L177.2,430.8 L184.0,427.8 L184.7,431.7 L181.7,436.7Z" fill="#f5cccc"/>
<path d="M251.9,457.7 L248.2,458.1 L244.1,454.6 L244.6,452.4 L245.0,451.3 L248.1,451.2 L250.0,454.1Z" fill="#f5cccc"/>
<path d="M155.8,423.8 L154.9,424.8 L152.9,425.2 L151.9,423.6 L152.8,422.3 L154.4,422.1 L155.5,422.6Z" fill="#f5cccc"/>
<path d="M173.5,452.7 L170.4,454.8 L168.5,454.0 L165.4,450.4 L168.8,449.3 L172.1,449.3Z" fill="#fc3333"/>
<path d="M192.1,440.1 L189.7,441.2 L187.8,442.5 L185.9,441.8 L184.1,440.1 L183.5,437.2 L188.3,437.1 L191.0,436.7Z" fill="#fc3333"/>
<path d="M188.9,439.4 L184.7,435.5 L183.9,428.5 L188.4,425.4 L190.6,434.1Z" fill="#f5cccc"/>
<path d="M253.9,432.2 L252.3,434.0 L248.0,429.4 L246.3,425.9 L246.8,424.4 L248.6,424.9 L251.7,427.2 L255.7,432.9Z" fill="#fc3333"/>
<path d="M170.8,440.0 L166.5,437.1 L162.1,430.1 L164.8,423.2 L169.5,426.9 L170.3,434.4Z" fill="#ff9633"/>
<path d="M247.9,446.4 L251.8,440.7 L258.3,440.1 L263.6,440.3 L261.2,444.5 L252.5,448.8Z" fill="#f5cccc"/>
<path d="M240.1,444.7 L242.3,442.4 L249.7,441.1 L247.7,444.4 L243.3,446.1Z" fill="#fc3333"/>
<path d="M191.0,454.4 L187.3,454.0 L185.0,441.9 L186.7,439.1 L191.3,441.0 L193.6,451.6Z" fill="#ffbf70"/>
<path d="M174.9,447.3 L170.8,448.1 L163.8,437.5 L164.2,435.4 L165.4,426.7 L169.9,432.9 L173.6,436.5 L177.2,447.3Z" fill="#f5cccc"/>
<path d="M233.6,442.5 L231.2,439.0 L233.6,437.1 L236.3,434.9 L237.5,436.0 L237.0,438.9 L236.7,442.6Z" fill="#fc3333"/>
<path d="M247.4,439.9 L246.9,435.3 L249.8,430.3 L254.5,430.8 L252.1,437.1Z" fill="#ffbf70"/>
<path d="M180.9,464.8 L179.0,462.3 L180.2,456.9 L182.2,454.0 L185.5,452.6 L187.1,457.9 L183.9,463.1Z" fill="#ffbf70"/>
<path d="M185.8,449.8 L184.9,448.2 L183.7,445.6 L183.7,441.6 L185.2,440.4 L186.1,442.1 L188.1,446.5 L187.0,448.1Z" fill="#ffbf70"/>
<path d="M230.9,433.8 L228.1,433.1 L227.2,430.9 L227.3,428.9 L230.3,429.9 L231.1,432.2Z" fill="#ffbf70"/>
<path d="M228.0,448.8 L223.9,447.0 L220.3,443.2 L221.0,439.7 L226.0,444.2Z" fill="#f5cccc"/>
<path d="M169.7,462.1 L162.6,458.0 L160.9,454.2 L156.9,444.6 L162.7,447.2 L167.9,449.7 L167.2,453.2Z" fill="#f5cccc"/>
<path d="M171.3,441.2 L167.7,437.8 L168.2,431.3 L172.5,434.1 L172.5,439.2Z" fill="#ff9633"/>
<path d="M163.5,447.4 L161.4,444.6 L160.9,442.4 L163.8,440.5 L165.9,438.7 L166.3,444.1 L165.2,446.8Z" fill="#ffbf70"/>
<path d="M220.3,446.9 L219.2,445.1 L224.3,445.0 L226.6,445.2 L228.9,446.9 L226.6,449.1 L225.1,449.5 L221.9,449.3Z" fill="#fc3333"/>
<path d="M189.0,433.3 L187.4,432.3 L189.6,428.7 L192.2,426.9 L193.3,429.9 L191.6,434.1Z" fill="#f5cccc"/>
<path d="M241.9,425.5 L237.3,427.6 L232.9,418.6 L235.4,411.9 L239.5,413.4 L245.3,421.3Z" fill="#ff9633"/>
<path d="M228.3,443.0 L230.2,441.5 L236.6,440.8 L243.9,441.6 L239.8,444.1 L234.3,444.8Z" fill="#fc3333"/>
<path d="M196.3,430.3 L191.7,432.1 L190.0,433.5 L183.3,431.2 L183.4,428.3 L185.4,425.9 L190.6,424.3 L196.5,427.4Z" fill="#f5cccc"/>
<path d="M197.0,455.5 L192.3,455.0 L186.9,455.4 L184.6,452.0 L180.8,447.3 L185.4,446.1 L190.0,448.9 L195.1,451.7Z" fill="#f5cccc"/>
<path d="M177.6,457.4 L180.2,452.8 L182.9,453.7 L186.9,454.1 L185.5,456.1 L182.0,457.0Z" fill="#ffbf70"/>
<path d="M220.2,437.0 L217.6,436.6 L214.1,431.8 L216.8,430.0 L217.5,426.9 L221.5,429.9 L222.1,432.9Z" fill="#ffbf70"/>
<path d="M182.3,444.0 L182.8,440.0 L187.1,434.9 L190.1,433.7 L188.9,438.4 L187.1,441.7Z" fill="#f5cccc"/>
<path d="M219.6,445.8 L218.0,444.7 L216.5,443.6 L216.1,441.4 L216.6,439.8 L219.5,438.9 L220.2,440.8 L220.2,443.4Z" fill="#ff9633"/>
<path d="M229.5,430.0 L225.5,431.5 L218.9,421.2 L222.2,419.6 L228.4,423.3Z" fill="#f5cccc"/>
<path d="M186.0,425.8 L182.9,424.2 L179.3,423.9 L178.1,420.2 L179.5,416.5 L181.8,416.5 L183.3,419.2 L185.7,421.3Z" fill="#f5cccc"/>
<path d="M245.2,433.3 L242.0,432.9 L239.0,433.7 L236.9,428.6 L236.7,426.1 L241.3,427.6 L244.0,426.5 L246.1,431.4Z" fill="#f5cccc"/>
<path d="M159.6,451.6 L157.0,454.1 L153.6,452.2 L153.1,449.0 L156.7,446.6 L158.5,448.2Z" fill="#f5cccc"/>
<path d="M176.6,440.7 L177.4,437.8 L179.8,436.0 L181.2,436.7 L181.2,437.7 L179.5,440.4Z" fill="#f5cccc"/>
<path d="M180.0,458.2 L176.8,457.9 L175.3,456.7 L173.3,453.7 L174.4,452.2 L176.7,450.7 L178.7,452.5 L179.9,454.2Z" fill="#ff9633"/>
<path d="M205.9,438.4 L199.1,440.0 L191.9,433.8 L195.6,432.3 L200.6,432.7Z" fill="#ffbf70"/>
<path d="M224.0,424.2 L218.5,426.8 L216.3,426.6 L214.8,423.0 L213.7,420.0 L216.3,416.2 L219.4,418.9 L221.8,421.5Z" fill="#f5cccc"/>
<path d="M211.2,441.5 L211.4,437.6 L209.3,435.7 L214.1,432.2 L215.6,435.2 L216.8,437.0 L214.8,439.7Z" fill="#f5cccc"/>
<path d="M205.7,468.6 L205.9,464.7 L213.1,457.7 L215.7,454.0 L219.9,454.5 L221.5,459.0 L216.4,464.9 L212.6,466.2Z" fill="#ff9633"/>
<path d="M224.3,441.4 L223.5,439.9 L224.1,436.4 L227.1,435.8 L227.3,437.7 L226.7,440.9Z" fill="#ff9633"/>
<path d="M226.9,463.6 L233.2,459.7 L237.7,460.2 L244.1,460.0 L242.6,464.0 L240.7,465.8 L229.3,465.1Z" fill="#ff9633"/>
<path d="M229.6,430.6 L222.5,425.3 L222.4,410.4 L229.1,410.7 L233.4,424.5Z" fill="#ffbf70"/>
<path d="M204.7,457.1 L202.8,459.2 L201.7,460.8 L199.0,458.7 L198.3,456.6 L200.7,454.6 L204.6,454.1Z" fill="#fc3333"/>
<path d="M175.0,445.3 L175.6,438.1 L179.2,432.3 L182.8,432.2 L179.3,441.4Z" fill="#ffbf70"/>
<path d="M226.2,433.1 L227.6,430.3 L231.1,429.6 L233.9,430.4 L231.1,433.0 L229.4,433.2Z" fill="#ff9633"/>
<path d="M271.9,611.8 L267.2,608.9 L264.9,606.0 L264.8,601.7 L267.8,599.4 L272.2,602.4 L271.9,606.1Z" fill="#ffbf70"/>
<path d="M281.7,617.6 L277.4,614.3 L272.9,606.5 L273.9,598.9 L277.2,602.1 L281.2,611.5Z" fill="#80e000"/>
<path d="M293.7,582.5 L289.0,582.0 L284.6,576.6 L284.3,572.0 L291.6,577.6Z" fill="#2dc20e"/>
<path d="M345.6,625.1 L341.4,622.3 L339.1,617.6 L338.9,614.4 L342.3,611.4 L344.3,617.4 L347.0,624.0Z" fill="#ffbf70"/>
<path d="M387.6,635.2 L382.6,633.6 L383.4,627.1 L385.3,622.3 L389.7,624.6 L392.4,631.8Z" fill="#9c870c"/>
<path d="M461.4,703.2 L455.1,699.9 L451.7,697.5 L448.8,692.5 L449.5,690.7 L455.7,693.7 L458.5,698.0Z" fill="#80e000"/>
<path d="M386.5,622.1 L385.5,621.5 L384.6,619.6 L383.7,618.1 L385.3,617.3 L387.4,617.2 L388.6,619.9 L388.0,621.7Z" fill="#ccff00"/>
<path d="M487.4,665.4 L483.7,665.5 L481.4,661.4 L478.9,657.5 L479.5,655.3 L482.0,656.9 L485.9,661.9Z" fill="#55d104"/>
<path d="M296.2,588.1 L289.9,589.0 L287.7,584.9 L283.5,580.8 L288.3,578.3 L294.1,580.9 L295.8,583.6Z" fill="#ccff00"/>
<path d="M281.4,586.5 L277.3,586.1 L272.1,583.0 L272.2,579.7 L275.3,577.1 L277.9,578.5 L281.7,582.2Z" fill="#ffff00"/>
<path d="M336.2,596.0 L329.3,597.4 L325.8,590.3 L321.0,583.9 L331.7,584.4 L339.1,591.6Z" fill="#55d104"/>
<path d="M312.8,597.3 L310.1,597.4 L307.7,595.5 L306.5,594.2 L305.3,591.2 L308.1,592.4 L311.2,593.1 L312.1,594.5Z" fill="#55d104"/>
<path d="M321.1,620.6 L318.8,621.1 L310.9,612.2 L311.2,609.0 L311.9,605.0 L318.2,609.0 L319.3,614.1Z" fill="#80e000"/>
<path d="M309.2,588.1 L306.6,586.9 L305.8,584.1 L308.0,583.8 L310.3,585.0Z" fill="#55d104"/>
<path d="M279.1,594.4 L274.2,595.5 L270.5,588.3 L271.7,586.2 L278.3,591.3Z" fill="#9c870c"/>
<path d="M412.9,636.3 L410.5,635.7 L407.7,625.5 L411.6,624.8 L414.3,630.4Z" fill="#ffff00"/>
<path d="M369.7,669.0 L364.6,670.3 L362.3,667.9 L363.8,660.6 L368.9,658.5 L373.1,663.1 L373.6,668.4Z" fill="#9c870c"/>
<path d="M422.3,646.0 L416.7,640.5 L413.7,632.5 L413.9,629.7 L418.5,631.2 L424.0,638.4Z" fill="#ffbf70"/>
<path d="M265.1,559.6 L262.8,559.1 L261.3,555.7 L259.7,547.7 L260.5,545.4 L264.9,547.5 L266.0,551.5 L266.0,555.7Z" fill="#55d104"/>
<path d="M368.7,622.3 L365.1,618.2 L360.5,613.8 L361.0,610.7 L363.1,609.9 L369.1,617.6Z" fill="#55d104"/>
<path d="M286.2,564.7 L283.5,566.0 L277.9,561.9 L279.2,558.6 L279.7,557.4 L284.4,559.3 L286.4,562.7Z" fill="#80e000"/>
<path d="M430.5,679.9 L427.5,676.9 L423.9,674.3 L422.5,670.6 L421.6,667.4 L425.6,668.3 L430.9,671.8 L432.3,677.7Z" fill="#55d104"/>
<path d="M321.7,626.5 L316.9,627.8 L312.3,620.3 L308.6,610.2 L311.1,605.5 L313.4,604.7 L319.1,611.6 L320.4,620.0Z" fill="#55d104"/>
<path d="M295.6,588.9 L289.3,588.1 L282.9,579.2 L281.9,575.4 L283.7,571.0 L283.7,567.4 L295.0,576.8 L296.8,583.7Z" fill="#55d104"/>
<path d="M328.4,596.3 L324.4,593.3 L322.1,591.2 L321.6,588.0 L324.1,586.0 L326.3,587.5 L327.7,591.5Z" fill="#ffbf70"/>
<path d="M324.8,604.6 L323.3,606.3 L318.4,604.3 L318.7,601.5 L318.6,597.8 L321.3,599.4 L323.9,601.3 L326.0,604.3Z" fill="#ffff00"/>
<path d="M483.5,674.2 L481.2,674.9 L478.6,671.7 L478.8,670.1 L481.8,670.3 L484.6,672.9Z" fill="#55d104"/>
<path d="M493.9,697.4 L488.2,694.9 L484.8,689.8 L487.5,688.1 L490.3,687.8 L494.4,692.2Z" fill="#55d104"/>
<path d="M342.5,611.2 L336.2,610.9 L332.0,603.3 L337.4,601.9 L344.7,607.7Z" fill="#2dc20e"/>
<path d="M492.0,702.8 L489.1,701.7 L485.5,697.8 L486.1,692.8 L487.4,692.7 L490.1,695.9 L491.2,698.0Z" fill="#80e000"/>
<path d="M489.5,697.1 L485.5,697.5 L481.9,693.7 L479.4,690.0 L477.7,686.8 L484.5,690.9 L488.7,694.1Z" fill="#ffff00"/>
<path d="M302.8,612.8 L301.2,613.1 L300.3,612.4 L298.8,611.4 L298.3,609.8 L301.1,609.3 L301.6,609.8 L303.6,611.2Z" fill="#80e000"/>
<path d="M338.2,582.3 L336.4,582.6 L335.4,579.5 L337.8,578.4 L339.1,578.5 L339.5,581.5Z" fill="#ffff00"/>
<path d="M451.3,679.3 L448.4,677.8 L444.6,673.1 L443.4,668.5 L447.3,669.9 L452.7,677.3Z" fill="#9c870c"/>
<path d="M331.1,653.2 L329.8,655.1 L327.0,653.1 L326.3,650.5 L328.6,649.2 L329.9,648.2 L330.9,650.0 L331.6,652.4Z" fill="#ffff00"/>
<path d="M378.0,613.4 L375.8,612.7 L373.8,605.8 L376.8,606.4 L379.4,612.1Z" fill="#ffff00"/>
<path d="M313.4,607.2 L311.8,606.4 L311.0,602.1 L314.2,602.1 L315.9,606.0Z" fill="#9c870c"/>
<path d="M477.2,688.9 L473.3,692.7 L464.2,679.8 L459.1,672.4 L463.6,672.2 L464.5,666.4 L472.7,673.7 L477.4,686.3Z" fill="#55d104"/>
<path d="M362.2,648.5 L357.4,649.0 L356.3,645.0 L357.2,642.5 L361.3,642.1 L362.1,644.5Z" fill="#80e000"/>
<path d="M324.5,606.8 L318.3,605.1 L306.9,594.3 L305.4,590.5 L308.5,586.3 L315.1,591.9 L321.2,598.6Z" fill="#ffbf70"/>
<path d="M334.9,665.5 L333.6,667.5 L328.7,666.2 L322.1,656.9 L319.0,651.0 L325.8,654.0 L329.2,656.5 L335.5,664.3Z" fill="#55d104"/>
<path d="M335.0,646.7 L328.2,643.3 L324.1,633.8 L331.7,635.1 L337.7,642.0Z" fill="#ffff00"/>
<path d="M300.8,584.3 L298.6,583.9 L296.1,581.1 L294.4,576.7 L298.1,576.2 L301.7,578.8 L302.9,582.9Z" fill="#ccff00"/>
<path d="M327.8,660.6 L320.2,652.3 L319.4,644.6 L325.6,641.6 L328.3,652.5Z" fill="#2dc20e"/>
<path d="M313.4,610.4 L310.0,608.1 L310.6,602.4 L313.2,604.5 L315.7,609.3Z" fill="#2dc20e"/>
<path d="M401.3,649.3 L396.7,647.0 L392.9,639.9 L396.1,636.8 L401.2,643.7Z" fill="#80e000"/>
<path d="M397.1,628.4 L394.1,627.1 L389.2,622.1 L387.9,615.8 L385.9,610.6 L392.7,617.0 L396.3,621.8Z" fill="#ffff00"/>
<path d="M483.0,680.3 L479.6,679.8 L476.4,673.2 L477.8,669.7 L481.2,672.2 L484.1,677.5Z" fill="#2dc20e"/>
<path d="M316.2,650.9 L312.9,649.2 L309.3,641.9 L311.7,641.7 L315.3,646.0Z" fill="#80e000"/>
<path d="M427.2,687.6 L424.6,687.2 L419.4,681.0 L418.3,673.1 L421.8,671.7 L428.2,676.7 L428.9,683.9Z" fill="#ffff00"/>
<path d="M459.5,666.9 L453.6,663.8 L449.1,649.5 L454.3,649.3 L458.9,659.7Z" fill="#9c870c"/>
<path d="M371.1,615.1 L367.3,614.6 L365.4,611.2 L368.5,609.6 L372.4,612.6Z" fill="#2dc20e"/>
<path d="M495.4,671.6 L490.4,669.3 L488.6,665.8 L489.9,663.1 L495.0,662.4 L496.1,665.9Z" fill="#80e000"/>
<path d="M430.3,679.2 L428.0,679.4 L428.4,676.8 L428.7,675.7 L430.3,674.2 L432.4,676.6 L431.4,678.0Z" fill="#ffff00"/>
<path d="M313.2,582.6 L310.4,582.2 L310.1,577.6 L311.2,575.8 L313.8,577.4 L314.9,579.9Z" fill="#ffbf70"/>
<path d="M355.3,647.1 L351.5,648.9 L344.7,642.7 L343.5,636.4 L348.3,636.6 L359.0,645.9Z" fill="#55d104"/>
<path d="M320.6,584.9 L319.3,586.4 L315.7,585.2 L314.6,581.4 L316.0,578.9 L317.9,578.8 L321.0,581.1 L320.8,582.8Z" fill="#ffff00"/>
<path d="M415.6,688.8 L411.4,685.9 L410.3,681.3 L409.4,677.2 L411.3,675.0 L415.0,676.9 L417.0,680.8 L417.0,683.6Z" fill="#2dc20e"/>
<path d="M273.5,563.2 L268.3,559.2 L267.9,552.6 L273.6,553.4 L276.8,558.3Z" fill="#55d104"/>
<path d="M371.6,653.4 L369.4,653.8 L368.9,650.9 L367.9,647.5 L369.0,646.0 L371.5,646.2 L372.2,649.3 L372.0,651.6Z" fill="#ffbf70"/>
<path d="M324.8,659.2 L320.2,658.0 L318.0,654.6 L321.2,650.9 L323.5,653.6 L325.2,655.6Z" fill="#ffff00"/>
<path d="M467.1,666.6 L461.1,666.7 L456.0,660.7 L453.1,654.4 L460.9,657.6 L465.4,661.3Z" fill="#80e000"/>
<path d="M353.7,600.1 L348.6,596.5 L345.5,588.1 L346.1,582.4 L350.0,588.0 L352.3,593.5Z" fill="#55d104"/>
<path d="M354.0,646.1 L350.6,643.8 L349.9,640.5 L350.8,638.0 L352.5,639.1 L354.3,643.2Z" fill="#ffbf70"/>
<path d="M333.8,663.6 L326.5,659.3 L327.5,651.4 L328.9,644.7 L334.1,651.2 L338.7,656.7Z" fill="#9c870c"/>
<path d="M333.9,603.2 L331.8,604.6 L330.3,599.0 L329.4,594.1 L333.1,593.7 L334.6,596.2 L335.8,603.4Z" fill="#55d104"/>
<path d="M413.7,648.8 L408.8,647.2 L405.1,643.2 L404.4,639.3 L405.7,638.2 L410.3,640.6 L414.5,645.1Z" fill="#ffff00"/>
<path d="M326.1,603.1 L318.7,605.8 L316.0,601.5 L313.7,597.0 L320.2,596.0 L323.9,597.5Z" fill="#55d104"/>
<path d="M283.7,557.9 L280.8,561.8 L276.5,558.3 L274.1,552.3 L271.2,548.3 L277.1,549.4 L280.3,551.8 L284.6,557.6Z" fill="#55d104"/>
<path d="M354.0,594.6 L350.5,593.2 L349.8,590.3 L349.1,587.0 L350.4,584.6 L352.5,588.2 L354.0,590.8Z" fill="#80e000"/>
<path d="M340.1,605.4 L329.9,603.7 L327.1,599.0 L329.9,595.8 L335.1,597.0Z" fill="#80e000"/>
<path d="M448.4,681.9 L445.6,682.4 L442.5,677.8 L443.8,673.6 L446.7,674.3 L452.2,680.2Z" fill="#2dc20e"/>
<path d="M271.4,565.3 L266.8,564.5 L264.9,562.1 L266.5,559.9 L270.2,561.9Z" fill="#ffbf70"/>
<path d="M330.1,651.7 L323.6,649.2 L315.0,637.9 L318.2,636.5 L324.5,636.7 L328.5,646.7Z" fill="#80e000"/>
<path d="M393.1,638.9 L388.2,636.1 L385.2,633.5 L384.5,626.1 L387.8,625.2 L391.9,628.1 L394.4,634.5Z" fill="#55d104"/>
<path d="M364.7,604.9 L359.6,604.0 L355.6,602.2 L354.4,597.9 L357.8,597.7 L363.4,600.3Z" fill="#80e000"/>
<path d="M324.9,642.8 L322.6,644.4 L316.7,639.2 L315.7,636.1 L317.1,633.3 L320.5,633.3 L325.5,636.0Z" fill="#55d104"/>
<path d="M399.2,642.8 L396.5,640.2 L394.0,638.6 L396.6,632.4 L399.8,633.7 L402.2,637.0 L400.9,639.0Z" fill="#80e000"/>
<path d="M313.5,584.6 L311.0,582.9 L308.1,576.0 L309.9,571.6 L313.2,571.7 L316.1,576.8 L314.2,578.6Z" fill="#55d104"/>
<path d="M492.1,678.0 L487.6,677.3 L486.3,672.7 L487.2,669.3 L492.6,675.1Z" fill="#55d104"/>
<path d="M379.1,650.1 L377.9,654.6 L372.7,644.6 L368.8,641.8 L372.2,638.4 L376.1,637.6 L380.8,641.5 L382.9,649.6Z" fill="#ccff00"/>
<path d="M445.4,672.6 L445.2,673.1 L443.4,672.5 L441.1,669.3 L441.9,668.1 L443.4,668.3 L446.0,669.7 L445.9,671.1Z" fill="#2dc20e"/>
<path d="M278.9,577.7 L276.5,580.7 L274.4,573.4 L273.9,566.1 L275.1,563.6 L280.0,567.3 L282.6,575.7Z" fill="#80e000"/>
<path d="M269.1,608.2 L265.3,606.7 L264.1,602.4 L265.1,598.8 L268.8,596.9 L270.7,601.1 L271.6,604.7Z" fill="#ccff00"/>
<path d="M344.1,625.3 L338.5,624.3 L336.1,620.8 L335.7,616.3 L338.3,614.5 L343.2,621.4Z" fill="#2dc20e"/>
<path d="M449.0,684.0 L444.9,679.6 L441.8,673.6 L440.3,666.2 L444.6,666.5 L447.5,668.6 L450.4,680.3Z" fill="#ccff00"/>
<path d="M485.5,670.4 L480.8,671.8 L478.6,667.5 L480.2,665.3 L482.2,664.8 L485.5,666.5Z" fill="#ffbf70"/>
<path d="M432.5,688.2 L430.5,691.3 L425.3,685.1 L425.8,679.9 L428.7,679.3 L434.6,682.9 L435.4,688.4Z" fill="#ffbf70"/>
<path d="M318.9,649.5 L313.6,645.8 L313.6,638.8 L315.5,635.4 L322.2,638.0 L322.1,644.5Z" fill="#ffff00"/>
<path d="M401.0,655.5 L390.4,651.4 L383.2,642.3 L383.5,632.9 L395.8,645.4Z" fill="#55d104"/>
<path d="M383.5,622.1 L379.5,620.7 L377.0,616.8 L376.0,611.2 L383.4,611.7 L385.9,618.4Z" fill="#55d104"/>
<path d="M315.3,624.9 L309.9,620.6 L305.8,608.7 L301.3,601.0 L306.6,601.0 L307.7,596.7 L311.5,606.3 L315.7,614.6Z" fill="#ffbf70"/>
<path d="M333.1,601.4 L325.6,602.5 L317.8,598.7 L316.6,592.5 L323.0,591.5 L327.8,595.0Z" fill="#55d104"/>
<path d="M294.9,585.8 L290.5,582.8 L287.1,581.0 L287.4,574.2 L291.9,575.1 L297.7,581.9Z" fill="#55d104"/>
<path d="M286.7,600.7 L281.2,600.2 L277.3,594.2 L275.0,585.0 L278.8,584.7 L286.0,588.6 L286.8,593.4Z" fill="#9c870c"/>
<path d="M297.3,610.1 L295.6,610.3 L293.4,607.2 L295.7,606.2 L298.3,607.1Z" fill="#55d104"/>
<path d="M309.8,610.5 L309.0,611.8 L304.7,608.7 L300.6,603.9 L303.2,603.1 L306.5,605.3 L311.4,608.1Z" fill="#2dc20e"/>
<path d="M311.2,635.5 L306.4,636.3 L303.7,633.3 L302.8,629.4 L308.7,630.0 L312.5,630.9Z" fill="#ccff00"/>
<path d="M331.7,614.4 L327.7,613.7 L320.1,609.6 L315.8,602.6 L316.3,600.8 L325.9,602.9 L330.6,608.2Z" fill="#ffff00"/>
<path d="M384.8,640.0 L379.3,641.7 L378.0,635.9 L382.5,633.8 L388.1,636.6Z" fill="#55d104"/>
<path d="M298.2,573.2 L294.4,569.6 L291.0,568.6 L289.2,561.3 L288.4,556.2 L294.9,555.9 L297.2,560.1 L300.7,569.4Z" fill="#ffbf70"/>
<path d="M312.7,634.4 L304.7,630.6 L300.8,623.3 L306.1,624.5 L309.8,626.7Z" fill="#ffbf70"/>
<path d="M446.2,694.6 L443.1,692.2 L439.2,688.0 L440.2,684.3 L444.6,685.2 L445.8,689.1Z" fill="#ffbf70"/>
<path d="M268.4,573.0 L265.0,572.1 L266.1,568.5 L268.7,568.0 L269.2,570.4Z" fill="#ffff00"/>
<path d="M477.7,675.1 L475.8,676.1 L473.5,673.6 L472.8,671.9 L475.0,671.4 L475.9,670.3 L477.5,672.4 L477.5,674.2Z" fill="#ffff00"/>
<path d="M480.7,692.4 L478.7,691.5 L477.3,687.8 L475.9,685.4 L477.4,683.3 L479.2,685.6 L481.3,686.6 L480.8,689.3Z" fill="#ffff00"/>
<path d="M390.4,647.0 L382.5,644.9 L380.2,635.8 L388.1,632.3 L394.1,640.7Z" fill="#ffbf70"/>
<path d="M471.7,695.1 L467.4,694.4 L462.7,684.0 L464.3,680.1 L468.8,683.4 L471.0,689.3Z" fill="#2dc20e"/>
<path d="M277.0,562.7 L273.5,562.7 L273.4,559.8 L274.6,556.1 L278.4,553.5 L280.8,555.6 L280.5,560.5Z" fill="#ffff00"/>
<path d="M299.1,605.2 L296.1,605.4 L292.3,601.0 L293.5,597.7 L298.6,598.7 L301.1,602.5Z" fill="#9c870c"/>
<path d="M294.0,582.2 L290.0,582.7 L285.3,576.0 L284.2,569.5 L286.0,563.7 L292.7,573.5 L296.5,581.9Z" fill="#80e000"/>
<path d="M318.7,658.9 L315.1,655.8 L312.7,652.0 L314.5,646.7 L317.5,649.2 L319.1,654.1Z" fill="#80e000"/>
<path d="M487.9,683.1 L481.7,684.1 L474.7,680.1 L471.0,673.0 L473.1,672.3 L480.6,674.0 L485.4,679.7Z" fill="#ffff00"/>
<path d="M398.1,623.2 L394.6,622.5 L393.5,618.9 L394.8,617.5 L397.0,618.0 L398.9,620.6Z" fill="#80e000"/>
<path d="M479.8,686.5 L476.2,685.2 L473.0,681.8 L473.3,676.9 L476.1,676.7 L480.1,677.0 L479.3,681.4Z" fill="#80e000"/>
<path d="M347.4,592.5 L345.6,593.1 L344.7,592.2 L342.0,588.8 L343.1,586.9 L346.0,586.3 L347.4,588.3 L348.1,591.0Z" fill="#80e000"/>
<path d="M317.7,651.0 L311.7,645.6 L310.3,636.4 L314.3,634.3 L319.4,645.5Z" fill="#80e000"/>
<path d="M317.6,585.3 L315.3,583.8 L313.8,578.7 L317.3,578.7 L320.9,584.2Z" fill="#55d104"/>
<path d="M453.1,686.1 L445.2,682.2 L439.1,662.8 L444.0,660.7 L447.5,665.1 L452.2,673.7Z" fill="#55d104"/>
<path d="M468.3,665.7 L465.0,666.1 L462.6,662.5 L464.1,658.2 L467.5,656.1 L470.7,659.7 L471.2,662.5Z" fill="#9c870c"/>
<path d="M372.5,621.4 L372.7,622.9 L362.5,617.7 L361.3,615.8 L362.3,612.5 L364.7,611.8 L370.1,613.6 L376.5,620.7Z" fill="#80e000"/>
<path d="M405.2,650.9 L401.9,649.5 L399.0,645.0 L396.9,641.5 L398.6,639.9 L400.6,637.9 L404.5,641.7 L404.9,646.7Z" fill="#ffff00"/>
<path d="M467.6,703.1 L463.7,702.8 L460.8,697.9 L461.0,694.4 L468.6,699.6Z" fill="#9c870c"/>
<path d="M361.7,618.3 L355.5,615.9 L356.4,611.8 L356.4,607.7 L361.7,610.4 L363.7,612.9Z" fill="#9c870c"/>
<path d="M332.8,662.2 L330.2,663.5 L328.1,661.0 L328.0,658.6 L328.9,656.3 L331.7,657.2 L333.1,658.9 L334.1,661.6Z" fill="#80e000"/>
<path d="M326.3,581.4 L324.7,583.8 L320.3,581.3 L318.6,578.7 L320.2,577.5 L323.3,575.0 L325.9,576.5 L328.8,579.0Z" fill="#ffbf70"/>
<path d="M305.4,626.8 L302.2,626.4 L299.6,616.1 L301.9,609.7 L305.2,616.0 L307.6,626.2Z" fill="#55d104"/>
<path d="M394.3,616.9 L391.0,616.8 L387.4,615.5 L386.1,610.8 L391.3,609.4 L394.6,613.0Z" fill="#55d104"/>
<path d="M343.8,609.5 L341.5,610.9 L341.1,607.9 L342.0,604.5 L343.5,604.6 L344.7,608.5Z" fill="#55d104"/>
<path d="M376.2,658.5 L372.7,657.6 L368.9,654.8 L367.1,651.2 L371.5,650.9 L375.7,654.9Z" fill="#ccff00"/>
<path d="M316.7,645.9 L309.4,644.3 L304.8,640.1 L301.2,633.3 L308.2,634.7 L313.8,638.2Z" fill="#55d104"/>
<path d="M419.3,681.3 L417.2,680.9 L414.8,675.3 L418.0,673.5 L419.6,675.2 L421.7,678.8Z" fill="#80e000"/>
<path d="M326.8,582.8 L326.0,583.8 L323.7,582.5 L324.6,580.4 L325.9,578.9 L326.6,579.1 L328.7,580.5 L327.8,581.4Z" fill="#80e000"/>
<path d="M303.5,575.2 L298.1,570.6 L291.5,564.1 L296.1,562.6 L303.3,567.9Z" fill="#55d104"/>
<path d="M283.9,562.1 L275.7,557.2 L276.0,548.6 L279.5,544.2 L284.2,554.9Z" fill="#55d104"/>
<path d="M289.7,622.6 L280.4,621.3 L280.7,617.1 L283.2,611.7 L288.9,617.9Z" fill="#ffbf70"/>
<path d="M470.4,694.3 L466.8,691.3 L462.0,686.6 L457.9,677.6 L462.1,678.0 L465.5,679.6 L469.3,684.3 L470.5,690.6Z" fill="#80e000"/>
<path d="M352.9,617.1 L349.8,617.7 L346.0,613.5 L348.2,611.6 L352.3,610.9 L353.2,614.1Z" fill="#ffff00"/>
<path d="M305.2,628.1 L297.6,623.1 L293.0,617.5 L297.2,616.7 L301.5,619.1Z" fill="#80e000"/>
<path d="M315.7,581.6 L311.1,579.8 L305.9,572.2 L307.1,569.3 L312.1,570.6 L316.1,576.1Z" fill="#55d104"/>
<path d="M369.5,677.8 L366.4,671.6 L363.6,667.1 L362.7,660.9 L365.8,654.9 L369.0,659.4 L370.2,667.3 L371.6,675.1Z" fill="#9c870c"/>
<path d="M483.0,689.6 L481.6,690.6 L478.5,689.7 L478.5,686.5 L481.2,686.5 L484.0,688.4Z" fill="#80e000"/>
<path d="M277.8,586.4 L274.2,584.8 L271.2,582.7 L269.5,580.9 L269.1,576.4 L272.8,577.4 L275.1,581.0 L278.1,585.3Z" fill="#ffbf70"/>
<path d="M339.7,611.2 L334.4,612.2 L328.5,610.1 L329.2,605.1 L332.2,603.2 L335.1,600.9 L340.4,607.0Z" fill="#ffbf70"/>
<path d="M310.1,610.7 L306.0,607.5 L305.1,603.7 L306.4,596.7 L311.0,600.9 L311.3,606.9Z" fill="#80e000"/>
<path d="M309.3,601.7 L306.0,599.9 L303.1,594.7 L304.0,593.5 L309.3,597.9Z" fill="#9c870c"/>
<path d="M352.1,595.3 L346.2,594.5 L342.8,589.0 L343.1,586.4 L347.9,587.7 L349.8,590.5Z" fill="#55d104"/>
<path d="M337.7,598.0 L335.4,594.6 L333.2,588.5 L335.0,587.7 L338.4,589.2 L339.7,592.0Z" fill="#ffff00"/>
<path d="M494.6,664.6 L493.2,667.1 L487.8,660.0 L486.5,657.2 L490.1,657.9 L493.3,661.2Z" fill="#2dc20e"/>
<path d="M358.1,645.8 L355.1,645.5 L352.3,643.2 L352.7,639.0 L353.5,637.5 L355.8,638.4 L357.2,642.3Z" fill="#ccff00"/>
<path d="M516.8,676.6 L514.3,675.0 L514.0,672.5 L513.4,669.6 L514.8,667.5 L517.7,671.1 L518.5,672.2 L518.8,676.6Z" fill="#ffbf70"/>
<path d="M591.3,671.9 L587.0,670.0 L584.2,665.5 L586.0,661.0 L586.9,658.7 L591.0,661.8 L593.4,664.6 L592.1,666.9Z" fill="#ddd800"/>
<path d="M548.1,663.9 L544.7,662.4 L546.4,659.4 L547.2,657.8 L549.6,656.0 L551.1,660.0 L550.3,664.1Z" fill="#ddd800"/>
<path d="M602.1,687.6 L596.2,680.1 L592.1,667.5 L596.2,667.5 L601.9,675.6Z" fill="#ffff00"/>
<path d="M508.5,693.6 L504.8,691.3 L505.5,688.9 L509.7,686.1 L511.5,686.8 L512.8,691.2Z" fill="#ffff00"/>
<path d="M562.4,699.1 L558.5,686.4 L561.9,679.6 L567.8,666.7 L569.5,678.7 L565.3,693.6Z" fill="#ffbf70"/>
<path d="M524.2,651.7 L522.2,649.2 L523.4,640.6 L527.5,635.0 L532.1,639.0 L529.2,649.8Z" fill="#ddd800"/>
<path d="M529.3,668.8 L524.6,667.8 L525.1,656.6 L530.2,653.1 L532.9,663.0Z" fill="#ddd800"/>
<path d="M557.5,660.7 L556.1,652.6 L557.1,640.1 L561.8,629.6 L566.2,632.5 L564.3,643.9 L563.0,650.4Z" fill="#ffbf70"/>
<path d="M516.7,693.0 L515.7,690.9 L516.8,687.6 L518.6,685.8 L518.3,690.7Z" fill="#ffff00"/>
<path d="M610.5,669.1 L607.9,667.8 L608.8,664.7 L610.1,661.2 L613.1,663.7 L612.3,667.0Z" fill="#ddd800"/>
<path d="M560.3,688.7 L558.3,687.0 L556.4,681.4 L557.2,676.7 L560.4,681.9 L561.3,686.0Z" fill="#ddd800"/>
<path d="M546.6,653.3 L545.3,653.3 L544.1,646.6 L548.4,639.7 L550.0,636.8 L552.2,643.4 L550.3,653.0Z" fill="#ffbf70"/>
<path d="M509.9,662.4 L509.4,657.8 L511.2,654.6 L512.7,651.9 L515.1,656.4 L514.3,658.5Z" fill="#ddd800"/>
<path d="M514.7,663.5 L512.2,665.3 L510.0,654.5 L509.9,643.7 L512.7,647.9 L516.2,654.8 L517.4,660.0Z" fill="#ffbf70"/>
<path d="M554.8,664.6 L552.5,663.0 L547.0,648.6 L548.4,641.9 L554.7,644.2 L556.3,650.6 L556.8,658.1Z" fill="#ddd800"/>
<path d="M587.6,687.8 L584.1,685.7 L584.5,678.5 L588.3,676.4 L591.8,676.1 L592.4,681.5 L591.1,686.1Z" fill="#ffff00"/>
<path d="M596.6,671.0 L594.4,665.6 L590.8,662.7 L592.8,655.1 L595.7,653.0 L598.2,658.7 L598.4,664.2Z" fill="#2dc20e"/>
<path d="M524.1,660.8 L518.7,655.5 L518.9,648.8 L520.6,644.4 L527.0,657.3Z" fill="#2dc20e"/>
<path d="M609.2,676.8 L606.4,674.9 L607.4,672.1 L610.0,670.9 L610.0,673.9Z" fill="#ffff00"/>
<path d="M519.0,688.8 L516.9,685.9 L517.3,677.9 L520.8,678.0 L521.2,687.0Z" fill="#ddd800"/>
<path d="M497.3,684.6 L495.1,682.9 L495.0,681.3 L494.4,678.5 L497.1,677.2 L498.0,679.3 L498.6,682.6Z" fill="#2dc20e"/>
<path d="M613.0,690.6 L608.9,683.0 L608.1,671.4 L610.9,670.5 L614.4,680.6Z" fill="#2dc20e"/>
<path d="M586.1,670.3 L583.3,667.4 L580.3,663.3 L579.7,658.2 L581.1,654.9 L585.5,659.4 L588.5,666.3Z" fill="#ddd800"/>
<path d="M553.5,666.7 L548.2,665.4 L550.0,655.8 L551.4,650.8 L553.2,648.1 L556.9,656.4 L558.3,663.2Z" fill="#ffbf70"/>
<path d="M591.2,689.4 L586.9,684.0 L587.6,679.2 L590.3,679.3 L593.5,684.8Z" fill="#ffff00"/>
<path d="M528.6,650.3 L525.7,648.0 L525.4,645.3 L527.2,641.9 L530.3,644.1 L531.7,647.5Z" fill="#ffff00"/>
<path d="M608.3,685.2 L605.3,682.3 L605.1,675.7 L608.0,670.9 L611.0,675.0 L611.5,680.9Z" fill="#ffbf70"/>
<path d="M584.9,688.8 L583.5,688.2 L582.6,683.6 L585.4,683.2 L585.9,687.0Z" fill="#2dc20e"/>
<path d="M594.8,687.7 L594.7,678.3 L597.5,669.0 L604.4,670.7 L600.3,684.3Z" fill="#2dc20e"/>
<path d="M564.3,671.0 L560.0,670.6 L555.2,652.4 L554.2,641.8 L559.1,646.2 L561.6,650.7 L567.5,667.4Z" fill="#2dc20e"/>
<path d="M605.1,684.9 L601.4,681.9 L598.3,676.1 L599.8,672.4 L602.8,675.4 L606.0,679.5Z" fill="#2dc20e"/>
<path d="M596.7,675.0 L595.3,672.4 L593.4,667.2 L592.5,662.7 L594.8,660.7 L596.3,662.8 L599.2,665.5 L599.0,671.2Z" fill="#ddd800"/>
<path d="M551.3,648.6 L549.7,647.8 L550.6,641.7 L551.9,638.9 L553.5,636.2 L554.9,639.1 L553.8,643.0 L552.7,646.8Z" fill="#2dc20e"/>
<path d="M520.3,653.3 L517.7,653.5 L518.6,652.2 L518.1,648.4 L520.2,647.7 L521.6,648.6 L521.7,651.9 L521.6,653.2Z" fill="#ffbf70"/>
<path d="M573.6,663.4 L570.1,658.6 L569.3,654.9 L570.9,651.0 L574.6,647.2 L575.8,656.4 L576.9,660.1Z" fill="#2dc20e"/>
<path d="M554.1,645.6 L550.7,642.3 L552.7,639.3 L553.6,636.4 L554.9,638.1 L556.6,640.0 L555.9,644.3Z" fill="#ffff00"/>
<path d="M594.2,648.6 L591.1,643.8 L588.7,636.9 L592.2,635.3 L594.3,635.5 L596.3,641.8Z" fill="#2dc20e"/>
<path d="M589.2,677.0 L583.1,669.6 L579.4,661.2 L578.5,648.9 L582.9,643.3 L588.8,653.6 L590.4,672.7Z" fill="#ddd800"/>
<path d="M533.7,658.6 L529.1,658.2 L528.3,644.1 L531.9,636.3 L534.4,635.5 L538.0,636.9 L537.4,646.7 L537.4,656.8Z" fill="#ddd800"/>
<path d="M518.4,659.0 L515.8,656.7 L515.8,653.0 L516.5,651.3 L521.1,651.8 L521.9,653.0 L520.3,657.2Z" fill="#ddd800"/>
<path d="M556.7,692.4 L554.9,693.4 L555.6,681.7 L555.1,674.3 L560.2,668.0 L561.4,678.3 L561.2,681.4 L561.8,691.5Z" fill="#ffff00"/>
<path d="M494.8,693.7 L492.5,687.0 L491.5,675.5 L494.8,666.4 L499.3,676.6 L500.7,688.1Z" fill="#ffff00"/>
<path d="M608.1,653.4 L607.6,653.7 L604.9,648.8 L605.7,642.9 L607.9,638.4 L608.9,638.7 L610.4,647.9 L611.2,651.9Z" fill="#ffff00"/>
<path d="M571.8,684.0 L567.3,681.8 L563.6,671.7 L567.5,663.2 L571.6,670.2 L572.5,676.4Z" fill="#ffbf70"/>
<path d="M539.7,667.5 L536.7,666.0 L537.6,662.2 L540.4,657.0 L542.9,659.5 L541.9,665.6Z" fill="#ffff00"/>
<path d="M501.1,650.7 L499.5,652.5 L493.7,642.5 L492.7,633.7 L494.7,633.8 L498.6,634.1 L500.3,639.8 L504.1,649.3Z" fill="#ffff00"/>
<path d="M561.5,675.3 L559.7,672.3 L562.8,666.0 L565.1,666.9 L564.8,672.5Z" fill="#ffff00"/>
<path d="M571.9,694.6 L570.0,689.3 L570.4,679.6 L572.7,675.7 L576.3,680.9 L575.1,689.7Z" fill="#ffbf70"/>
<path d="M528.5,664.5 L526.8,661.9 L528.6,659.5 L530.2,656.4 L532.6,658.6 L531.1,662.9Z" fill="#ffff00"/>
<path d="M281.8,553.5 L279.7,552.7 L274.7,547.3 L274.5,543.4 L276.2,543.4 L281.9,546.7 L282.0,549.2Z" fill="#ffffff"/>
<path d="M271.6,521.1 L269.7,520.6 L267.0,516.0 L268.5,514.3 L271.5,517.9Z" fill="#f5cccc"/>
<path d="M266.3,512.2 L261.5,509.5 L259.1,496.5 L262.5,494.0 L265.4,498.5 L267.3,506.7Z" fill="#f79999"/>
<path d="M264.6,517.6 L263.2,520.3 L258.0,513.5 L253.8,508.5 L258.2,509.0 L262.4,513.0 L266.3,517.6Z" fill="#f5cccc"/>
<path d="M269.5,504.9 L267.4,503.6 L265.0,500.2 L267.0,499.4 L269.6,501.6Z" fill="#ffffff"/>
<path d="M277.9,542.1 L276.3,539.6 L274.2,537.5 L273.9,535.8 L273.7,533.0 L275.9,534.5 L277.6,535.1 L279.0,539.0Z" fill="#f79999"/>
<path d="M283.6,517.8 L279.9,516.7 L275.7,515.8 L270.3,509.2 L270.7,506.4 L274.6,505.9 L280.0,509.4 L281.1,513.8Z" fill="#f79999"/>
<path d="M277.4,494.3 L272.9,492.6 L269.1,487.6 L269.3,484.5 L273.8,486.7 L276.6,490.2Z" fill="#f5cccc"/>
<path d="M270.1,526.3 L268.2,526.2 L265.5,524.1 L266.7,520.6 L268.5,521.0 L270.2,520.5 L273.0,522.0 L271.2,525.1Z" fill="#f5cccc"/>
<path d="M294.0,569.1 L291.9,567.3 L290.5,567.0 L289.9,563.1 L291.5,561.2 L293.0,562.5 L294.9,565.5 L294.3,566.8Z" fill="#ff0000"/>
<path d="M269.6,508.9 L264.2,506.9 L258.2,500.8 L260.4,498.8 L266.7,504.0Z" fill="#ff0000"/>
<path d="M260.4,469.6 L257.0,468.7 L252.8,467.7 L248.9,464.2 L250.3,461.7 L251.1,458.8 L256.0,462.6 L260.1,468.2Z" fill="#f5cccc"/>
<path d="M274.8,530.0 L274.0,528.6 L272.8,526.6 L273.5,526.1 L275.4,526.4 L277.0,527.0 L276.3,528.4Z" fill="#ffffff"/>
<path d="M290.7,566.1 L287.6,565.1 L284.4,563.0 L284.5,559.2 L287.7,558.8 L291.4,563.4Z" fill="#f5cccc"/>
<path d="M258.5,480.7 L254.0,480.2 L248.4,473.0 L249.4,468.1 L256.1,473.9Z" fill="#f5cccc"/>
<path d="M276.0,509.1 L273.6,508.4 L270.9,506.9 L272.9,504.7 L275.1,503.9 L276.1,506.5Z" fill="#f5cccc"/>
<path d="M253.0,504.7 L251.7,504.6 L250.4,502.9 L250.1,501.5 L251.0,499.9 L252.7,500.2 L253.0,502.8Z" fill="#ff0000"/>
<path d="M272.2,489.0 L270.7,489.1 L269.5,487.5 L267.7,483.5 L268.6,483.1 L270.7,484.1 L272.9,485.7 L274.1,488.7Z" fill="#f5cccc"/>
<path d="M262.9,503.0 L259.4,501.4 L253.0,496.6 L253.0,491.4 L257.7,492.2 L263.6,498.6Z" fill="#ffffff"/>
<path d="M262.8,490.3 L260.9,489.8 L258.6,487.6 L260.3,486.3 L263.1,484.7 L264.4,486.3 L263.8,489.3Z" fill="#ff0000"/>
<path d="M282.1,537.5 L279.8,535.2 L275.5,529.6 L274.7,526.3 L277.2,523.8 L279.6,527.2 L283.4,534.2Z" fill="#f5cccc"/>
<path d="M300.1,571.6 L298.9,571.0 L296.8,570.3 L297.5,568.7 L298.5,567.9 L300.2,568.5 L300.6,569.4Z" fill="#f79999"/>
<path d="M274.6,491.4 L271.5,492.8 L268.7,488.5 L267.4,485.1 L272.5,483.2 L275.3,486.5Z" fill="#4d4d4d"/>
<path d="M253.5,502.2 L251.3,499.6 L249.6,496.7 L249.9,493.6 L251.5,492.8 L253.7,497.6Z" fill="#ff0000"/>
<path d="M264.8,509.9 L261.0,508.3 L260.8,505.9 L262.1,504.0 L265.6,504.4Z" fill="#ff0000"/>
<path d="M284.3,524.3 L282.1,523.8 L281.9,522.0 L284.1,521.3 L284.5,522.5Z" fill="#ffffff"/>
<path d="M263.6,508.1 L258.7,505.7 L256.0,502.5 L259.2,500.2 L261.5,502.3Z" fill="#f5cccc"/>
<path d="M248.2,481.4 L246.0,480.0 L245.2,474.4 L246.8,472.3 L249.3,472.9 L250.0,478.2Z" fill="#4d4d4d"/>
<path d="M277.2,508.5 L275.5,509.0 L272.6,506.6 L273.0,505.4 L273.9,504.2 L276.0,505.3 L276.9,506.7Z" fill="#f5cccc"/>
<path d="M284.0,513.4 L281.3,512.4 L279.7,508.4 L280.3,505.8 L283.5,509.8Z" fill="#ff0000"/>
<path d="M275.3,529.7 L274.2,528.4 L272.9,523.6 L275.0,522.6 L276.7,522.8 L277.5,527.3Z" fill="#f5cccc"/>
<path d="M277.2,539.7 L272.4,538.8 L269.0,533.4 L271.9,532.5 L275.4,535.0Z" fill="#f79999"/>
<path d="M286.4,559.6 L282.2,556.7 L279.6,555.5 L278.0,550.9 L277.3,549.0 L281.5,551.2 L283.2,551.6 L284.7,554.9Z" fill="#f5cccc"/>
<path d="M261.5,490.4 L258.7,485.1 L256.5,478.0 L261.3,477.0 L262.4,483.4Z" fill="#f5cccc"/>
<path d="M257.2,480.4 L254.3,480.2 L251.8,476.9 L248.2,472.5 L251.5,471.8 L254.0,474.1 L258.8,479.6Z" fill="#f5cccc"/>
<path d="M254.7,473.5 L253.6,475.4 L250.9,471.6 L250.3,468.9 L251.9,465.2 L255.4,466.7 L257.4,469.2 L257.8,471.5Z" fill="#f5cccc"/>
<path d="M260.4,498.8 L258.2,496.1 L257.7,492.0 L258.7,491.4 L261.9,492.0 L261.7,495.9Z" fill="#f5cccc"/>
<path d="M234.9,467.0 L232.2,466.2 L229.7,464.2 L231.0,461.6 L233.3,459.3 L236.0,461.3 L236.9,465.1Z" fill="#f79999"/>
<path d="M264.2,501.7 L260.8,501.2 L258.4,499.0 L261.3,497.8 L263.9,498.7Z" fill="#f5cccc"/>
<path d="M289.7,553.7 L288.8,554.1 L286.8,552.9 L284.1,549.6 L284.7,549.1 L287.0,549.7 L288.3,549.4 L291.1,552.6Z" fill="#f5cccc"/>
<path d="M288.0,547.6 L284.7,548.3 L278.2,544.6 L274.9,538.8 L273.4,534.6 L278.1,536.3 L283.7,537.5 L288.3,543.9Z" fill="#ffffff"/>
<path d="M302.0,568.4 L299.0,568.6 L296.0,567.4 L296.0,563.9 L297.9,561.6 L301.3,564.5 L304.5,566.0Z" fill="#4d4d4d"/>
<path d="M267.4,480.6 L265.5,479.2 L264.0,474.9 L264.4,471.1 L266.2,471.5 L268.8,476.5Z" fill="#4d4d4d"/>
<path d="M257.6,496.3 L254.6,494.5 L249.3,492.3 L247.6,490.8 L249.3,487.8 L249.6,485.0 L254.0,489.0 L257.3,492.9Z" fill="#ff0000"/>
<path d="M286.2,561.6 L284.1,561.9 L283.1,560.3 L283.5,558.4 L284.9,557.3 L286.3,559.6Z" fill="#ffffff"/>
<path d="M303.6,578.4 L298.6,575.0 L299.7,569.6 L299.6,562.8 L302.3,560.3 L304.9,565.2 L306.0,577.3Z" fill="#ffffff"/>
<path d="M273.5,509.0 L271.4,510.2 L268.9,507.6 L268.4,504.7 L268.0,502.2 L272.4,503.5 L275.3,506.9Z" fill="#4d4d4d"/>
<path d="M291.8,560.6 L287.8,560.7 L287.5,557.3 L289.2,556.4 L291.1,557.6Z" fill="#f79999"/>
<path d="M234.7,474.8 L231.2,469.8 L229.8,464.9 L229.4,459.0 L231.1,458.3 L234.7,460.6 L238.2,473.3Z" fill="#f79999"/>
<path d="M269.9,495.1 L266.7,493.1 L264.7,484.5 L267.7,483.5 L272.6,491.7Z" fill="#f5cccc"/>
<path d="M262.0,266.0 L278.0,259.0 L298.0,260.0 L323.0,266.0 L323.0,300.0 L310.0,289.0 L298.0,278.0 L288.0,268.0 L272.0,268.0 L258.0,282.0 L254.0,276.0Z" fill="#f5cccc"/>
<path d="M244.0,286.0 L256.0,280.0 L258.0,300.0 L266.0,314.0 L256.0,318.0 L246.0,308.0Z" fill="#f79999"/>
<path d="M255.0,283.0 L270.0,268.0 L285.0,266.0 L296.0,276.0 L310.0,288.0 L323.0,298.0 L323.0,313.0 L300.0,314.0 L283.0,313.0 L268.0,312.0 L256.0,300.0Z" fill="#ffab57"/>
<path d="M243.3,297.0 L251.3,293.0 L262.0,299.7 L270.0,310.3 L260.7,317.0 L251.3,310.3 L244.7,305.0Z" fill="#ffab57"/>
<path d="M268.0,297.0 L276.0,294.0 L283.0,300.0 L282.0,310.0 L272.0,309.0Z" fill="#ffd78f"/>
<path d="M268.0,366.0 L300.0,362.0 L324.0,366.0 L324.0,420.0 L262.0,420.0 L258.0,392.0Z" fill="rgba(247,165,165,0.5)"/>
<path d="M326.0,396.0 L345.0,404.0 L385.0,410.0 L400.0,400.0 L420.0,392.0 L452.0,384.0 L452.0,420.0 L326.0,420.0Z" fill="rgba(245,204,204,0.55)"/>
</g></g>
<path d="M911.0,262.0 L920.0,257.0 L928.0,256.0 L926.0,260.0 L916.0,266.0Z" fill="#4d4d4d"/>
<path d="M877.0,285.0 L884.0,283.0 L886.0,288.0 L880.0,290.0Z" fill="#fc3333"/>
<path d="M272.0,660.0 L275.0,658.0 L277.0,661.0 L274.0,663.0Z" fill="#80e000"/>
<path d="M292.0,656.0 L297.0,654.0 L299.0,659.0 L296.0,662.0Z" fill="#80e000"/>
<path d="M292.0,669.0 L295.0,667.0 L298.0,674.0 L296.0,677.0Z" fill="#80e000"/>
<path d="M253.0,630.0 L272.0,627.0 L278.0,631.0 L262.0,635.0Z" fill="#ffd78f"/>
<path d="M1066.0,879.0 L1080.0,875.0 L1094.0,864.0 L1096.0,866.0 L1082.0,878.0 L1067.0,882.0Z" fill="#a8f7e0"/>
<path d="M1043.0,880.0 L1046.0,879.0 L1047.0,882.0 L1044.0,883.0Z" fill="#a8f7e0"/>
<path d="M1022.0,313.0 L1032.0,312.0 L1033.0,318.0 L1024.0,318.0Z" fill="#f76666"/>
<g fill="none" stroke="#000" stroke-width="3.6" stroke-linejoin="round" stroke-linecap="round">
<path d="M204.2,235.4 L786.5,235.4 L786.5,225.4 L793.5,226.9 L797.1,242.0 L815.0,247.3 L825.6,245.4 L833.0,245.4 L844.6,255.2 L853.0,253.9 L865.7,259.9 L877.3,256.5 L893.1,259.1 L905.7,261.8 L908.9,262.3 L897.3,268.4 L880.4,276.3 L865.7,285.5 L850.9,294.8 L869.9,291.6 L877.3,289.5 L879.4,296.1 L886.8,299.5 L899.4,292.9 L912.1,288.7 L924.7,282.9 L933.2,277.1 L942.7,276.3 L939.5,281.6 L930.0,288.2 L927.9,293.4 L939.5,290.8 L950.1,300.8 L960.6,302.7 L969.0,301.4 L977.5,296.9 L990.1,296.6 L1000.7,294.2 L1001.8,301.4 L1009.1,301.9 L1014.4,301.4 L1019.7,308.0 L1022.9,313.2 L1025.0,315.1 L1015.5,315.9 L1006.0,318.5 L1000.7,313.2 L988.0,313.2 L975.4,315.9 L966.9,318.5 L963.8,323.8 L957.4,321.2 L951.1,329.1 L945.8,338.3 L942.7,342.3 L937.4,351.5 L939.5,352.8 L947.9,344.9 L956.4,334.4 L954.3,342.3 L947.9,355.5 L944.8,367.3 L942.7,377.9 L939.5,388.5 L940.6,400.3 L941.6,412.2 L945.8,424.1 L949.0,429.4 L954.3,430.1 L960.6,427.2 L969.0,417.5 L974.3,406.9 L975.4,393.7 L969.0,377.9 L970.1,367.3 L974.3,354.1 L977.5,343.6 L984.9,337.0 L989.1,344.9 L992.3,334.4 L998.6,331.7 L1000.7,324.6 L1006.0,320.4 L1017.6,324.3 L1032.3,331.7 L1036.6,339.6 L1035.5,354.1 L1031.3,364.7 L1023.9,370.0 L1023.9,376.6 L1032.3,373.9 L1038.7,367.3 L1045.0,366.0 L1052.4,377.9 L1054.5,393.7 L1053.4,403.0 L1046.1,405.6 L1045.0,410.9 L1039.7,414.8 L1038.7,421.4 L1033.4,427.2 L1042.9,433.3 L1049.2,434.6 L1064.0,433.3 L1070.3,433.3 L1080.9,426.7 L1095.2,420.6 L1111.3,413.0 L1125.2,404.3 L1129.4,397.7 L1126.2,387.1 L1148.4,384.0 L1158.9,387.1 L1173.7,385.8 L1184.3,380.5 L1186.4,370.0 L1183.2,364.7 L1194.8,356.8 L1205.4,344.9 L1217.6,341.0 L1285.5,340.7 L1287.7,334.4 L1298.2,333.0 L1300.3,329.1 L1308.8,321.2 L1311.9,309.3 L1317.2,296.1 L1333.4,276.0 L1340.4,283.4 L1353.1,278.9 L1363.6,286.3 L1364.0,315.9 L1371.0,325.1 L1371.0,333.6 L1377.3,337.0 L1381.1,345.7 L1367.8,354.1 L1355.2,359.4 L1342.5,356.8 L1338.3,364.7 L1321.4,373.9 L1311.9,376.6 L1304.5,391.1 L1300.0,399.0 L1302.0,404.0 L1296.0,408.0 L1295.0,413.0 L1302.0,416.0 L1305.0,423.0 L1304.0,428.0 L1300.0,429.0 L1306.0,431.0 L1313.0,430.0 L1318.0,426.0 L1317.0,420.0 L1311.0,418.0 L1317.0,420.0 L1319.0,426.0 L1315.0,432.0 L1305.0,434.5 L1298.0,436.0 L1292.0,430.0 L1290.0,429.0 L1286.0,432.0 L1280.0,435.0 L1270.0,437.5 L1254.0,438.5 L1240.0,444.0 L1237.0,447.0 L1250.0,444.0 L1262.0,441.5 L1270.0,440.0 L1278.0,443.5 L1270.0,447.0 L1260.0,452.0 L1248.0,457.0 L1234.0,459.0 L1227.0,456.0 L1226.0,461.0 L1233.0,460.0 L1233.5,468.0 L1231.0,476.0 L1228.0,483.0 L1224.0,490.0 L1218.0,497.0 L1214.0,501.0 L1210.0,499.0 L1206.0,494.0 L1201.0,488.0 L1200.0,481.0 L1197.0,481.0 L1199.0,490.0 L1202.0,498.0 L1206.0,505.0 L1210.0,512.0 L1211.0,520.0 L1209.0,530.0 L1205.0,540.0 L1200.0,546.0 L1196.0,552.0 L1192.0,556.0 L1189.0,548.0 L1190.0,540.0 L1193.0,530.0 L1194.0,520.0 L1192.0,512.0 L1189.0,505.0 L1187.0,496.0 L1186.0,486.0 L1190.0,482.0 L1184.0,484.0 L1178.0,490.0 L1176.0,494.0 L1179.0,500.0 L1176.0,510.0 L1170.0,515.0 L1168.0,520.0 L1172.0,528.0 L1174.0,536.0 L1172.0,540.0 L1170.0,545.0 L1176.0,550.0 L1180.0,555.0 L1186.0,558.0 L1190.6,556.0 L1193.5,564.0 L1196.0,570.0 L1198.0,577.0 L1200.0,583.0 L1193.0,592.0 L1187.0,596.0 L1183.0,603.0 L1180.0,612.0 L1172.0,614.0 L1164.0,616.0 L1156.0,621.0 L1152.0,626.0 L1150.0,632.0 L1138.0,633.0 L1129.4,639.2 L1123.1,652.4 L1108.3,664.2 L1096.7,674.8 L1087.2,682.7 L1080.9,697.2 L1075.6,717.8 L1076.7,727.6 L1078.8,739.4 L1085.1,757.9 L1094.6,777.7 L1098.8,800.1 L1105.6,823.9 L1103.7,848.4 L1097.8,863.5 L1083.0,865.6 L1077.7,847.6 L1068.2,838.4 L1059.8,823.9 L1052.4,808.1 L1048.2,797.5 L1047.1,786.9 L1050.7,766.0 L1046.7,764.7 L1041.3,756.7 L1036.0,750.0 L1030.7,743.3 L1025.3,735.3 L1020.0,732.7 L1014.7,735.3 L1006.7,740.7 L1000.0,742.0 L993.3,745.3 L990.7,743.3 L988.0,734.0 L984.0,728.7 L977.3,724.7 L969.3,722.7 L960.0,723.3 L952.0,724.7 L949.0,718.0 L947.0,722.0 L945.0,726.7 L940.0,726.0 L938.0,716.7 L935.5,716.7 L935.0,726.7 L927.0,726.0 L920.0,725.0 L913.0,727.0 L908.0,726.0 L904.0,728.7 L900.0,730.0 L896.0,727.0 L889.0,727.0 L887.0,731.0 L891.0,734.0 L897.0,732.7 L900.0,736.7 L905.0,735.0 L908.0,732.7 L913.0,734.0 L912.0,740.7 L907.0,747.0 L903.0,750.0 L907.0,757.0 L908.0,763.0 L916.0,759.0 L913.0,757.0 L907.0,751.0 L903.0,748.7 L899.0,752.7 L893.0,750.0 L889.0,758.0 L884.0,755.0 L877.0,760.7 L872.0,755.0 L865.0,748.7 L861.0,743.0 L857.0,740.7 L851.0,741.0 L848.0,746.0 L841.0,747.0 L833.0,744.7 L824.0,740.7 L813.0,741.0 L795.0,754.5 L785.5,763.2 L768.6,775.1 L751.7,786.9 L743.3,797.5 L739.1,808.1 L740.1,829.2 L744.3,843.4 L736.9,845.8 L722.2,841.0 L703.2,831.8 L695.8,816.0 L694.7,802.8 L677.9,781.7 L673.6,771.1 L665.2,754.0 L654.7,742.9 L635.7,740.0 L627.2,744.7 L617.7,764.0 L614.6,763.2 L599.8,755.3 L591.4,748.7 L585.0,736.8 L578.7,719.6 L566.0,708.3 L553.4,698.5 L546.4,689.8 L511.0,689.8 L511.0,701.7 L450.6,701.7 L371.7,670.8 L373.6,665.0 L323.0,670.0 L320.2,665.5 L319.2,657.6 L310.7,645.8 L300.2,637.8 L296.0,637.8 L293.8,630.7 L281.2,628.6 L277.0,624.1 L268.5,620.7 L252.3,619.4 L248.5,615.4 L249.5,602.2 L243.8,594.3 L234.8,586.4 L222.1,570.5 L221.1,562.6 L224.2,557.3 L218.9,553.4 L211.6,546.8 L209.4,532.3 L198.9,525.7 L197.8,517.8 L184.1,501.9 L182.0,486.1 L169.4,461.3 L173.6,451.8 L175.7,433.3 L173.6,426.7 L173.6,420.1 L166.2,398.0 L171.5,383.2 L175.7,367.3 L176.3,351.5 L178.9,327.8 L177.8,308.0 L176.7,296.1 L175.7,289.5 L169.4,275.0 L164.1,264.4 L162.6,251.8 L190.5,258.3 L204.2,258.3 L201.0,286.9 L210.5,281.0 L212.6,272.3 L215.8,261.8 L209.4,242.0Z"/>
<path d="M178.0,308.0 L190.0,308.0 L201.0,314.0 L204.0,322.0 L212.0,325.0 L224.0,323.0 L238.0,324.0 L250.0,321.0 L262.0,319.0 L274.0,316.0 L286.0,314.0 L302.0,313.6 L327.0,313.6"/>
<path d="M324.6,235.4 L324.6,306.0 L329.0,313.0 L336.0,320.0 L337.0,326.0 L333.0,336.0 L326.0,346.0 L323.0,352.0 L320.0,358.0 L326.0,362.0 L325.0,366.0 L325.0,420.2"/>
<path d="M173.6,420.2 L451.2,420.2"/>
<path d="M346.0,235.4 L346.0,263.0 L351.0,272.0 L356.0,278.0 L362.0,282.0 L367.0,289.0 L372.0,294.0 L382.0,297.0 L382.0,302.0 L380.0,308.0 L380.0,316.0 L378.0,324.0 L380.0,329.0 L388.0,324.0 L393.0,325.0 L398.0,336.0 L402.0,344.0 L408.0,348.0 L410.0,354.0 L414.0,356.0 L426.0,352.0 L438.0,351.0 L444.0,347.0 L451.2,354.0"/>
<path d="M451.2,341.0 L598.9,341.0 L598.9,446.5 L451.2,446.5 L451.2,341.0"/>
<path d="M598.9,235.4 L598.9,341.0"/>
<path d="M387.9,420.2 L388.3,560.0 L388.7,573.3 L384.0,577.3 L373.3,574.7 L373.3,581.3 L376.0,597.3 L377.3,601.3 L380.0,610.7 L384.0,618.7 L386.7,622.7 L382.7,626.7 L378.7,634.7 L374.7,645.3 L373.3,653.3 L378.7,656.0 L378.7,661.3 L373.3,665.3"/>
<path d="M493.2,446.5 L493.2,701.7"/>
<path d="M388.0,552.1 L797.7,552.1"/>
<path d="M262.2,420.1 L262.2,499.3 L375.5,604.9"/>
<path d="M598.7,446.5 L640.9,446.5 L640.9,552.1"/>
<path d="M640.9,472.9 L783.4,472.9"/>
<path d="M598.7,316.1 L756.8,316.1"/>
<path d="M598.9,394.5 L714.0,394.5 L719.0,396.0 L728.0,401.0 L740.0,398.0 L754.0,400.0 L757.0,404.0 L759.0,407.0"/>
<path d="M742.7,235.4 L745.0,246.0 L746.0,260.0 L751.0,272.0 L753.0,284.0 L754.0,300.0 L757.0,308.0 L757.0,316.0 L751.0,324.0 L758.0,330.0 L759.4,340.0 L759.4,380.5 L757.0,388.0 L760.0,396.0 L759.0,407.0"/>
<path d="M759.1,380.5 L869.5,380.5"/>
<path d="M759.0,407.0 L763.0,416.0 L767.0,426.0 L770.0,438.0 L773.0,450.0 L776.0,458.0 L780.0,466.0 L786.0,474.0 L792.0,477.0 L788.0,484.0 L794.0,492.0 L797.5,496.0 L797.8,565.3 L801.7,594.3 L800.6,640.8"/>
<path d="M776.0,457.6 L860.0,456.6 L864.0,458.0 L866.0,462.0"/>
<path d="M850.0,297.0 L846.0,300.0 L845.0,314.0 L836.0,319.0 L833.0,324.0 L837.0,329.0 L836.0,340.0 L838.0,348.0 L846.0,354.0 L854.0,360.0 L862.0,367.0 L867.0,374.0 L868.0,380.0 L871.0,386.0 L870.0,398.0 L882.0,404.0 L890.0,412.0 L892.0,420.0 L888.0,428.0 L880.0,433.0 L872.0,435.0 L872.0,441.0 L875.0,446.0 L870.0,454.0 L864.0,458.0 L863.0,466.0 L866.0,476.0 L874.0,486.0 L881.0,496.0 L885.0,502.0 L891.0,504.0 L892.0,510.0 L888.0,518.0 L894.0,524.0 L902.0,530.0 L908.0,538.0 L910.0,546.0 L912.0,553.0 L908.5,561.6 L904.1,563.8 L902.7,573.3 L902.0,576.0 L898.0,582.0 L892.0,594.0 L890.0,602.0 L886.0,610.0 L879.0,622.0 L872.0,634.0 L869.0,644.0 L870.0,656.0 L873.0,664.0 L875.0,674.0 L870.0,682.0 L866.0,690.0 L862.0,698.0 L860.0,709.0 L900.0,709.0 L901.0,716.0 L898.0,724.0 L902.0,730.0"/>
<path d="M881.5,406.9 L941.6,406.9"/>
<path d="M886.8,299.5 L893.1,305.3 L914.2,311.1 L920.5,314.0 L935.3,316.7 L940.6,331.7 L944.8,338.3 L945.8,338.3"/>
<path d="M947.3,428.0 L947.3,496.0 L946.0,502.0 L942.0,512.0 L938.0,520.0 L934.0,530.0"/>
<path d="M912.0,553.0 L910.0,550.0 L914.3,545.6 L921.6,548.5 L927.4,548.5 L926.0,541.2 L933.3,539.7 L936.9,538.3 L934.7,528.1 L942.0,528.0 L950.0,529.0 L958.0,530.0 L968.0,524.0 L978.0,522.0 L990.0,516.0 L992.0,510.0 L1002.0,500.0 L1005.0,496.0 L1012.0,497.0 L1018.0,502.0 L1026.0,505.0 L1034.0,507.0 L1044.0,506.0 L1048.0,512.0 L1050.0,518.0"/>
<path d="M1004.5,496.7 L1004.5,428.0"/>
<path d="M954.3,426.5 L1004.5,426.5 L1004.5,428.0 L1033.4,427.2"/>
<path d="M1050.0,518.0 L1050.0,512.0 L1058.0,502.0 L1066.0,498.0 L1070.0,492.0 L1078.0,488.0 L1086.0,482.0 L1090.0,474.0 L1091.0,464.0 L1092.0,456.0 L1094.5,452.0 L1094.5,422.0"/>
<path d="M620.9,552.1 L620.9,565.3 L684.2,565.3 L684.2,616.5"/>
<path d="M620.9,565.3 L619.8,684.0 L544.5,684.0 L546.4,689.8"/>
<path d="M684.2,616.0 L690.0,619.0 L698.0,619.0 L702.0,624.0 L714.0,626.0 L722.0,629.0 L730.0,634.0 L740.0,634.0 L744.0,637.0 L751.0,634.0 L760.0,638.0 L770.0,633.0 L780.0,631.0 L786.0,631.0 L792.0,635.0 L800.0,637.0 L800.6,640.8 L809.5,641.5 L809.5,684.0 L815.0,692.0 L818.0,700.0 L819.0,708.0 L818.0,716.0 L817.0,724.0 L816.0,732.0 L815.0,740.0 L812.0,746.0"/>
<path d="M810.0,657.6 L870.5,657.6"/>
<path d="M797.8,565.3 L892.0,565.3 L889.0,572.0 L887.4,578.5 L901.5,578.5"/>
<path d="M908.0,564.5 L935.0,564.5 L936.0,560.0 L1190.0,563.5"/>
<path d="M888.9,604.9 L1040.8,604.9"/>
<path d="M1040.7,605.0 L1050.0,601.0 L1060.0,599.5 L1084.0,600.9 L1086.0,603.0 L1089.8,609.6 L1113.2,610.1 L1137.0,636.7"/>
<path d="M1040.7,605.0 L1036.0,611.0 L1042.0,618.0 L1050.0,624.0 L1056.0,634.0 L1062.0,644.0 L1069.0,654.0 L1074.0,662.0 L1078.0,670.0 L1081.0,678.0 L1086.0,684.0"/>
<path d="M933.2,604.9 L927.5,686.7 L929.0,727.0"/>
<path d="M989.5,605.0 L999.0,672.0 L1002.0,678.0 L998.0,688.0 L997.0,700.0 L1001.0,716.0 L1004.0,719.0 L1059.0,723.0 L1060.0,727.0 L1063.0,725.0 L1064.0,716.0 L1074.0,716.0"/>
<path d="M1000.0,710.5 L947.0,710.5 L948.0,716.0 L950.0,724.0 L952.0,729.0"/>
<path d="M1094.5,422.0 L1109.0,415.0 L1110.0,419.5 L1204.0,419.5 L1209.0,424.0 L1211.0,430.0 L1215.0,434.0 L1216.0,438.0 L1212.0,442.0 L1208.0,447.0 L1206.0,453.0 L1209.0,457.0 L1213.0,461.0 L1217.0,466.0 L1215.0,470.0 L1210.0,474.0 L1207.0,477.0 L1200.0,478.0 L1195.0,479.0"/>
<path d="M1094.5,479.5 L1195.0,479.5 L1196.0,513.8 L1210.0,513.8"/>
<path d="M1216.0,438.0 L1234.0,447.0"/>
<path d="M1049.0,515.0 L1051.0,522.0 L1055.0,530.0 L1060.0,536.0 L1064.0,540.0 L1057.0,543.0 L1049.0,548.0 L1044.0,554.0 L1039.0,558.0 L1031.0,561.0"/>
<path d="M1064.0,540.0 L1068.0,544.0 L1073.0,546.0 L1081.0,544.0 L1089.0,540.0 L1097.0,539.0 L1101.0,535.0 L1103.0,530.0 L1106.0,523.0 L1110.0,515.0 L1113.0,510.0 L1119.0,514.0 L1123.0,510.0 L1127.0,503.0 L1134.0,498.0 L1138.0,492.0 L1140.0,488.0 L1145.0,490.0 L1151.0,495.0"/>
<path d="M1115.0,479.5 L1115.5,494.5 L1125.0,488.0 L1134.0,483.5 L1142.0,485.0 L1150.0,482.0 L1153.0,485.0 L1154.0,491.0 L1160.0,495.0 L1168.0,500.0 L1170.0,503.0 L1165.0,508.0 L1162.0,513.0 L1165.0,517.0 L1168.0,520.0"/>
<path d="M1068.0,563.0 L1060.0,572.0 L1051.0,576.0 L1044.0,580.0 L1036.0,586.0 L1025.0,590.0 L1019.0,595.0 L1015.0,600.0 L1015.0,605.0"/>
<path d="M1244.7,341.0 L1244.7,380.0 L1246.5,400.0 L1243.0,420.0 L1240.0,444.0"/>
<path d="M1246.7,400.0 L1292.0,400.0 L1297.0,396.0 L1301.0,397.0"/>
<path d="M1285.0,340.7 L1284.0,346.7 L1280.0,353.0 L1273.0,358.7 L1269.0,369.0 L1266.7,378.7 L1264.0,389.0 L1261.0,400.0"/>
<path d="M1294.7,333.0 L1295.0,360.0 L1296.0,380.0 L1298.7,390.7 L1301.0,394.7"/>
<path d="M1244.0,418.7 L1278.7,420.0 L1280.0,439.0"/>
<path d="M1278.7,420.0 L1287.0,419.5 L1290.0,428.0 L1293.0,433.0"/>
<path d="M1168.0,514.0 L1174.0,518.0 L1181.0,523.0"/>
<path d="M1170.0,524.0 L1176.0,529.0 L1182.0,533.0"/>
<path d="M1172.0,539.0 L1178.0,542.0 L1183.0,545.0"/>
<path d="M1170.0,546.0 L1176.0,549.0 L1181.0,551.0"/>
<path d="M1186.0,486.0 L1184.0,500.0 L1186.0,510.0 L1184.0,520.0 L1186.0,530.0 L1184.0,540.0 L1187.0,548.0"/>
<path d="M1189.0,505.0 L1186.0,515.0 L1188.0,528.0"/>
<path d="M1168.0,514.0 L1174.0,518.0 L1181.0,523.0" stroke-width="5"/>
<path d="M1170.0,524.0 L1176.0,529.0 L1182.0,533.0" stroke-width="5"/>
<path d="M1172.0,539.0 L1178.0,542.0 L1183.0,545.0" stroke-width="5"/>
<path d="M1170.0,546.0 L1176.0,549.0 L1181.0,551.0" stroke-width="5"/>
<path d="M1178.0,490.0 L1176.0,500.0 L1178.0,508.0 L1174.0,514.0" stroke-width="5"/>
<path d="M1186.0,488.0 L1184.0,500.0 L1186.0,510.0 L1184.0,520.0 L1186.0,530.0 L1185.0,540.0 L1187.0,548.0" stroke-width="4.5"/>
<path d="M1176.0,552.0 L1182.0,556.0 L1188.0,557.0" stroke-width="5"/>
<path d="M989.0,335.0 L988.0,345.0" stroke-width="6"/>
<path d="M958.0,319.0 L966.0,316.0" stroke-width="6"/>
<path d="M1174.0,569.0 L1173.0,580.0 L1180.0,576.0 L1186.0,572.0 L1190.0,578.0 L1187.0,586.0" stroke-width="5"/>
<path d="M1168.0,591.0 L1176.0,590.0 L1180.0,594.0 L1178.0,600.0 L1184.0,604.0 L1180.0,610.0 L1174.0,606.0 L1167.0,600.0" stroke-width="5"/>
<path d="M1160.0,611.0 L1166.0,610.0" stroke-width="4"/>
<path d="M205.0,243.0 L210.0,247.0 L207.0,254.0 L211.0,260.0 L208.0,266.0 L211.0,272.0 L206.0,278.0 L205.0,284.0" stroke-width="9"/>
<path d="M199.0,244.0 L204.0,250.0" stroke-width="6"/>
<path d="M212.0,262.0 L215.0,268.0 L212.0,276.0" stroke-width="6"/>
<path d="M211.0,521.0 L216.0,524.0 L215.0,532.0 L220.0,540.0" stroke-width="6"/>
<path d="M212.0,526.0 L209.0,523.0" stroke-width="5"/>
<path d="M1048.0,789.0 L1051.0,793.0" stroke-width="7"/>
<path d="M1059.0,817.0 L1061.0,820.0" stroke-width="5"/>
<path d="M1083.0,866.0 L1086.0,867.0" stroke-width="6"/>
<path d="M1313.0,419.0 L1318.0,424.0" stroke-width="5"/>
<path d="M1314.0,436.0 L1317.0,437.0" stroke-width="5"/>
<path d="M1300.0,437.0 L1304.0,436.0" stroke-width="4"/>
<path d="M1225.0,457.0 L1232.0,460.0" stroke-width="5"/>
</g>
</svg></body></html>
